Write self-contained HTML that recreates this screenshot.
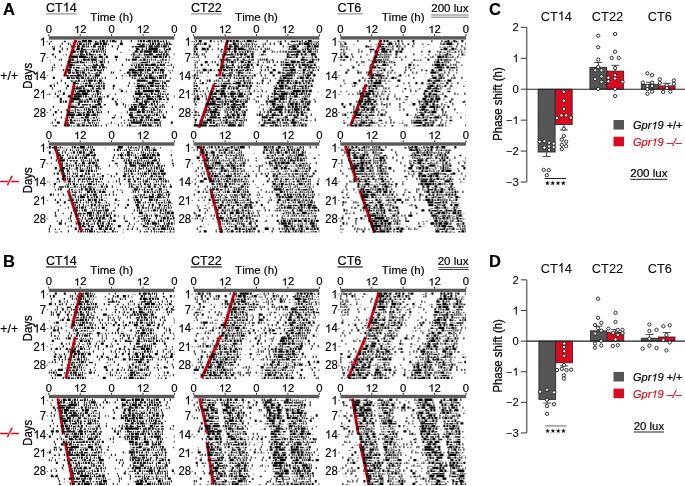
<!DOCTYPE html><html><head><meta charset="utf-8"><style>html,body{margin:0;padding:0;background:#fff;}svg{display:block;font-family:"Liberation Sans",sans-serif;will-change:transform;font-kerning:none;}</style></head><body>
<svg width="685" height="486" viewBox="0 0 685 486">
<rect width="685" height="486" fill="#fff"/>
<text transform="translate(3.00,15.00) scale(1.0,1.0)" font-size="16.5" text-anchor="start" font-weight="bold" fill="#000" stroke="#000" stroke-width="0.18"  >A</text>
<g transform="translate(46.00,11.80) scale(1.0,1.07)" fill="#000" stroke="#000" stroke-width="0.18"><text x="0.00" y="0" font-size="12.6" font-weight="normal"  >CT 4</text><path d="M763 0 L583 0 L583 -1102 Q518 -1042 412 -983 Q306 -924 223 -894 L223 -1061 Q372 -1128 484 -1224 Q596 -1320 643 -1409 L763 -1409 Z" stroke-width="29" transform="translate(16.80,0) scale(0.00615)"/></g>
<rect x="45.9" y="13.2" width="30.7" height="1.3" fill="#999"/>
<text transform="translate(111.60,21.30) scale(1.0,0.93)" font-size="11.5" text-anchor="middle" font-weight="normal" fill="#000" stroke="#000" stroke-width="0.18"  >Time (h)</text>
<text transform="translate(48.80,32.90) scale(1.0,0.93)" font-size="11.3" text-anchor="middle" font-weight="normal" fill="#000" stroke="#000" stroke-width="0.18"  >0</text>
<rect x="48.3" y="34.199999999999996" width="1" height="2" fill="#222"/>
<g transform="translate(80.20,32.90) scale(1.0,0.93)" fill="#000" stroke="#000" stroke-width="0.18"><text x="-6.28" y="0" font-size="11.3" font-weight="normal"  > 2</text><path d="M763 0 L583 0 L583 -1102 Q518 -1042 412 -983 Q306 -924 223 -894 L223 -1061 Q372 -1128 484 -1224 Q596 -1320 643 -1409 L763 -1409 Z" stroke-width="33" transform="translate(-6.28,0) scale(0.00552)"/></g>
<rect x="79.69999999999999" y="34.199999999999996" width="1" height="2" fill="#222"/>
<text transform="translate(111.60,32.90) scale(1.0,0.93)" font-size="11.3" text-anchor="middle" font-weight="normal" fill="#000" stroke="#000" stroke-width="0.18"  >0</text>
<rect x="111.1" y="34.199999999999996" width="1" height="2" fill="#222"/>
<g transform="translate(143.00,32.90) scale(1.0,0.93)" fill="#000" stroke="#000" stroke-width="0.18"><text x="-6.28" y="0" font-size="11.3" font-weight="normal"  > 2</text><path d="M763 0 L583 0 L583 -1102 Q518 -1042 412 -983 Q306 -924 223 -894 L223 -1061 Q372 -1128 484 -1224 Q596 -1320 643 -1409 L763 -1409 Z" stroke-width="33" transform="translate(-6.28,0) scale(0.00552)"/></g>
<rect x="142.5" y="34.199999999999996" width="1" height="2" fill="#222"/>
<text transform="translate(174.40,32.90) scale(1.0,0.93)" font-size="11.3" text-anchor="middle" font-weight="normal" fill="#000" stroke="#000" stroke-width="0.18"  >0</text>
<rect x="173.89999999999998" y="34.199999999999996" width="1" height="2" fill="#222"/>
<rect x="48.8" y="36.199999999999996" width="125.6" height="3.4" fill="#5a5a5a"/>
<g transform="translate(46.10,45.80) scale(1.0,1.07)" fill="#000" stroke="#000" stroke-width="0.18"><text x="-6.28" y="0" font-size="11.3" font-weight="normal"  > </text><path d="M763 0 L583 0 L583 -1102 Q518 -1042 412 -983 Q306 -924 223 -894 L223 -1061 Q372 -1128 484 -1224 Q596 -1320 643 -1409 L763 -1409 Z" stroke-width="33" transform="translate(-6.28,0) scale(0.00552)"/></g>
<rect x="46.599999999999994" y="41.199999999999996" width="1.6" height="0.8" fill="#444"/>
<text transform="translate(46.10,61.58) scale(1.0,1.07)" font-size="11.3" text-anchor="end" font-weight="normal" fill="#000" stroke="#000" stroke-width="0.18"  >7</text>
<rect x="46.599999999999994" y="56.98" width="1.6" height="0.8" fill="#444"/>
<g transform="translate(46.10,79.99) scale(1.0,1.07)" fill="#000" stroke="#000" stroke-width="0.18"><text x="-12.57" y="0" font-size="11.3" font-weight="normal"  > 4</text><path d="M763 0 L583 0 L583 -1102 Q518 -1042 412 -983 Q306 -924 223 -894 L223 -1061 Q372 -1128 484 -1224 Q596 -1320 643 -1409 L763 -1409 Z" stroke-width="33" transform="translate(-12.57,0) scale(0.00552)"/></g>
<rect x="46.599999999999994" y="75.38999999999999" width="1.6" height="0.8" fill="#444"/>
<g transform="translate(46.10,98.40) scale(1.0,1.07)" fill="#000" stroke="#000" stroke-width="0.18"><text x="-12.57" y="0" font-size="11.3" font-weight="normal"  >2 </text><path d="M763 0 L583 0 L583 -1102 Q518 -1042 412 -983 Q306 -924 223 -894 L223 -1061 Q372 -1128 484 -1224 Q596 -1320 643 -1409 L763 -1409 Z" stroke-width="33" transform="translate(-6.28,0) scale(0.00552)"/></g>
<rect x="46.599999999999994" y="93.79999999999998" width="1.6" height="0.8" fill="#444"/>
<text transform="translate(46.10,116.81) scale(1.0,1.07)" font-size="11.3" text-anchor="end" font-weight="normal" fill="#000" stroke="#000" stroke-width="0.18"  >28</text>
<rect x="46.599999999999994" y="112.20999999999998" width="1.6" height="0.8" fill="#444"/>
<line x1="75.5" y1="39.8" x2="64.7" y2="76.19999999999999" stroke="#e6000e" stroke-width="2.9"/>
<line x1="74.19999999999999" y1="84.1" x2="65.1" y2="126.5" stroke="#e6000e" stroke-width="2.9"/>
<path d="M75.8 41.13h1m5 0h5m1 0h4m8 0h1m1 0h3m2 0h1m2 0h1m1 0h3m6 0h1m9 0h1m6 0h1m1 0h2m1 0h2m3 0h3m1 0h1m1 0h2m1 0h2m4 0h1m2 0h1M48.8 43.76h1m12 0h1m5 0h1m8 0h1m1 0h3m4 0h1m1 0h1m1 0h1m4 0h4m1 0h2m1 0h4m13 0h3m27 0h1m1 0h2m1 0h1m2 0h2m4 0h1m1 0h2m1 0h1M59.8 46.39h1m10 0h1m1 0h1m3 0h3m2 0h3m1 0h1m1 0h1m4 0h3m4 0h1m1 0h2m1 0h1m6 0h1m5 0h1m20 0h6m1 0h1m2 0h4m1 0h1m1 0h4m1 0h1m1 0h4m1 0h1M52.8 49.02h2m7 0h1m4 0h1m9 0h3m1 0h2m15 0h1m1 0h1m1 0h2m13 0h1m18 0h3m3 0h1m3 0h1m2 0h9m6 0h1m4 0h2M58.8 51.65h2m12 0h3m4 0h4m1 0h2m4 0h1m1 0h2m1 0h2m1 0h1m1 0h1m1 0h1m1 0h1m29 0h3m2 0h3m1 0h8m1 0h5m1 0h1m5 0h2M52.8 54.28h1m26 0h3m3 0h2m1 0h2m13 0h2m27 0h2m4 0h1m4 0h1m4 0h4m5 0h1m2 0h1m1 0h2m1 0h2m6 0h0.6M54.8 56.91h1m13 0h1m1 0h7m1 0h7m5 0h2m6 0h4m3 0h2m7 0h3m15 0h1m11 0h1m1 0h2m4 0h5m1 0h3m1 0h1m1 0h2m2 0h1M60.8 59.54h1m10 0h2m3 0h1m5 0h3m2 0h2m1 0h6m5 0h1m1 0h1m11 0h1m9 0h1m5 0h5m6 0h3m1 0h1m3 0h1m3 0h1m6 0h2M67.8 62.17h3m6 0h2m1 0h2m10 0h1m3 0h1m3 0h3m1 0h1m3 0h1m38 0h1m1 0h1m11 0h1M53.8 64.80h1m14 0h4m11 0h1m8 0h1m2 0h2m3 0h3m18 0h1m13 0h1m1 0h2m1 0h2m2 0h3m3 0h5m4 0h2m1 0h2m6 0h1M51.8 67.43h1m16 0h3m14 0h1m5 0h5m2 0h2m1 0h3m30 0h2m1 0h3m2 0h1m12 0h2m15 0h1M51.8 70.06h1m10 0h1m3 0h4m4 0h2m7 0h1m1 0h1m1 0h1m5 0h2m1 0h1m3 0h1m1 0h1m25 0h6m3 0h6m1 0h1m1 0h4m3 0h3m1 0h1m1 0h4M64.8 72.69h1m2 0h3m5 0h3m1 0h1m1 0h3m14 0h2m10 0h1m1 0h1m13 0h3m2 0h5m3 0h2m3 0h1m1 0h1m4 0h2m6 0h1m1 0h2M63.8 75.32h1m12 0h4m2 0h1m1 0h2m3 0h1m4 0h5m29 0h2m3 0h3m1 0h4m2 0h1m4 0h3m11 0h1m1 0h2M52.8 77.95h2m12 0h3m1 0h1m4 0h3m2 0h3m4 0h1m4 0h1m1 0h1m1 0h1m7 0h1m10 0h1m15 0h1m12 0h3m1 0h5m3 0h1m1 0h3m1 0h1m1 0h1M60.8 80.58h1m16 0h2m4 0h1m1 0h1m1 0h5m1 0h2m3 0h3m35 0h9m6 0h4M56.8 83.21h1m7 0h1m7 0h3m13 0h2m7 0h2m1 0h1m27 0h1m18 0h6m8 0h1m1 0h2M49.8 85.84h2m2 0h1m12 0h2m16 0h2m1 0h5m6 0h1m1 0h1m1 0h2m8 0h2m13 0h1m8 0h7m1 0h1m4 0h4m1 0h1m2 0h1m1 0h1m1 0h2m2 0h1M51.8 88.47h1m13 0h1m9 0h6m1 0h2m7 0h2m4 0h2m3 0h2m8 0h1m24 0h2m1 0h1m1 0h2m1 0h1m1 0h2m8 0h1m3 0h2M59.8 91.10h1m12 0h1m1 0h1m3 0h7m1 0h3m1 0h1m4 0h3m22 0h2m15 0h2m3 0h11m1 0h5M54.8 93.73h1m7 0h2m11 0h4m2 0h6m9 0h2m1 0h1m34 0h8m8 0h2m5 0h1m1 0h1M56.8 96.36h2m9 0h3m3 0h8m1 0h1m1 0h2m5 0h1m2 0h1m1 0h1m9 0h2m24 0h1m5 0h2m5 0h4m7 0h4m5 0h1m7 0h0.6M59.8 98.99h2m10 0h8m9 0h3m6 0h4m10 0h2m20 0h1m1 0h3m3 0h1m4 0h6m2 0h1m3 0h3m5 0h2M59.8 101.62h2m1 0h1m1 0h2m4 0h3m5 0h4m1 0h2m1 0h2m3 0h1m1 0h2m1 0h3m1 0h1m13 0h1m20 0h2m4 0h1m1 0h4m5 0h2m1 0h2M77.8 104.25h2m18 0h3m15 0h2m5 0h1m15 0h4m2 0h2m4 0h2m1 0h1m2 0h1M52.8 106.88h1m15 0h1m1 0h4m8 0h1m6 0h1m1 0h5m3 0h2m23 0h1m5 0h2m1 0h3m1 0h1m2 0h4m10 0h2m3 0h1m1 0h1m1 0h1m7 0h1M74.8 109.51h1m8 0h1m1 0h1m1 0h2m2 0h1m3 0h1m1 0h1m30 0h8m5 0h3m6 0h1m1 0h2m2 0h1M54.8 112.14h2m4 0h1m6 0h2m5 0h1m11 0h2m1 0h1m1 0h2m3 0h1m3 0h1m6 0h1m18 0h1m9 0h4m1 0h3m2 0h1m1 0h1m1 0h2m6 0h1m1 0h1m4 0h1M52.8 114.77h1m13 0h8m3 0h4m1 0h2m1 0h4m3 0h3m1 0h1m31 0h4m21 0h1m1 0h2m5 0h1M60.8 117.40h1m9 0h3m11 0h4m7 0h1m17 0h1m6 0h1m8 0h4m7 0h3m2 0h4m10 0h1m2 0h3M54.8 120.03h1m14 0h2m12 0h2m1 0h2m8 0h1m30 0h1m4 0h2m1 0h1m3 0h3m3 0h1m1 0h1m1 0h2m2 0h6M51.8 122.66h1m4 0h3m10 0h3m11 0h1m3 0h1m3 0h1m18 0h1m19 0h11m1 0h1m1 0h1m8 0h1m5 0h1m10 0h2M64.8 125.29h1m1 0h3m7 0h3m2 0h3m5 0h1m2 0h1m1 0h2m9 0h1m11 0h1m8 0h1m1 0h2m9 0h1m1 0h5m1 0h4m5 0h2m1 0h1" stroke="#000" stroke-width="2.3" fill="none"/>
<path d="M50.8 41.53h1m12 0h2m12 0h3m14 0h2m9 0h1m8 0h2m29 0h2m12 0h2M69.8 44.16h1m12 0h2m9 0h1m13 0h1m28 0h4m1 0h3m3 0h1m8 0h1m12 0h2M51.8 46.79h1m1 0h1m20 0h1m15 0h1m6 0h2m32 0h2m1 0h4m16 0h1M75.8 49.42h1m6 0h3m6 0h2m11 0h1m33 0h1m8 0h1m17 0h3M70.8 52.05h2m4 0h2m82 0h2m5 0h1M51.8 54.68h1m13 0h1m3 0h1m7 0h1m4 0h2m6 0h3m1 0h1m3 0h2m30 0h1m13 0h4m7 0h2m1 0h2m7 0h1M85.8 57.31h2m1 0h1m4 0h3m38 0h5m9 0h1m1 0h1M58.8 59.94h1m9 0h3m9 0h1m4 0h2m40 0h2m10 0h2m7 0h1m3 0h1m6 0h1m4 0h2m2 0h1M70.8 62.57h6m5 0h3m1 0h1m7 0h1m46 0h6m10 0h3m5 0h1m2 0h1M60.8 65.20h1m11 0h2m19 0h2m35 0h2m1 0h1m8 0h1m4 0h3m6 0h2m3 0h1M53.8 67.83h1m18 0h2m1 0h4m7 0h2m1 0h1m15 0h1m34 0h1m3 0h2m1 0h3m1 0h2m4 0h2m4 0h1M76.8 70.46h2m3 0h1m7 0h3m5 0h3m19 0h1m14 0h3m26 0h1m7 0h1M71.8 73.09h3m13 0h2m6 0h2m3 0h1m28 0h1m6 0h2m16 0h1m1 0h2m11 0h1M65.8 75.72h3m1 0h7m4 0h1m40 0h1m9 0h2m12 0h2m11 0h4M71.8 78.35h3m4 0h1m5 0h1m1 0h1m3 0h1m10 0h1m31 0h2m3 0h1m1 0h3m10 0h2m14 0h1M70.8 80.98h2m2 0h2m20 0h1m48 0h2m8 0h3m1 0h1m1 0h1m3 0h4M75.8 83.61h3m4 0h1m1 0h3m8 0h1m6 0h2m29 0h1m2 0h3m15 0h5M73.8 86.24h1m2 0h1m3 0h3m10 0h1m1 0h3m45 0h1m2 0h2m7 0h2M72.8 88.87h3m20 0h2m2 0h1m35 0h2m13 0h1m4 0h2m2 0h1M57.8 91.50h1m18 0h2m14 0h2m31 0h1m8 0h2m26 0h2M48.8 94.13h1m23 0h3m4 0h2m11 0h1m1 0h1m19 0h1m28 0h4m1 0h1m4 0h2m6 0h2m1 0h1m1 0h2M87.8 96.76h1m10 0h2m3 0h1m38 0h2m5 0h1m1 0h2m1 0h1m6 0h2M79.8 99.39h1m1 0h1m3 0h2m6 0h1m1 0h1m20 0h1m21 0h1m13 0h1m3 0h1m5 0h2M115.8 102.02h1m31 0h2m9 0h1M81.8 104.65h6m1 0h2m4 0h3m6 0h2m19 0h1m5 0h1m1 0h4m6 0h2m4 0h1m12 0h2M74.8 107.28h3m2 0h3m15 0h1m41 0h1m4 0h3m4 0h1m6 0h1M49.8 109.91h1m7 0h1m7 0h2m9 0h2m11 0h2m8 0h1m37 0h2m19 0h2M69.8 112.54h4m3 0h3m1 0h1m1 0h2m4 0h1m8 0h2m30 0h3m24 0h1M75.8 115.17h2m13 0h2m22 0h1m21 0h4m3 0h3m1 0h3m1 0h1m6 0h1M66.8 117.80h1m1 0h1m11 0h3m9 0h2m17 0h2m20 0h4m1 0h1m11 0h2m5 0h1M66.8 120.43h2m5 0h2m1 0h1m1 0h1m9 0h1m2 0h4m3 0h1m24 0h1m5 0h2m12 0h1m7 0h1M64.8 123.06h1m1 0h2m4 0h2m7 0h1m6 0h2m3 0h1m1 0h1m1 0h1m22 0h1m2 0h1m4 0h1m17 0h2m1 0h1m1 0h1m2 0h3m1 0h1M52.8 125.69h1m1 0h2m14 0h1m14 0h3m2 0h1m6 0h1m2 0h1m20 0h1m32 0h1" stroke="#1a1a1a" stroke-width="1.5" fill="none"/>
<path d="M49.8 41.88h1m21 0h1m20 0h1m4 0h2m64 0h1m3 0h2M74.8 44.51h1m70 0h1m14 0h2M61.8 47.14h1m18 0h1m5 0h1m60 0h1M72.8 49.77h2m11 0h5m3 0h4m31 0h1m11 0h1m1 0h2m14 0h2M86.8 52.40h1m1 0h1m30 0h2m11 0h2m3 0h1m21 0h1m3 0h1M62.8 55.03h1m8 0h6m19 0h1m37 0h4m1 0h3m10 0h1M96.8 57.66h1m6 0h1m36 0h3M49.8 60.29h1m23 0h2m3 0h1m18 0h3m37 0h2m17 0h2M49.8 62.92h1m37 0h1m1 0h1m7 0h1m33 0h6m1 0h2m11 0h4m7 0h1M75.8 65.55h5m1 0h1m2 0h1m2 0h4m6 0h3m66 0h3M66.8 68.18h1m13 0h4m45 0h4m27 0h2m3 0h1M71.8 70.81h2m5 0h3m70 0h1m15 0h3M84.8 73.44h2m4 0h2m1 0h2m28 0h2m16 0h2m4 0h4M87.8 76.07h2m2 0h3m6 0h1m24 0h1m25 0h6M88.8 78.70h2m8 0h2m21 0h1m14 0h1M72.8 81.33h2m2 0h1m3 0h3m19 0h1m45 0h2m12 0h2M52.8 83.96h2m25 0h2m11 0h3m45 0h3m1 0h3m18 0h1M74.8 86.59h2m2 0h2m54 0h2m27 0h1m3 0h1M84.8 89.22h4m1 0h2m9 0h1m17 0h3m30 0h3m9 0h3M63.8 91.85h1m34 0h3m29 0h1m8 0h2m19 0h1m3 0h1M49.8 94.48h1m8 0h1m28 0h2m1 0h1m10 0h1m6 0h1m46 0h2M53.8 97.11h1m17 0h2m16 0h1m3 0h1m6 0h2m32 0h3m3 0h2M83.8 99.74h1m7 0h1m47 0h1m3 0h3M74.8 102.37h4m11 0h1m30 0h1m11 0h3m2 0h4m9 0h1m9 0h1m1 0h1m2 0h2M68.8 105.00h5m1 0h2m15 0h2m34 0h1m8 0h2m16 0h1m3 0h2m3 0h1M77.8 107.63h2m5 0h4m13 0h1m46 0h2m2 0h1m3 0h1M68.8 110.26h6m4 0h3m12 0h1m46 0h1m3 0h5m5 0h1m6 0h1M84.8 112.89h1m9 0h1m25 0h1m12 0h3m9 0h1m6 0h3M98.8 115.52h1m35 0h2m4 0h2m19 0h1M55.8 118.15h1m17 0h1m1 0h2m1 0h1m10 0h2m6 0h2m45 0h1m8 0h1m1 0h1M71.8 120.78h2m7 0h2m54 0h3m21 0h1M49.8 123.41h1m25 0h1m1 0h3m5 0h1m21 0h1m5 0h1M72.8 126.04h3m4 0h2m49 0h6m1 0h2m12 0h2" stroke="#444" stroke-width="0.8" fill="none"/>
<text transform="translate(48.80,139.00) scale(1.0,0.93)" font-size="11.3" text-anchor="middle" font-weight="normal" fill="#000" stroke="#000" stroke-width="0.18"  >0</text>
<rect x="48.3" y="140.3" width="1" height="2" fill="#222"/>
<g transform="translate(80.20,139.00) scale(1.0,0.93)" fill="#000" stroke="#000" stroke-width="0.18"><text x="-6.28" y="0" font-size="11.3" font-weight="normal"  > 2</text><path d="M763 0 L583 0 L583 -1102 Q518 -1042 412 -983 Q306 -924 223 -894 L223 -1061 Q372 -1128 484 -1224 Q596 -1320 643 -1409 L763 -1409 Z" stroke-width="33" transform="translate(-6.28,0) scale(0.00552)"/></g>
<rect x="79.69999999999999" y="140.3" width="1" height="2" fill="#222"/>
<text transform="translate(111.60,139.00) scale(1.0,0.93)" font-size="11.3" text-anchor="middle" font-weight="normal" fill="#000" stroke="#000" stroke-width="0.18"  >0</text>
<rect x="111.1" y="140.3" width="1" height="2" fill="#222"/>
<g transform="translate(143.00,139.00) scale(1.0,0.93)" fill="#000" stroke="#000" stroke-width="0.18"><text x="-6.28" y="0" font-size="11.3" font-weight="normal"  > 2</text><path d="M763 0 L583 0 L583 -1102 Q518 -1042 412 -983 Q306 -924 223 -894 L223 -1061 Q372 -1128 484 -1224 Q596 -1320 643 -1409 L763 -1409 Z" stroke-width="33" transform="translate(-6.28,0) scale(0.00552)"/></g>
<rect x="142.5" y="140.3" width="1" height="2" fill="#222"/>
<text transform="translate(174.40,139.00) scale(1.0,0.93)" font-size="11.3" text-anchor="middle" font-weight="normal" fill="#000" stroke="#000" stroke-width="0.18"  >0</text>
<rect x="173.89999999999998" y="140.3" width="1" height="2" fill="#222"/>
<rect x="48.8" y="142.3" width="125.6" height="3.4" fill="#5a5a5a"/>
<g transform="translate(46.10,151.90) scale(1.0,1.07)" fill="#000" stroke="#000" stroke-width="0.18"><text x="-6.28" y="0" font-size="11.3" font-weight="normal"  > </text><path d="M763 0 L583 0 L583 -1102 Q518 -1042 412 -983 Q306 -924 223 -894 L223 -1061 Q372 -1128 484 -1224 Q596 -1320 643 -1409 L763 -1409 Z" stroke-width="33" transform="translate(-6.28,0) scale(0.00552)"/></g>
<rect x="46.599999999999994" y="147.3" width="1.6" height="0.8" fill="#444"/>
<text transform="translate(46.10,167.68) scale(1.0,1.07)" font-size="11.3" text-anchor="end" font-weight="normal" fill="#000" stroke="#000" stroke-width="0.18"  >7</text>
<rect x="46.599999999999994" y="163.08" width="1.6" height="0.8" fill="#444"/>
<g transform="translate(46.10,186.09) scale(1.0,1.07)" fill="#000" stroke="#000" stroke-width="0.18"><text x="-12.57" y="0" font-size="11.3" font-weight="normal"  > 4</text><path d="M763 0 L583 0 L583 -1102 Q518 -1042 412 -983 Q306 -924 223 -894 L223 -1061 Q372 -1128 484 -1224 Q596 -1320 643 -1409 L763 -1409 Z" stroke-width="33" transform="translate(-12.57,0) scale(0.00552)"/></g>
<rect x="46.599999999999994" y="181.49" width="1.6" height="0.8" fill="#444"/>
<g transform="translate(46.10,204.50) scale(1.0,1.07)" fill="#000" stroke="#000" stroke-width="0.18"><text x="-12.57" y="0" font-size="11.3" font-weight="normal"  >2 </text><path d="M763 0 L583 0 L583 -1102 Q518 -1042 412 -983 Q306 -924 223 -894 L223 -1061 Q372 -1128 484 -1224 Q596 -1320 643 -1409 L763 -1409 Z" stroke-width="33" transform="translate(-6.28,0) scale(0.00552)"/></g>
<rect x="46.599999999999994" y="199.9" width="1.6" height="0.8" fill="#444"/>
<text transform="translate(46.10,222.91) scale(1.0,1.07)" font-size="11.3" text-anchor="end" font-weight="normal" fill="#000" stroke="#000" stroke-width="0.18"  >28</text>
<rect x="46.599999999999994" y="218.31" width="1.6" height="0.8" fill="#444"/>
<line x1="54.9" y1="145.9" x2="64.8" y2="181.4" stroke="#e6000e" stroke-width="2.9"/>
<line x1="68.1" y1="190.3" x2="81.6" y2="231.8" stroke="#e6000e" stroke-width="2.9"/>
<path d="M48.8 147.23h2m3 0h1m1 0h1m3 0h1m11 0h1m1 0h2m4 0h5m3 0h1m1 0h1m1 0h1m25 0h5m5 0h1m2 0h1m7 0h1m2 0h1m3 0h3M54.8 149.86h1m10 0h1m3 0h1m7 0h1m4 0h1m1 0h1m1 0h1m3 0h1m1 0h2m19 0h1m2 0h2m1 0h1m5 0h1m2 0h1m8 0h1m3 0h1m2 0h1m1 0h1m1 0h1m3 0h3M48.8 152.49h2m6 0h1m4 0h1m2 0h1m7 0h2m2 0h1m1 0h3m1 0h2m5 0h3m34 0h3m11 0h1m1 0h1m5 0h1m3 0h1M57.8 155.12h3m6 0h1m10 0h1m4 0h1m2 0h4m4 0h2m18 0h1m3 0h1m1 0h3m2 0h1m1 0h3m1 0h1m3 0h1m6 0h4m1 0h2m1 0h1m1 0h3m2 0h3m11 0h1M50.8 157.75h1m5 0h1m2 0h3m7 0h1m1 0h1m2 0h2m3 0h1m1 0h1m1 0h3m7 0h1m18 0h1m7 0h1m7 0h1m5 0h2m1 0h1m4 0h5m1 0h4m2 0h1M55.8 160.38h1m3 0h5m2 0h1m13 0h1m1 0h1m5 0h1m1 0h1m3 0h1m1 0h2m25 0h1m1 0h1m1 0h2m1 0h1m5 0h1m1 0h1m1 0h1m6 0h1m5 0h3m2 0h1m12 0h1M61.8 163.01h1m12 0h2m5 0h3m4 0h2m1 0h3m1 0h1m28 0h2m2 0h3m1 0h1m1 0h1m1 0h2m4 0h1m1 0h1m1 0h3m1 0h3m3 0h2M60.8 165.64h2m4 0h1m1 0h1m1 0h1m1 0h1m2 0h1m1 0h1m1 0h1m1 0h1m1 0h1m4 0h1m5 0h3m11 0h1m20 0h6m3 0h1m1 0h5m1 0h1m2 0h1m1 0h1m5 0h2m4 0h1m8 0h1M54.8 168.27h2m5 0h3m4 0h1m6 0h2m2 0h1m6 0h1m1 0h1m1 0h1m4 0h1m1 0h1m25 0h1m1 0h1m8 0h1m3 0h1m3 0h1m2 0h1m4 0h1m2 0h1m1 0h2m1 0h1m1 0h1M58.8 170.90h1m1 0h3m3 0h2m8 0h1m2 0h4m2 0h1m1 0h2m1 0h2m3 0h1m29 0h1m1 0h1m1 0h2m1 0h1m1 0h1m2 0h1m9 0h3m3 0h1m5 0h4M53.8 173.53h1m2 0h2m4 0h2m2 0h1m1 0h1m3 0h1m1 0h1m1 0h1m7 0h2m1 0h2m26 0h1m7 0h1m3 0h1m2 0h2m5 0h1m1 0h1m1 0h1m1 0h3m1 0h1m2 0h1m1 0h3m2 0h2m1 0h5M62.8 176.16h3m6 0h1m3 0h2m2 0h3m1 0h1m9 0h1m7 0h2m7 0h1m11 0h3m3 0h1m11 0h1m1 0h1m7 0h2m3 0h1m6 0h1M56.8 178.79h2m3 0h2m1 0h1m1 0h1m1 0h2m3 0h1m9 0h1m1 0h1m1 0h3m2 0h1m6 0h1m1 0h1m16 0h1m13 0h1m3 0h2m1 0h1m6 0h1m1 0h1m1 0h1m7 0h3m1 0h1M58.8 181.42h1m8 0h3m3 0h1m3 0h1m3 0h1m4 0h1m5 0h1m2 0h1m19 0h1m2 0h1m8 0h2m4 0h2m7 0h1m1 0h3m8 0h1m1 0h1m2 0h1m1 0h1m1 0h2m1 0h1M53.8 184.05h2m12 0h1m1 0h1m2 0h2m13 0h4m4 0h1m6 0h1m16 0h1m8 0h1m1 0h1m8 0h1m3 0h2m4 0h1m10 0h1M64.8 186.68h1m1 0h2m5 0h2m5 0h1m3 0h1m15 0h2m3 0h2m4 0h1m16 0h1m1 0h2m8 0h1m6 0h3m3 0h2m4 0h1m2 0h2m5 0h2M57.8 189.31h1m1 0h2m7 0h1m11 0h2m2 0h3m1 0h3m1 0h2m10 0h1m28 0h4m1 0h1m4 0h1m6 0h2m6 0h3M71.8 191.94h1m6 0h1m7 0h3m1 0h2m1 0h2m3 0h2m1 0h3m8 0h1m19 0h1m1 0h1m2 0h1m5 0h2m1 0h2m3 0h1m4 0h1m1 0h1m1 0h1m5 0h2M49.8 194.57h2m1 0h1m4 0h1m4 0h1m11 0h1m9 0h1m1 0h1m5 0h4m4 0h1m7 0h1m3 0h1m30 0h1m7 0h2m4 0h3m1 0h1m3 0h1m1 0h2M69.8 197.20h1m4 0h1m2 0h1m1 0h5m2 0h2m5 0h1m1 0h2m3 0h1m33 0h2m3 0h1m1 0h1m6 0h5m3 0h4m2 0h1m4 0h1M54.8 199.83h1m4 0h1m10 0h3m2 0h1m1 0h1m4 0h1m4 0h3m1 0h1m1 0h3m2 0h1m1 0h2m12 0h2m11 0h1m5 0h1m1 0h3m2 0h1m7 0h4m1 0h1m1 0h2m9 0h1M56.8 202.46h2m5 0h2m10 0h2m2 0h1m5 0h1m1 0h1m2 0h1m3 0h2m1 0h2m6 0h1m28 0h1m1 0h4m4 0h1m4 0h1m5 0h1m7 0h1m3 0h3M72.8 205.09h1m1 0h1m3 0h1m3 0h1m7 0h2m1 0h2m3 0h1m9 0h1m8 0h1m8 0h2m7 0h3m4 0h1m5 0h1m2 0h2m5 0h2m7 0h1M67.8 207.72h1m7 0h2m1 0h1m1 0h3m1 0h1m5 0h1m4 0h1m2 0h1m2 0h2m1 0h1m19 0h1m11 0h3m2 0h2m4 0h1m3 0h1m2 0h1m3 0h1m4 0h1m3 0h1m2 0h1M57.8 210.35h1m15 0h1m1 0h2m4 0h1m1 0h3m5 0h1m1 0h1m1 0h1m6 0h1m1 0h4m25 0h1m2 0h1m1 0h1m1 0h1m6 0h1m4 0h3m1 0h1m2 0h2m1 0h1m1 0h2M54.8 212.98h1m15 0h1m4 0h1m10 0h5m1 0h1m3 0h2m1 0h1m3 0h1m1 0h1m4 0h1m27 0h4m17 0h1m4 0h1m1 0h3m1 0h3M54.8 215.61h1m20 0h3m1 0h1m2 0h1m3 0h1m1 0h3m1 0h1m2 0h1m1 0h1m4 0h2m1 0h3m1 0h1m3 0h2m28 0h1m1 0h2m3 0h1m3 0h3m8 0h1m3 0h1M69.8 218.24h1m11 0h1m2 0h1m5 0h2m3 0h2m1 0h2m1 0h3m5 0h2m12 0h1m9 0h1m9 0h2m1 0h1m8 0h1m4 0h1m1 0h3m1 0h2m4 0h1.6M60.8 220.87h1m9 0h1m9 0h1m4 0h2m5 0h1m4 0h3m8 0h1m3 0h3m28 0h1m1 0h1m1 0h2m8 0h1m1 0h2m1 0h1m3 0h1m1 0h1m4 0h0.6M58.8 223.50h3m3 0h1m10 0h1m1 0h3m2 0h2m3 0h1m5 0h1m2 0h2m1 0h1m1 0h2m4 0h2m19 0h1m15 0h1m1 0h2m3 0h5m1 0h1m5 0h1m3 0h2m1 0h2m1 0h0.6M49.8 226.13h1m20 0h1m8 0h1m1 0h2m4 0h2m8 0h2m1 0h3m3 0h2m1 0h1m7 0h3m7 0h1m14 0h2m10 0h1m4 0h1m1 0h2m1 0h1m1 0h2M48.8 228.76h1m25 0h2m2 0h1m11 0h2m6 0h3m3 0h3m2 0h2m2 0h1m17 0h1m4 0h1m10 0h1m4 0h2m6 0h5m1 0h1m1 0h1m1 0h1m1 0h1M48.8 231.39h1m18 0h1m9 0h1m6 0h1m1 0h1m1 0h4m1 0h1m9 0h2m6 0h2m26 0h1m10 0h1m2 0h1m15 0h1m3 0h0.6" stroke="#000" stroke-width="2.3" fill="none"/>
<path d="M51.8 147.63h2m4 0h1m3 0h1m14 0h2m51 0h1m2 0h1m1 0h2m12 0h1m4 0h1m5 0h1M56.8 150.26h3m12 0h1m3 0h1m47 0h1m9 0h1m1 0h1m14 0h1m4 0h1M57.8 152.89h2m11 0h1m22 0h1m26 0h1m1 0h1m7 0h2m12 0h1m5 0h1m3 0h1m1 0h2M61.8 155.52h2m12 0h1m7 0h1m6 0h3m39 0h1m6 0h1m14 0h1M67.8 158.15h2m3 0h1m19 0h1m28 0h2m16 0h3M69.8 160.78h2m1 0h2m1 0h2m7 0h1m1 0h1m24 0h2m20 0h2m8 0h1m1 0h1m5 0h2M50.8 163.41h1m9 0h1m4 0h2m11 0h1m8 0h1m26 0h3m21 0h3m30 0h2M65.8 166.04h1m24 0h1m25 0h1m7 0h2m21 0h1m5 0h1m6 0h2M59.8 168.67h1m5 0h2m14 0h1m17 0h1m28 0h1m2 0h1m7 0h2m6 0h1m14 0h1M93.8 171.30h1m29 0h1m21 0h1m5 0h1m3 0h1M81.8 173.93h1m11 0h1m2 0h2m1 0h1m16 0h1m7 0h2m29 0h1M66.8 176.56h1m1 0h1m17 0h1m1 0h1m2 0h1m21 0h1m13 0h1m3 0h2m11 0h1m4 0h1m3 0h1m3 0h3M77.8 179.19h3m1 0h2m11 0h3m26 0h2m2 0h3m12 0h1m9 0h3m1 0h1m7 0h1M71.8 181.82h1m11 0h1m4 0h1m1 0h2m5 0h2m1 0h1m6 0h1m21 0h1m7 0h1m1 0h1m8 0h1M75.8 184.45h2m2 0h2m1 0h1m2 0h1m6 0h2m11 0h1m26 0h1m4 0h1m8 0h2m5 0h3m1 0h1m4 0h1m1 0h1m4 0h1M53.8 187.08h1m4 0h5m13 0h1m5 0h2m3 0h4m12 0h1m31 0h3m27 0h1M54.8 189.71h1m15 0h2m6 0h1m20 0h1m2 0h1m13 0h1m24 0h1m4 0h1m1 0h1m16 0h1M73.8 192.34h3m4 0h1m23 0h1m16 0h1m27 0h1m3 0h2M68.8 194.97h2m1 0h3m5 0h2m1 0h2m5 0h2m13 0h2m9 0h1m21 0h1m1 0h2m1 0h1m5 0h1m7 0h1m3 0h1M90.8 197.60h2m40 0h1m3 0h1m6 0h4m7 0h1m5 0h1m2 0h1M67.8 200.23h2m10 0h2m82 0h1m4 0h1M72.8 202.86h3m7 0h1m16 0h1m42 0h1m4 0h1m9 0h2m1 0h2m3 0h1M59.8 205.49h1m16 0h1m10 0h1m12 0h1m1 0h1m1 0h3m33 0h1m20 0h1m1 0h3m3 0h1M73.8 208.12h2m39 0h1m10 0h1m18 0h2m10 0h2m2 0h1m4 0h1m2 0h1M78.8 210.75h1m18 0h4m11 0h2m36 0h1m18 0h1M62.8 213.38h1m14 0h4m1 0h3m23 0h1m22 0h1m29 0h2M55.8 216.01h1m13 0h2m28 0h2m16 0h1m5 0h1m17 0h1m6 0h1m9 0h2m3 0h1m7 0h2M67.8 218.64h1m8 0h3m8 0h3m3 0h1m46 0h3m5 0h2m19 0h2M56.8 221.27h1m21 0h1m9 0h2m4 0h1m15 0h1m13 0h3m10 0h1m3 0h1m11 0h1M80.8 223.90h1m4 0h2m4 0h1m13 0h1m4 0h2m21 0h1m6 0h1m8 0h1m15 0h2M67.8 226.53h1m15 0h2m5 0h3m11 0h1m27 0h1m11 0h3m9 0h2m11 0h1M54.8 229.16h1m3 0h1m21 0h1m3 0h5m6 0h1m6 0h1m5 0h1m17 0h2m27 0h1m1 0h2m14 0h0.6M60.8 231.79h1m18 0h2m1 0h1m13 0h1m4 0h1m12 0h1m1 0h1m26 0h1m1 0h2m8 0h1m1 0h1m1 0h3m1 0h1" stroke="#1a1a1a" stroke-width="1.5" fill="none"/>
<path d="M56.8 147.98h1m6 0h1m2 0h1m18 0h1m18 0h1m31 0h1m6 0h2m5 0h2M62.8 150.61h2m9 0h1m5 0h2m7 0h1m32 0h1m7 0h3m38 0h1M52.8 153.24h1m14 0h2m16 0h1m1 0h2m44 0h1m2 0h2m8 0h1M68.8 155.87h2m1 0h2m7 0h1m41 0h1m13 0h1M63.8 158.50h1m13 0h1m8 0h1m1 0h1m1 0h1m25 0h2m7 0h2m30 0h2M113.8 161.13h1m8 0h1m18 0h1m7 0h1M58.8 163.76h1m4 0h1m5 0h1m15 0h1m11 0h1m28 0h1m27 0h1m4 0h1M64.8 166.39h1m20 0h3m4 0h1m4 0h2m36 0h1m19 0h2M70.8 169.02h2m1 0h2m8 0h2m33 0h1m8 0h1m21 0h1m1 0h1M68.8 171.65h1m2 0h1m69 0h1m1 0h1m13 0h1M91.8 174.28h2m13 0h2m25 0h2M72.8 176.91h3m14 0h1m6 0h1m1 0h2m25 0h1m9 0h1m24 0h1M90.8 179.54h1M48.8 182.17h1m6 0h2m6 0h3m46 0h1m39 0h2M49.8 184.80h1m15 0h2m30 0h1m1 0h2m22 0h1m9 0h3m22 0h1M69.8 187.43h3m6 0h1m12 0h1m1 0h2m2 0h1m17 0h1m16 0h2m9 0h3m10 0h2M73.8 190.06h3m19 0h3m21 0h3m9 0h2m21 0h3m5 0h2M60.8 192.69h1m6 0h1m1 0h1m26 0h1m33 0h1m31 0h4m3 0h1M64.8 195.32h1m12 0h1m20 0h1m3 0h1m30 0h3m9 0h1m8 0h1m8 0h1M70.8 197.95h3m25 0h1m4 0h1m1 0h1m58 0h1M84.8 200.58h1m18 0h2m12 0h2m39 0h2m1 0h1M92.8 203.21h1m8 0h1m1 0h1m3 0h2m4 0h2m36 0h2m17 0h2M84.8 205.84h2m10 0h2M64.8 208.47h1m23 0h1m3 0h2m3 0h1m8 0h1m42 0h1m12 0h1M89.8 211.10h1m53 0h3m21 0h2m2 0h1M94.8 213.73h1m6 0h1m5 0h1m36 0h2m2 0h1m4 0h2M137.8 216.36h4m20 0h1m4 0h2M79.8 218.99h1m24 0h2m1 0h1M68.8 221.62h1m5 0h1m7 0h1m18 0h4m1 0h1m28 0h1m14 0h2m12 0h1M89.8 224.25h2m22 0h1m15 0h1m12 0h1m15 0h1M78.8 226.88h1m32 0h1m36 0h4m19 0h1M81.8 229.51h2m39 0h1m7 0h1m13 0h2m3 0h1M54.8 232.14h3m40 0h3m6 0h3m13 0h1m43 0h1m1 0h1m2 0h2" stroke="#444" stroke-width="0.8" fill="none"/>
<text transform="translate(190.90,11.80) scale(1.0,1.07)" font-size="12.6" text-anchor="start" font-weight="normal" fill="#000" stroke="#000" stroke-width="0.18"  >CT22</text>
<rect x="190.79999999999998" y="13.2" width="31.0" height="1.3" fill="#999"/>
<text transform="translate(256.50,21.30) scale(1.0,0.93)" font-size="11.5" text-anchor="middle" font-weight="normal" fill="#000" stroke="#000" stroke-width="0.18"  >Time (h)</text>
<text transform="translate(193.70,32.90) scale(1.0,0.93)" font-size="11.3" text-anchor="middle" font-weight="normal" fill="#000" stroke="#000" stroke-width="0.18"  >0</text>
<rect x="193.2" y="34.199999999999996" width="1" height="2" fill="#222"/>
<g transform="translate(225.10,32.90) scale(1.0,0.93)" fill="#000" stroke="#000" stroke-width="0.18"><text x="-6.28" y="0" font-size="11.3" font-weight="normal"  > 2</text><path d="M763 0 L583 0 L583 -1102 Q518 -1042 412 -983 Q306 -924 223 -894 L223 -1061 Q372 -1128 484 -1224 Q596 -1320 643 -1409 L763 -1409 Z" stroke-width="33" transform="translate(-6.28,0) scale(0.00552)"/></g>
<rect x="224.6" y="34.199999999999996" width="1" height="2" fill="#222"/>
<text transform="translate(256.50,32.90) scale(1.0,0.93)" font-size="11.3" text-anchor="middle" font-weight="normal" fill="#000" stroke="#000" stroke-width="0.18"  >0</text>
<rect x="256.0" y="34.199999999999996" width="1" height="2" fill="#222"/>
<g transform="translate(287.90,32.90) scale(1.0,0.93)" fill="#000" stroke="#000" stroke-width="0.18"><text x="-6.28" y="0" font-size="11.3" font-weight="normal"  > 2</text><path d="M763 0 L583 0 L583 -1102 Q518 -1042 412 -983 Q306 -924 223 -894 L223 -1061 Q372 -1128 484 -1224 Q596 -1320 643 -1409 L763 -1409 Z" stroke-width="33" transform="translate(-6.28,0) scale(0.00552)"/></g>
<rect x="287.4" y="34.199999999999996" width="1" height="2" fill="#222"/>
<text transform="translate(319.30,32.90) scale(1.0,0.93)" font-size="11.3" text-anchor="middle" font-weight="normal" fill="#000" stroke="#000" stroke-width="0.18"  >0</text>
<rect x="318.79999999999995" y="34.199999999999996" width="1" height="2" fill="#222"/>
<rect x="193.7" y="36.199999999999996" width="125.6" height="3.4" fill="#5a5a5a"/>
<g transform="translate(191.00,45.80) scale(1.0,1.07)" fill="#000" stroke="#000" stroke-width="0.18"><text x="-6.28" y="0" font-size="11.3" font-weight="normal"  > </text><path d="M763 0 L583 0 L583 -1102 Q518 -1042 412 -983 Q306 -924 223 -894 L223 -1061 Q372 -1128 484 -1224 Q596 -1320 643 -1409 L763 -1409 Z" stroke-width="33" transform="translate(-6.28,0) scale(0.00552)"/></g>
<rect x="191.5" y="41.199999999999996" width="1.6" height="0.8" fill="#444"/>
<text transform="translate(191.00,61.58) scale(1.0,1.07)" font-size="11.3" text-anchor="end" font-weight="normal" fill="#000" stroke="#000" stroke-width="0.18"  >7</text>
<rect x="191.5" y="56.98" width="1.6" height="0.8" fill="#444"/>
<g transform="translate(191.00,79.99) scale(1.0,1.07)" fill="#000" stroke="#000" stroke-width="0.18"><text x="-12.57" y="0" font-size="11.3" font-weight="normal"  > 4</text><path d="M763 0 L583 0 L583 -1102 Q518 -1042 412 -983 Q306 -924 223 -894 L223 -1061 Q372 -1128 484 -1224 Q596 -1320 643 -1409 L763 -1409 Z" stroke-width="33" transform="translate(-12.57,0) scale(0.00552)"/></g>
<rect x="191.5" y="75.38999999999999" width="1.6" height="0.8" fill="#444"/>
<g transform="translate(191.00,98.40) scale(1.0,1.07)" fill="#000" stroke="#000" stroke-width="0.18"><text x="-12.57" y="0" font-size="11.3" font-weight="normal"  >2 </text><path d="M763 0 L583 0 L583 -1102 Q518 -1042 412 -983 Q306 -924 223 -894 L223 -1061 Q372 -1128 484 -1224 Q596 -1320 643 -1409 L763 -1409 Z" stroke-width="33" transform="translate(-6.28,0) scale(0.00552)"/></g>
<rect x="191.5" y="93.79999999999998" width="1.6" height="0.8" fill="#444"/>
<text transform="translate(191.00,116.81) scale(1.0,1.07)" font-size="11.3" text-anchor="end" font-weight="normal" fill="#000" stroke="#000" stroke-width="0.18"  >28</text>
<rect x="191.5" y="112.20999999999998" width="1.6" height="0.8" fill="#444"/>
<line x1="227.5" y1="39.8" x2="219.2" y2="76.3" stroke="#e6000e" stroke-width="2.9"/>
<line x1="214.1" y1="84.19999999999999" x2="198.89999999999998" y2="127.7" stroke="#e6000e" stroke-width="2.9"/>
<path d="M195.7 41.13h1m2 0h3m8 0h2m9 0h1m5 0h2m1 0h2m1 0h2m1 0h3m5 0h1m2 0h5m1 0h1m13 0h1m17 0h1m11 0h1m4 0h1m5 0h4M197.7 43.76h1m1 0h1m3 0h3m19 0h2m5 0h3m2 0h1m2 0h1m4 0h1m5 0h1m12 0h1m4 0h1m3 0h1m5 0h2m6 0h1m10 0h2m1 0h1m1 0h6m1 0h1m4 0h1m1 0h1M194.7 46.39h2m12 0h2m14 0h1m3 0h3m2 0h5m3 0h1m1 0h1m1 0h1m1 0h1m3 0h1m2 0h1m7 0h1m19 0h1m8 0h4m1 0h2m8 0h4m1 0h1m1 0h5M193.7 49.02h1m1 0h2m4 0h4m1 0h2m9 0h1m8 0h4m3 0h3m1 0h6m5 0h1m1 0h1m1 0h1m7 0h1m3 0h1m1 0h1m1 0h1m19 0h1m3 0h4m8 0h1m1 0h2m2 0h1m1 0h1m1 0h1M193.7 51.65h2m10 0h1m14 0h1m7 0h1m4 0h3m8 0h1m1 0h2m1 0h1m12 0h3m6 0h1m7 0h1m2 0h1m2 0h1m10 0h4m2 0h3m2 0h4m3 0h1m1 0h1M193.7 54.28h1m1 0h2m4 0h1m1 0h1m19 0h3m4 0h2m2 0h1m1 0h2m1 0h3m1 0h3m4 0h3m9 0h1m23 0h2m7 0h3m2 0h2m2 0h2m4 0h5M197.7 56.91h1m6 0h1m12 0h1m4 0h1m9 0h2m6 0h1m5 0h3m2 0h2m33 0h2m7 0h2m14 0h1m2 0h2M219.7 59.54h1m5 0h3m8 0h2m4 0h2m4 0h1m3 0h1m6 0h1m1 0h1m1 0h1m1 0h2m18 0h1m14 0h4m7 0h2m2 0h1m1 0h1.6M196.7 62.17h1m7 0h3m4 0h1m2 0h1m5 0h1m5 0h1m1 0h1m1 0h3m1 0h1m5 0h3m4 0h3m7 0h1m8 0h1m1 0h1m3 0h1m3 0h1m3 0h1m1 0h1m7 0h5m1 0h3m4 0h1m4 0h5M194.7 64.80h1m5 0h2m5 0h1m8 0h2m7 0h1m5 0h2m11 0h1m1 0h3m1 0h2m4 0h2m22 0h1m1 0h1m1 0h6m1 0h2m2 0h1m2 0h1m2 0h4m1 0h2m1 0h1m3 0h2M194.7 67.43h1m26 0h3m1 0h3m3 0h1m1 0h1m3 0h2m1 0h2m3 0h4m3 0h1m7 0h1m5 0h2m20 0h1m3 0h2m4 0h2m4 0h2m1 0h4m4 0h1m2 0h0.6M202.7 70.06h4m3 0h2m6 0h2m1 0h1m1 0h3m3 0h1m1 0h2m3 0h2m5 0h1m3 0h2m1 0h1m10 0h1m3 0h1m2 0h1m4 0h3m7 0h1m6 0h6m7 0h3m3 0h1m3 0h1m4 0h1M196.7 72.69h1m2 0h1m1 0h1m5 0h1m23 0h1m5 0h3m19 0h1m9 0h3m5 0h3m10 0h2m2 0h1m7 0h2m3 0h1m1 0h3M193.7 75.32h2m1 0h1m18 0h2m4 0h4m3 0h3m2 0h1m3 0h2m14 0h2m5 0h1m3 0h1m7 0h2m11 0h7m1 0h1m8 0h1m1 0h1m1 0h4m2 0h3M193.7 77.95h1m29 0h1m5 0h1m3 0h1m8 0h2m2 0h2m3 0h1m27 0h1m2 0h4m13 0h4m2 0h3M194.7 80.58h1m4 0h1m6 0h1m1 0h2m5 0h1m1 0h1m3 0h1m5 0h2m8 0h1m4 0h2m3 0h1m1 0h1m11 0h2m6 0h1m8 0h6m2 0h3m1 0h1m10 0h2m5 0h2m1 0h2M193.7 83.21h1m7 0h2m32 0h5m3 0h2m1 0h1m1 0h2m1 0h1m4 0h1m4 0h1m5 0h1m8 0h3m1 0h3m3 0h2m1 0h1m2 0h1m1 0h3m1 0h2m2 0h1m2 0h1m1 0h2M193.7 85.84h1m1 0h2m23 0h6m11 0h3m1 0h3m1 0h2m2 0h2m24 0h1m2 0h5m1 0h2m7 0h2m9 0h2m4 0h2M198.7 88.47h1m7 0h1m15 0h3m2 0h2m1 0h1m1 0h2m1 0h3m8 0h1m1 0h2m24 0h3m2 0h4m1 0h1m2 0h3m1 0h1m1 0h2m6 0h2m1 0h2m1 0h1M193.7 91.10h1m1 0h2m5 0h1m12 0h4m1 0h4m13 0h2m9 0h1m4 0h1m7 0h1m11 0h2m4 0h1m12 0h8m1 0h3m1 0h2m1 0h3M193.7 93.73h1m10 0h1m4 0h3m1 0h3m3 0h6m2 0h1m1 0h6m1 0h1m1 0h4m7 0h2m20 0h1m1 0h3m4 0h7m1 0h1m1 0h4m1 0h2m3 0h2m1 0h1m1 0h1M194.7 96.36h1m1 0h2m3 0h1m3 0h1m5 0h1m8 0h2m1 0h3m4 0h3m4 0h6m3 0h1m13 0h1m6 0h1m5 0h1m4 0h6m1 0h1m3 0h1m3 0h4m7 0h1m1 0h1m1 0h1M193.7 98.99h2m1 0h3m6 0h1m2 0h5m2 0h5m4 0h1m7 0h3m11 0h1m1 0h1m18 0h1m5 0h5m1 0h5m1 0h1m3 0h2m10 0h1m1 0h3M193.7 101.62h1m13 0h1m3 0h4m6 0h1m2 0h2m1 0h1m1 0h4m1 0h4m1 0h2m1 0h1m1 0h3m8 0h1m1 0h1m7 0h2m1 0h7m3 0h2m8 0h2m2 0h1m7 0h3m5 0h2m4 0h1M194.7 104.25h1m10 0h10m6 0h1m1 0h2m1 0h2m4 0h3m6 0h3m22 0h1m4 0h4m6 0h1m5 0h1m1 0h4m1 0h3m1 0h1m3 0h1m1 0h1m1 0h3M205.7 106.88h1m10 0h2m3 0h1m8 0h5m4 0h2m1 0h2m1 0h1m26 0h2m3 0h6m4 0h2m2 0h2m1 0h3m1 0h1m1 0h1m2 0h3M208.7 109.51h2m4 0h3m8 0h1m1 0h1m1 0h1m1 0h3m1 0h1m1 0h3m22 0h1m6 0h2m3 0h8m2 0h1m6 0h1m1 0h6m1 0h1m2 0h1m2 0h3M194.7 112.14h2m9 0h1m1 0h1m1 0h7m8 0h1m1 0h1m3 0h1m2 0h1m1 0h2m4 0h1m1 0h2m14 0h1m3 0h1m3 0h1m1 0h2m7 0h3m3 0h1m2 0h2m2 0h1m1 0h1m1 0h2m3 0h2M206.7 114.77h1m3 0h2m1 0h2m2 0h2m7 0h2m3 0h3m2 0h3m3 0h3m11 0h1m1 0h2m1 0h1m5 0h1m3 0h4m5 0h2m8 0h1m5 0h2m2 0h3m7 0h1M204.7 117.40h1m4 0h7m8 0h2m1 0h4m1 0h2m2 0h3m4 0h1m17 0h6m4 0h2m11 0h3m6 0h4m8 0h2M194.7 120.03h2m5 0h1m4 0h5m8 0h1m5 0h2m8 0h2m6 0h1m1 0h1m15 0h1m5 0h3m6 0h3m2 0h2m1 0h1m1 0h2m3 0h3m6 0h1m1 0h1m11 0h1M194.7 122.66h1m7 0h5m2 0h2m1 0h2m6 0h1m3 0h3m1 0h2m2 0h1m1 0h1m5 0h1m1 0h1m15 0h1m4 0h2m6 0h4m1 0h1m2 0h1m5 0h1m4 0h6m1 0h1M193.7 125.29h5m1 0h7m9 0h2m1 0h1m2 0h1m5 0h8m2 0h4m1 0h1m17 0h4m8 0h1m1 0h3m2 0h1m5 0h1m1 0h1m4 0h3m3 0h1m1 0h3m1 0h2" stroke="#000" stroke-width="2.3" fill="none"/>
<path d="M193.7 41.53h1m19 0h1m3 0h1m21 0h1m1 0h1m12 0h2m21 0h1m1 0h2m9 0h5m3 0h2m4 0h2m11 0h1M193.7 44.16h1m1 0h2m4 0h1m15 0h1m17 0h1m11 0h2m4 0h1m8 0h1m49 0h2M193.7 46.79h1m32 0h1m4 0h1m17 0h1m7 0h2m29 0h3m13 0h1M211.7 49.42h1m8 0h2m3 0h1m5 0h1m11 0h2m9 0h1m1 0h1m33 0h2m9 0h2m5 0h2m6 0h1M196.7 52.05h1m28 0h2m4 0h1m6 0h2m1 0h2m8 0h2m20 0h1m2 0h1m7 0h1m2 0h9m16 0h1M221.7 54.68h1m4 0h4m2 0h1m27 0h2m2 0h1m23 0h1m1 0h5m8 0h1M193.7 57.31h1m35 0h3m12 0h1m5 0h1m37 0h3m2 0h1m7 0h3M198.7 59.94h1m21 0h2m1 0h2m3 0h2m3 0h2m15 0h2m5 0h1m13 0h2m11 0h1m2 0h1m16 0h3m2 0h1m3 0h1M194.7 62.57h1m27 0h1m21 0h2m16 0h1m21 0h4m12 0h3m3 0h2M221.7 65.20h3m13 0h1m2 0h1m1 0h2m17 0h1m11 0h2m24 0h1m5 0h1m4 0h2M196.7 67.83h1m23 0h1m7 0h3m12 0h2m25 0h1m11 0h5m2 0h3m8 0h1m10 0h3M193.7 70.46h1m2 0h1m1 0h1m8 0h1m5 0h1m11 0h2m6 0h1m4 0h4m2 0h2m5 0h1m32 0h5m17 0h1m4 0h1m2 0h1M221.7 73.09h2m5 0h3m4 0h1m4 0h3m3 0h1m1 0h2m31 0h3m2 0h4m2 0h2m2 0h1M226.7 75.72h2m7 0h1m4 0h3m1 0h2m3 0h1m1 0h1m29 0h4M195.7 78.35h3m20 0h3m4 0h2m8 0h2m1 0h3m21 0h1m1 0h1m1 0h1m13 0h1m5 0h6m4 0h2m11 0h2M213.7 80.98h1m25 0h2m4 0h1m31 0h1m6 0h2m6 0h1m1 0h3m7 0h3M195.7 83.61h1m3 0h1m5 0h1m7 0h3m4 0h1m1 0h8m2 0h3m23 0h1m31 0h1m12 0h1m6 0h1M213.7 86.24h6m9 0h2m17 0h1m8 0h1m16 0h1m12 0h1m4 0h1m4 0h1m1 0h5m4 0h2M193.7 88.87h3m16 0h2m1 0h1m4 0h2m51 0h1m3 0h2m7 0h1m9 0h2m1 0h1M199.7 91.50h1m7 0h1m2 0h3m13 0h1m3 0h3m11 0h1m12 0h1m7 0h1m10 0h3m1 0h4m6 0h1M196.7 94.13h1m15 0h1m4 0h1m25 0h2m2 0h1m28 0h3m19 0h2m7 0h3M209.7 96.76h1m2 0h4m11 0h2m5 0h2m20 0h2m12 0h2m19 0h1m10 0h1M226.7 99.39h1m9 0h2m2 0h1m1 0h1m1 0h1m8 0h1m40 0h1m4 0h1m6 0h1m6 0h1M195.7 102.02h1m13 0h2m5 0h5m1 0h1m59 0h2m1 0h1m7 0h1m1 0h2m7 0h4M195.7 104.65h1m19 0h5m10 0h2m3 0h5m20 0h1m1 0h1m13 0h2m1 0h1M207.7 107.28h2m3 0h3m3 0h2m6 0h3m7 0h2m20 0h1m16 0h2m7 0h1m4 0h1m12 0h1m4 0h1M193.7 109.91h1m11 0h3m2 0h1m1 0h2m5 0h1m3 0h1m21 0h2m24 0h3m11 0h1m1 0h3m12 0h1M197.7 112.54h1m5 0h2m11 0h3m10 0h1m36 0h1m6 0h2m6 0h1m8 0h1m6 0h2m4 0h2M193.7 115.17h3m1 0h2m3 0h2m1 0h1m10 0h1m12 0h1m4 0h1m5 0h1m24 0h2m8 0h4m7 0h1m1 0h2m2 0h3m10 0h1M193.7 117.80h1m23 0h3m2 0h2m44 0h3m11 0h1M199.7 120.43h1m12 0h2m3 0h1m4 0h2m8 0h2m4 0h4m21 0h2m24 0h1m14 0h3M200.7 123.06h2m20 0h1m7 0h2m6 0h1m26 0h6m11 0h3m1 0h1m12 0h2M208.7 125.69h7m8 0h1m45 0h3m5 0h1m4 0h2m12 0h1" stroke="#1a1a1a" stroke-width="1.5" fill="none"/>
<path d="M222.7 41.88h1m21 0h1m66 0h6M208.7 44.51h1m19 0h4m10 0h2m5 0h1m5 0h2m31 0h3m1 0h6M201.7 47.14h1m37 0h2m45 0h1m15 0h1M245.7 49.77h2m23 0h1m16 0h1m8 0h3M223.7 52.40h1m6 0h1m28 0h1m46 0h1M197.7 55.03h2m18 0h2m27 0h1m1 0h1m9 0h1m48 0h2M195.7 57.66h2m28 0h4m6 0h5m2 0h1m48 0h2m12 0h3m1 0h1M193.7 60.29h2m35 0h1m1 0h1m6 0h3m2 0h4m20 0h2m19 0h6m1 0h1m10 0h1M217.7 62.92h1m5 0h2m12 0h2m12 0h2m1 0h1m33 0h1m16 0h1m8 0h2M226.7 65.55h5m33 0h1M201.7 68.18h1m1 0h2m45 0h1m51 0h2M261.7 70.81h1m35 0h4M194.7 73.44h1m24 0h2m3 0h4m16 0h1m6 0h1m4 0h1m27 0h2m12 0h3m4 0h2m6 0h1M199.7 76.07h1m6 0h1m12 0h1m27 0h2m30 0h2m16 0h4M221.7 78.70h1m5 0h1m20 0h2m24 0h2m17 0h1m9 0h1m8 0h1M218.7 81.33h2m3 0h4m6 0h3m62 0h2M217.7 83.96h2m11 0h1m10 0h2m40 0h3m14 0h1m10 0h1M212.7 86.59h1m18 0h2m1 0h3m22 0h1m27 0h2M218.7 89.22h2m19 0h4m1 0h1m11 0h1m3 0h1m48 0h2M233.7 91.85h2m6 0h2m3 0h2m36 0h4m29 0h1M199.7 94.48h2m59 0h1M217.7 97.11h2m25 0h1m3 0h1m16 0h1m8 0h4m9 0h1m9 0h2m1 0h1M213.7 99.74h1m6 0h3m4 0h4m7 0h1m31 0h3m19 0h2m1 0h1m1 0h1m10 0h1M197.7 102.37h1m3 0h1m74 0h1m3 0h2m9 0h1m6 0h1M228.7 105.00h1m40 0h2m12 0h1m16 0h2M194.7 107.63h1m9 0h1m5 0h2m12 0h1m43 0h1m1 0h1M217.7 110.26h2m22 0h3m22 0h3m36 0h1M228.7 112.89h1m9 0h2m36 0h1m12 0h1m15 0h2M207.7 115.52h2m15 0h1m43 0h3m33 0h1M195.7 118.15h1m5 0h2m3 0h3m7 0h1m18 0h1m4 0h3m31 0h7m8 0h1m1 0h2m4 0h5m1 0h1m10 0h1M202.7 120.78h4m8 0h3m11 0h3m34 0h2m3 0h5m20 0h2m1 0h1m10 0h2M207.7 123.41h1m7 0h4m16 0h1m26 0h1m24 0h2m13 0h3m1 0h1M225.7 126.04h1m31 0h1m7 0h2m13 0h1m8 0h2" stroke="#444" stroke-width="0.8" fill="none"/>
<text transform="translate(193.70,139.00) scale(1.0,0.93)" font-size="11.3" text-anchor="middle" font-weight="normal" fill="#000" stroke="#000" stroke-width="0.18"  >0</text>
<rect x="193.2" y="140.3" width="1" height="2" fill="#222"/>
<g transform="translate(225.10,139.00) scale(1.0,0.93)" fill="#000" stroke="#000" stroke-width="0.18"><text x="-6.28" y="0" font-size="11.3" font-weight="normal"  > 2</text><path d="M763 0 L583 0 L583 -1102 Q518 -1042 412 -983 Q306 -924 223 -894 L223 -1061 Q372 -1128 484 -1224 Q596 -1320 643 -1409 L763 -1409 Z" stroke-width="33" transform="translate(-6.28,0) scale(0.00552)"/></g>
<rect x="224.6" y="140.3" width="1" height="2" fill="#222"/>
<text transform="translate(256.50,139.00) scale(1.0,0.93)" font-size="11.3" text-anchor="middle" font-weight="normal" fill="#000" stroke="#000" stroke-width="0.18"  >0</text>
<rect x="256.0" y="140.3" width="1" height="2" fill="#222"/>
<g transform="translate(287.90,139.00) scale(1.0,0.93)" fill="#000" stroke="#000" stroke-width="0.18"><text x="-6.28" y="0" font-size="11.3" font-weight="normal"  > 2</text><path d="M763 0 L583 0 L583 -1102 Q518 -1042 412 -983 Q306 -924 223 -894 L223 -1061 Q372 -1128 484 -1224 Q596 -1320 643 -1409 L763 -1409 Z" stroke-width="33" transform="translate(-6.28,0) scale(0.00552)"/></g>
<rect x="287.4" y="140.3" width="1" height="2" fill="#222"/>
<text transform="translate(319.30,139.00) scale(1.0,0.93)" font-size="11.3" text-anchor="middle" font-weight="normal" fill="#000" stroke="#000" stroke-width="0.18"  >0</text>
<rect x="318.79999999999995" y="140.3" width="1" height="2" fill="#222"/>
<rect x="193.7" y="142.3" width="125.6" height="3.4" fill="#5a5a5a"/>
<g transform="translate(191.00,151.90) scale(1.0,1.07)" fill="#000" stroke="#000" stroke-width="0.18"><text x="-6.28" y="0" font-size="11.3" font-weight="normal"  > </text><path d="M763 0 L583 0 L583 -1102 Q518 -1042 412 -983 Q306 -924 223 -894 L223 -1061 Q372 -1128 484 -1224 Q596 -1320 643 -1409 L763 -1409 Z" stroke-width="33" transform="translate(-6.28,0) scale(0.00552)"/></g>
<rect x="191.5" y="147.3" width="1.6" height="0.8" fill="#444"/>
<text transform="translate(191.00,167.68) scale(1.0,1.07)" font-size="11.3" text-anchor="end" font-weight="normal" fill="#000" stroke="#000" stroke-width="0.18"  >7</text>
<rect x="191.5" y="163.08" width="1.6" height="0.8" fill="#444"/>
<g transform="translate(191.00,186.09) scale(1.0,1.07)" fill="#000" stroke="#000" stroke-width="0.18"><text x="-12.57" y="0" font-size="11.3" font-weight="normal"  > 4</text><path d="M763 0 L583 0 L583 -1102 Q518 -1042 412 -983 Q306 -924 223 -894 L223 -1061 Q372 -1128 484 -1224 Q596 -1320 643 -1409 L763 -1409 Z" stroke-width="33" transform="translate(-12.57,0) scale(0.00552)"/></g>
<rect x="191.5" y="181.49" width="1.6" height="0.8" fill="#444"/>
<g transform="translate(191.00,204.50) scale(1.0,1.07)" fill="#000" stroke="#000" stroke-width="0.18"><text x="-12.57" y="0" font-size="11.3" font-weight="normal"  >2 </text><path d="M763 0 L583 0 L583 -1102 Q518 -1042 412 -983 Q306 -924 223 -894 L223 -1061 Q372 -1128 484 -1224 Q596 -1320 643 -1409 L763 -1409 Z" stroke-width="33" transform="translate(-6.28,0) scale(0.00552)"/></g>
<rect x="191.5" y="199.9" width="1.6" height="0.8" fill="#444"/>
<text transform="translate(191.00,222.91) scale(1.0,1.07)" font-size="11.3" text-anchor="end" font-weight="normal" fill="#000" stroke="#000" stroke-width="0.18"  >28</text>
<rect x="191.5" y="218.31" width="1.6" height="0.8" fill="#444"/>
<line x1="200.29999999999998" y1="145.9" x2="210.79999999999998" y2="182.4" stroke="#e6000e" stroke-width="2.9"/>
<line x1="210.79999999999998" y1="189.3" x2="221.6" y2="232.8" stroke="#e6000e" stroke-width="2.9"/>
<path d="M196.7 147.23h3m3 0h2m4 0h1m1 0h2m2 0h1m2 0h2m2 0h1m8 0h2m1 0h1m3 0h1m1 0h5m4 0h1m14 0h3m1 0h1m1 0h1m1 0h2m4 0h3m6 0h2m1 0h1m1 0h1m7 0h1m2 0h1m6 0h1m5 0h1M196.7 149.86h1m3 0h3m1 0h1m10 0h1m6 0h1m1 0h3m7 0h3m1 0h1m24 0h1m1 0h2m3 0h1m1 0h1m2 0h3m5 0h1m3 0h2m1 0h2m1 0h1m2 0h3m3 0h1M199.7 152.49h1m1 0h3m1 0h2m3 0h4m4 0h1m4 0h2m3 0h1m1 0h2m6 0h1m1 0h1m21 0h2m5 0h2m1 0h1m3 0h3m1 0h1m3 0h3m1 0h1m3 0h2m1 0h1m1 0h1m3 0h2m1 0h1M199.7 155.12h1m4 0h3m5 0h2m2 0h1m8 0h1m9 0h1m2 0h1m1 0h1m1 0h1m31 0h1m6 0h2m6 0h1m5 0h1m1 0h6m15 0h0.6M196.7 157.75h3m6 0h2m5 0h1m1 0h1m1 0h2m7 0h1m8 0h2m3 0h1m1 0h1m24 0h2m3 0h1m13 0h1m1 0h2m1 0h1m3 0h1m1 0h2m7 0h1M204.7 160.38h4m3 0h1m1 0h1m1 0h1m2 0h1m3 0h1m5 0h1m3 0h2m5 0h1m1 0h1m2 0h1m2 0h1m25 0h2m1 0h1m2 0h1m1 0h1m1 0h2m2 0h1m1 0h3m2 0h1m1 0h2m1 0h3m1 0h1M207.7 163.01h1m4 0h1m1 0h6m9 0h2m3 0h1m7 0h2m21 0h1m2 0h2m4 0h2m1 0h2m1 0h4m1 0h4m3 0h2m21 0h1M204.7 165.64h1m1 0h2m3 0h2m1 0h1m3 0h1m1 0h1m5 0h3m1 0h4m5 0h2m1 0h2m17 0h1m7 0h1m1 0h1m3 0h2m1 0h1m16 0h1m2 0h3m1 0h1m1 0h1m3 0h1M197.7 168.27h1m3 0h1m4 0h6m1 0h1m6 0h3m7 0h1m1 0h3m23 0h1m14 0h4m3 0h2m1 0h3m11 0h1m3 0h1m1 0h1m4 0h2M195.7 170.90h1m24 0h2m1 0h3m1 0h1m4 0h1m1 0h1m8 0h1m14 0h1m18 0h1m12 0h1m3 0h3m11 0h1m5 0h1M200.7 173.53h1m2 0h1m4 0h2m1 0h2m1 0h1m3 0h2m3 0h1m3 0h1m5 0h2m4 0h1m5 0h1m14 0h1m6 0h1m10 0h2m5 0h1m15 0h1m3 0h1m6 0h2M197.7 176.16h1m3 0h1m8 0h2m1 0h4m4 0h1m3 0h6m3 0h1m3 0h1m8 0h2m6 0h1m9 0h2m5 0h2m1 0h2m11 0h1m3 0h1m6 0h1m1 0h2m3 0h1m4 0h1M203.7 178.79h3m2 0h3m1 0h1m1 0h1m2 0h1m2 0h1m3 0h1m1 0h1m1 0h2m14 0h1m23 0h1m6 0h2m3 0h1m11 0h1m2 0h1m3 0h1m1 0h3m1 0h1m12 0h0.6M199.7 181.42h4m6 0h5m1 0h1m1 0h2m4 0h1m1 0h3m3 0h1m1 0h2m1 0h1m1 0h1m1 0h1m4 0h1m6 0h1m13 0h2m6 0h1m4 0h2m4 0h1m10 0h3m1 0h1m6 0h1m1 0h1m7 0h1M194.7 184.05h1m16 0h2m3 0h1m1 0h2m1 0h1m2 0h2m2 0h2m1 0h1m1 0h1m9 0h2m1 0h1m25 0h3m3 0h1m1 0h3m5 0h1m1 0h1m7 0h4m1 0h1m3 0h1m1 0h1m6 0h2M197.7 186.68h1m8 0h1m9 0h1m2 0h1m1 0h1m1 0h4m13 0h3m28 0h1m3 0h2m1 0h1m1 0h2m7 0h1m4 0h1m1 0h1m7 0h1M204.7 189.31h1m4 0h1m1 0h3m1 0h3m6 0h1m2 0h1m5 0h1m1 0h1m1 0h2m1 0h1m3 0h1m28 0h8m1 0h1m6 0h1m1 0h1m5 0h2m9 0h1m1 0h1M197.7 191.94h2m3 0h1m15 0h1m5 0h1m1 0h3m3 0h3m1 0h3m3 0h1m1 0h1m1 0h2m17 0h1m5 0h1m7 0h3m1 0h1m2 0h1m12 0h1m1 0h1m5 0h1m3 0h2M193.7 194.57h1m16 0h1m4 0h1m24 0h2m1 0h2m3 0h2m8 0h1m16 0h4m4 0h2m1 0h2m1 0h2m1 0h1m1 0h1m1 0h1m1 0h2m2 0h2m3 0h1m3 0h1m1 0h1m4 0h0.6M204.7 197.20h1m5 0h1m1 0h1m1 0h1m4 0h1m4 0h1m5 0h1m1 0h1m1 0h1m1 0h1m4 0h3m3 0h1m28 0h1m1 0h2m1 0h2m1 0h1m2 0h5m3 0h1m1 0h1m1 0h2m1 0h1m1 0h2m5 0h2M208.7 199.83h2m7 0h1m1 0h1m3 0h1m1 0h1m5 0h1m1 0h2m1 0h1m9 0h2m1 0h1m20 0h1m6 0h3m6 0h3m4 0h2m1 0h1m1 0h1m3 0h1m5 0h1M212.7 202.46h1m4 0h1m3 0h2m3 0h1m3 0h1m3 0h3m6 0h1m5 0h2m4 0h2m10 0h1m8 0h2m4 0h1m1 0h1m7 0h1m1 0h1m2 0h3m1 0h1m1 0h1m3 0h1m1 0h3m1 0h1M219.7 205.09h3m5 0h2m7 0h2m1 0h1m4 0h3m1 0h3m9 0h2m18 0h2m17 0h3m1 0h2m2 0h4M197.7 207.72h1m17 0h1m1 0h4m2 0h2m6 0h2m8 0h1m1 0h3m1 0h1m1 0h3m11 0h1m14 0h1m4 0h2m1 0h5m6 0h2m1 0h2m1 0h1m3 0h3m1 0h5M198.7 210.35h2m6 0h1m9 0h2m3 0h2m1 0h1m1 0h1m1 0h1m2 0h1m1 0h1m1 0h3m3 0h2m4 0h1m16 0h1m3 0h1m7 0h1m2 0h1m11 0h2m3 0h1m1 0h4m6 0h1m4 0h1m3 0h1.6M193.7 212.98h1m10 0h1m15 0h1m2 0h2m4 0h4m2 0h4m1 0h1m1 0h1m4 0h2m3 0h1m4 0h1m27 0h1m1 0h1m1 0h1m2 0h2m7 0h5m4 0h1M195.7 215.61h1m1 0h3m10 0h1m2 0h1m2 0h1m9 0h1m2 0h1m4 0h1m7 0h2m4 0h1m2 0h1m6 0h1m12 0h1m4 0h1m10 0h1m3 0h1m1 0h1m1 0h1m4 0h1m6 0h1M196.7 218.24h1m5 0h1m13 0h1m1 0h5m4 0h1m1 0h2m6 0h1m1 0h3m3 0h2m1 0h2m31 0h1m32 0h1M201.7 220.87h1m19 0h1m1 0h1m1 0h2m4 0h2m1 0h2m1 0h1m3 0h1m13 0h2m8 0h1m10 0h2m2 0h1m1 0h3m1 0h1m1 0h2m1 0h1m1 0h3m1 0h4m2 0h3m4 0h2m1 0h1m1 0h3M219.7 223.50h1m6 0h1m1 0h1m7 0h1m1 0h1m1 0h1m7 0h3m3 0h1m23 0h1m1 0h6m1 0h3m1 0h1m9 0h1m3 0h1m3 0h5M234.7 226.13h2m6 0h2m6 0h1m4 0h2m26 0h4m3 0h2m5 0h1m1 0h3m9 0h3m1 0h1M196.7 228.76h1m23 0h1m4 0h1m8 0h3m1 0h2m5 0h1m4 0h1m1 0h3m9 0h4m4 0h1m5 0h1m2 0h1m1 0h1m1 0h2m2 0h1m1 0h3m4 0h1m1 0h2m3 0h3m3 0h1m1 0h2m1 0h2M199.7 231.39h1m3 0h3m9 0h1m4 0h2m4 0h1m3 0h3m5 0h2m5 0h2m1 0h2m1 0h1m5 0h2m12 0h1m12 0h2m1 0h2m3 0h1m1 0h2m1 0h1m1 0h3m1 0h1m8 0h1m5 0h0.6" stroke="#000" stroke-width="2.3" fill="none"/>
<path d="M199.7 147.63h2m5 0h1m19 0h3m6 0h1m39 0h1m5 0h1m1 0h1m12 0h1m3 0h1M193.7 150.26h1m24 0h3m7 0h1m39 0h1m11 0h2M208.7 152.89h1m11 0h2m11 0h1m40 0h1m7 0h1M217.7 155.52h1m1 0h3m5 0h1m1 0h2m1 0h2m2 0h1m29 0h2m3 0h2m18 0h1m1 0h1m10 0h1M207.7 158.15h2m23 0h1m4 0h1m17 0h1m8 0h1m3 0h1m4 0h1m1 0h3m1 0h4m16 0h2m1 0h2m9 0h2M198.7 160.78h1m2 0h1m7 0h1m10 0h1m3 0h1m1 0h1m10 0h1m17 0h1m15 0h2m19 0h2M200.7 163.41h1m3 0h2m19 0h1m1 0h1m4 0h1m3 0h1m3 0h1m3 0h1m25 0h2m12 0h1m12 0h1m1 0h1m1 0h3m1 0h2m2 0h1M208.7 166.04h2m6 0h1m4 0h2m1 0h1m9 0h1m1 0h2m11 0h1m8 0h2m13 0h1m5 0h2m3 0h3m3 0h1m5 0h1m9 0h1M215.7 168.67h2m1 0h1m4 0h1m12 0h2m1 0h2m25 0h1m20 0h2m10 0h1m5 0h2M210.7 171.30h2m24 0h2m2 0h2m10 0h1m31 0h1m1 0h1m5 0h1m5 0h1m3 0h1m1 0h3m8 0h1M216.7 173.93h1m13 0h1m5 0h2m3 0h1m5 0h1m7 0h1m5 0h1m2 0h1m7 0h3m1 0h1m10 0h2m2 0h2m1 0h4m1 0h1m3 0h2m2 0h1M207.7 176.56h1m9 0h1m1 0h1m3 0h1m12 0h1m6 0h3m35 0h1m2 0h1m5 0h1m2 0h1m14 0h3M194.7 179.19h1m27 0h1m8 0h1m1 0h3m1 0h2m1 0h2m4 0h1m26 0h2m2 0h1m6 0h4m9 0h1m11 0h1M220.7 181.82h1m8 0h1m12 0h2m3 0h1m23 0h2m3 0h1m5 0h1m1 0h1m3 0h1m3 0h2m8 0h1m1 0h2M213.7 184.45h1m23 0h2m9 0h1m13 0h1m13 0h1m7 0h3m5 0h2m2 0h1M211.7 187.08h1m1 0h2m14 0h2m13 0h1m1 0h2m25 0h1m13 0h1m18 0h1m1 0h2m2 0h1M219.7 189.71h3m17 0h1m2 0h1m3 0h1m13 0h1m24 0h3m7 0h1m4 0h1m1 0h5M205.7 192.34h2m3 0h2m10 0h1m34 0h1m10 0h1m20 0h1m1 0h1m2 0h2m7 0h1m1 0h1m3 0h1M212.7 194.97h2m3 0h2m1 0h2m3 0h1m3 0h1m1 0h1m1 0h4m1 0h1m7 0h1m9 0h1m48 0h1m3 0h1M201.7 197.60h1m15 0h1m7 0h2m30 0h1m3 0h1m7 0h1m15 0h2m20 0h3M197.7 200.23h1m5 0h1m9 0h4m10 0h3m12 0h1m15 0h1m9 0h1m15 0h1m5 0h2m12 0h3m3 0h2M214.7 202.86h3m11 0h1m3 0h1m4 0h1m1 0h1m1 0h1m5 0h1m3 0h2m34 0h2M196.7 205.49h1m7 0h1m6 0h1m5 0h1m4 0h1m1 0h2m4 0h1m1 0h2m6 0h1m35 0h1m6 0h1m3 0h4m1 0h5m9 0h1m5 0h3M208.7 208.12h1m30 0h1m40 0h2m10 0h2m11 0h1m10 0h1M244.7 210.75h2m3 0h1m6 0h1m1 0h1m15 0h1m3 0h1m3 0h1m1 0h1m1 0h1m17 0h1m1 0h1m3 0h2m2 0h2M194.7 213.38h1m21 0h3m2 0h1m28 0h1m31 0h2m12 0h3m8 0h2m3 0h1m1 0h1M219.7 216.01h2m16 0h2m6 0h2m6 0h2m1 0h1m24 0h1m1 0h1m14 0h1m3 0h2m7 0h1m1 0h3M194.7 218.64h1m17 0h1m12 0h1m6 0h4m15 0h2m29 0h1m1 0h1m5 0h2m1 0h1m1 0h1m1 0h1m3 0h2m1 0h2m1 0h2M218.7 221.27h2m8 0h1m10 0h1m5 0h2m2 0h2m1 0h1m54 0h2M221.7 223.90h1m1 0h1m6 0h1m10 0h3m53 0h1m1 0h1m15 0h1M199.7 226.53h2m23 0h1m3 0h1m1 0h2m13 0h1m41 0h2m4 0h2m9 0h1m1 0h1m3 0h1M218.7 229.16h2m7 0h2m12 0h3m3 0h3m37 0h1m8 0h1m12 0h2M218.7 231.79h1m9 0h1m6 0h2m5 0h2m9 0h1m25 0h2m1 0h1m27 0h1m3 0h2" stroke="#1a1a1a" stroke-width="1.5" fill="none"/>
<path d="M215.7 147.98h1m7 0h3m67 0h2m3 0h1M207.7 150.61h1m2 0h2m18 0h3m7 0h1m44 0h1m9 0h1m4 0h1M226.7 153.24h2m7 0h3m15 0h1m11 0h3m22 0h2m7 0h2m8 0h1M196.7 155.87h1m11 0h3m57 0h3m6 0h3m6 0h3M220.7 158.50h1m6 0h2m1 0h1m12 0h1m25 0h2m21 0h2m24 0h0.6M230.7 161.13h1m3 0h2m32 0h3m34 0h1M209.7 163.76h3m9 0h2m15 0h2m50 0h1m3 0h2M199.7 166.39h1m55 0h2m25 0h1m5 0h1m3 0h2M225.7 169.02h3m14 0h2m26 0h2m6 0h1m14 0h3M194.7 171.65h1m7 0h2m3 0h3m3 0h2m3 0h1m10 0h3m15 0h1m22 0h4m1 0h2m5 0h1m17 0h2M195.7 174.28h1m29 0h1m6 0h1m48 0h4M232.7 176.91h2m6 0h2m36 0h2m2 0h1m12 0h3m6 0h1M282.7 179.54h1m6 0h2m16 0h2M195.7 182.17h1m94 0h1M235.7 184.80h1m5 0h2m11 0h1m50 0h2m5 0h1M209.7 187.43h1m22 0h4m1 0h3m16 0h2m25 0h3m6 0h2m4 0h1m1 0h1m1 0h1M194.7 190.06h2m10 0h1m22 0h1m1 0h1m61 0h1M207.7 192.69h1m5 0h2m1 0h2m12 0h1m9 0h1m33 0h1m1 0h1m20 0h1M223.7 195.32h1m56 0h1m19 0h1M198.7 197.95h1m17 0h1m4 0h2m15 0h2m4 0h2m3 0h1m24 0h1m18 0h1M198.7 200.58h1m22 0h2m15 0h4m2 0h2m27 0h1m7 0h2m17 0h2M207.7 203.21h2m16 0h1m19 0h2m31 0h1m1 0h1m9 0h1m14 0h2M198.7 205.84h1m14 0h3m26 0h1m4 0h1m5 0h2m23 0h2m5 0h1M203.7 208.47h3m21 0h1m1 0h1m7 0h1m37 0h3m16 0h2M215.7 211.10h1m22 0h2m11 0h1m36 0h1M226.7 213.73h1m17 0h2m34 0h1m13 0h1M204.7 216.36h1m12 0h1m5 0h1m8 0h1m7 0h2m8 0h1m15 0h1m19 0h1m2 0h1m15 0h1m3 0h1M199.7 218.99h2m4 0h1m36 0h2m42 0h1m1 0h1m21 0h3M230.7 221.62h1m12 0h1m19 0h1M202.7 224.25h1m4 0h1m24 0h3m11 0h1m46 0h2m1 0h1m6 0h1m3 0h1M203.7 226.88h1m14 0h3m1 0h1m9 0h1m5 0h3m6 0h2m2 0h3m12 0h1m35 0h1m5 0h1m9 0h0.6M215.7 229.51h1m5 0h1m1 0h1m7 0h1m63 0h1m7 0h1M198.7 232.14h1m24 0h1m38 0h1m26 0h2m14 0h1m1 0h2" stroke="#444" stroke-width="0.8" fill="none"/>
<text transform="translate(337.60,11.80) scale(1.0,1.07)" font-size="12.6" text-anchor="start" font-weight="normal" fill="#000" stroke="#000" stroke-width="0.18"  >CT6</text>
<rect x="337.5" y="13.2" width="25.3" height="1.3" fill="#999"/>
<text transform="translate(403.20,21.30) scale(1.0,0.93)" font-size="11.5" text-anchor="middle" font-weight="normal" fill="#000" stroke="#000" stroke-width="0.18"  >Time (h)</text>
<text transform="translate(340.40,32.90) scale(1.0,0.93)" font-size="11.3" text-anchor="middle" font-weight="normal" fill="#000" stroke="#000" stroke-width="0.18"  >0</text>
<rect x="339.9" y="34.199999999999996" width="1" height="2" fill="#222"/>
<g transform="translate(371.80,32.90) scale(1.0,0.93)" fill="#000" stroke="#000" stroke-width="0.18"><text x="-6.28" y="0" font-size="11.3" font-weight="normal"  > 2</text><path d="M763 0 L583 0 L583 -1102 Q518 -1042 412 -983 Q306 -924 223 -894 L223 -1061 Q372 -1128 484 -1224 Q596 -1320 643 -1409 L763 -1409 Z" stroke-width="33" transform="translate(-6.28,0) scale(0.00552)"/></g>
<rect x="371.29999999999995" y="34.199999999999996" width="1" height="2" fill="#222"/>
<text transform="translate(403.20,32.90) scale(1.0,0.93)" font-size="11.3" text-anchor="middle" font-weight="normal" fill="#000" stroke="#000" stroke-width="0.18"  >0</text>
<rect x="402.7" y="34.199999999999996" width="1" height="2" fill="#222"/>
<g transform="translate(434.60,32.90) scale(1.0,0.93)" fill="#000" stroke="#000" stroke-width="0.18"><text x="-6.28" y="0" font-size="11.3" font-weight="normal"  > 2</text><path d="M763 0 L583 0 L583 -1102 Q518 -1042 412 -983 Q306 -924 223 -894 L223 -1061 Q372 -1128 484 -1224 Q596 -1320 643 -1409 L763 -1409 Z" stroke-width="33" transform="translate(-6.28,0) scale(0.00552)"/></g>
<rect x="434.09999999999997" y="34.199999999999996" width="1" height="2" fill="#222"/>
<text transform="translate(466.00,32.90) scale(1.0,0.93)" font-size="11.3" text-anchor="middle" font-weight="normal" fill="#000" stroke="#000" stroke-width="0.18"  >0</text>
<rect x="465.5" y="34.199999999999996" width="1" height="2" fill="#222"/>
<rect x="340.4" y="36.199999999999996" width="125.6" height="3.4" fill="#5a5a5a"/>
<g transform="translate(337.70,45.80) scale(1.0,1.07)" fill="#000" stroke="#000" stroke-width="0.18"><text x="-6.28" y="0" font-size="11.3" font-weight="normal"  > </text><path d="M763 0 L583 0 L583 -1102 Q518 -1042 412 -983 Q306 -924 223 -894 L223 -1061 Q372 -1128 484 -1224 Q596 -1320 643 -1409 L763 -1409 Z" stroke-width="33" transform="translate(-6.28,0) scale(0.00552)"/></g>
<rect x="338.2" y="41.199999999999996" width="1.6" height="0.8" fill="#444"/>
<text transform="translate(337.70,61.58) scale(1.0,1.07)" font-size="11.3" text-anchor="end" font-weight="normal" fill="#000" stroke="#000" stroke-width="0.18"  >7</text>
<rect x="338.2" y="56.98" width="1.6" height="0.8" fill="#444"/>
<g transform="translate(337.70,79.99) scale(1.0,1.07)" fill="#000" stroke="#000" stroke-width="0.18"><text x="-12.57" y="0" font-size="11.3" font-weight="normal"  > 4</text><path d="M763 0 L583 0 L583 -1102 Q518 -1042 412 -983 Q306 -924 223 -894 L223 -1061 Q372 -1128 484 -1224 Q596 -1320 643 -1409 L763 -1409 Z" stroke-width="33" transform="translate(-12.57,0) scale(0.00552)"/></g>
<rect x="338.2" y="75.38999999999999" width="1.6" height="0.8" fill="#444"/>
<g transform="translate(337.70,98.40) scale(1.0,1.07)" fill="#000" stroke="#000" stroke-width="0.18"><text x="-12.57" y="0" font-size="11.3" font-weight="normal"  >2 </text><path d="M763 0 L583 0 L583 -1102 Q518 -1042 412 -983 Q306 -924 223 -894 L223 -1061 Q372 -1128 484 -1224 Q596 -1320 643 -1409 L763 -1409 Z" stroke-width="33" transform="translate(-6.28,0) scale(0.00552)"/></g>
<rect x="338.2" y="93.79999999999998" width="1.6" height="0.8" fill="#444"/>
<text transform="translate(337.70,116.81) scale(1.0,1.07)" font-size="11.3" text-anchor="end" font-weight="normal" fill="#000" stroke="#000" stroke-width="0.18"  >28</text>
<rect x="338.2" y="112.20999999999998" width="1.6" height="0.8" fill="#444"/>
<line x1="380.9" y1="39.8" x2="368.59999999999997" y2="76.3" stroke="#e6000e" stroke-width="2.9"/>
<line x1="366.2" y1="84.19999999999999" x2="350.4" y2="126.3" stroke="#e6000e" stroke-width="2.9"/>
<path d="M357.4 41.13h1m11 0h1m10 0h1m2 0h2m1 0h2m9 0h2m2 0h1m10 0h2m17 0h1m9 0h1m5 0h2m4 0h2m6 0h2M340.4 43.76h1m3 0h2m42 0h4m3 0h1m2 0h1m3 0h1m10 0h1m26 0h1m3 0h1m1 0h6m5 0h1m7 0h0.6M340.4 46.39h1m1 0h1m22 0h2m12 0h2m7 0h1m3 0h1m3 0h2m1 0h1m4 0h1m7 0h1m36 0h1m6 0h1m4 0h1M346.4 49.02h1m34 0h4m7 0h1m5 0h1m2 0h2m40 0h4m4 0h3m1 0h1m8 0h1M343.4 51.65h1m14 0h1m2 0h1m8 0h1m3 0h2m5 0h6m2 0h2m4 0h3m1 0h3m19 0h1m6 0h2m7 0h1m9 0h1m1 0h1m8 0h1m2 0h1M340.4 54.28h1m2 0h2m6 0h1m28 0h1m3 0h1m1 0h1m8 0h2m16 0h1m25 0h1m6 0h2m13 0h2M340.4 56.91h2m3 0h3m4 0h1m7 0h1m13 0h3m2 0h1m4 0h1m1 0h1m1 0h1m16 0h1m26 0h1m4 0h4m1 0h2m1 0h2m5 0h1m4 0h1M340.4 59.54h1m9 0h1m23 0h2m7 0h1m1 0h1m1 0h1m13 0h1m25 0h2m8 0h2m1 0h2m5 0h1m6 0h1M356.4 62.17h1m4 0h1m1 0h1m8 0h1m1 0h3m1 0h2m1 0h1m1 0h2m4 0h1m1 0h1m42 0h1m1 0h3m5 0h1m1 0h1m1 0h1m7 0h1M358.4 64.80h1m11 0h1m11 0h4m1 0h1m6 0h1m13 0h3m2 0h1m18 0h1m1 0h6m1 0h3m1 0h1m4 0h1m2 0h1m1 0h1M352.4 67.43h2m15 0h1m2 0h4m14 0h1m14 0h1m2 0h1m27 0h6m4 0h3m7 0h1M347.4 70.06h1m35 0h2m20 0h1m4 0h1m10 0h1m9 0h2m5 0h4m7 0h1m6 0h1M345.4 72.69h2m10 0h2m1 0h1m5 0h1m1 0h1m1 0h2m5 0h1m9 0h1m2 0h1m13 0h1m7 0h1m3 0h1m13 0h6m1 0h1m6 0h1m3 0h1M370.4 75.32h4m1 0h6m6 0h1m11 0h2m7 0h1m29 0h3m1 0h1m4 0h1m5 0h1M362.4 77.95h1m7 0h3m5 0h1m1 0h2m9 0h3m1 0h1m17 0h1m18 0h4m4 0h2m1 0h1m7 0h1m2 0h1m6 0h1M343.4 80.58h1m14 0h2m4 0h1m5 0h2m3 0h2m1 0h3m3 0h1m12 0h3m27 0h3m5 0h5m7 0h4M353.4 83.21h3m12 0h1m2 0h1m1 0h8m27 0h1m6 0h2m4 0h2m9 0h3m11 0h2m9 0h1M340.4 85.84h1m13 0h1m9 0h1m1 0h1m3 0h1m1 0h4m1 0h1m1 0h1m1 0h1m15 0h1m31 0h4m3 0h2m1 0h1m4 0h2m4 0h1M362.4 88.47h1m5 0h2m1 0h1m3 0h2m6 0h1m1 0h1m2 0h1m38 0h4m3 0h3m3 0h1m8 0h1M359.4 91.10h1m8 0h5m37 0h1m4 0h1m8 0h3m4 0h2m1 0h3M357.4 93.73h1m1 0h3m1 0h1m1 0h5m2 0h2m3 0h1m3 0h1m41 0h2m3 0h3m11 0h1m11 0h1m9 0h1M360.4 96.36h1m1 0h7m4 0h1m1 0h2m2 0h1m7 0h1m6 0h1m29 0h3m1 0h2m1 0h1m1 0h1m1 0h2m1 0h1m5 0h2M361.4 98.99h2m4 0h3m10 0h1m2 0h1m2 0h2m8 0h1m2 0h1m22 0h4m4 0h3m2 0h5m11 0h1M356.4 101.62h1m1 0h5m1 0h7m2 0h3m42 0h2m1 0h1m2 0h4m1 0h3m1 0h2m1 0h2m11 0h2m13 0h1M341.4 104.25h2m6 0h2m8 0h2m2 0h3m1 0h2m1 0h3m3 0h1m4 0h1m4 0h1m2 0h1m9 0h1m12 0h3m4 0h1m3 0h1m1 0h3m4 0h2m7 0h1m10 0h1M343.4 106.88h2m8 0h1m6 0h4m9 0h2m11 0h1m12 0h1m21 0h5m3 0h6m1 0h2m1 0h1m3 0h1m3 0h2M353.4 109.51h1m3 0h2m4 0h2m1 0h3m1 0h4m2 0h1m26 0h1m12 0h1m4 0h4m8 0h2m1 0h1m4 0h2m11 0h1M353.4 112.14h5m3 0h1m3 0h1m5 0h1m1 0h1m4 0h1m6 0h1m38 0h2m3 0h1m1 0h5m6 0h1m2 0h1M342.4 114.77h1m1 0h2m9 0h6m16 0h1m2 0h3m1 0h1m21 0h2m7 0h1m4 0h4m6 0h1m1 0h1m9 0h1m1 0h1M354.4 117.40h2m5 0h1m3 0h3m21 0h1m24 0h1m1 0h2m4 0h2m1 0h1m1 0h1m6 0h5m1 0h1m5 0h1m3 0h1m9 0h1M361.4 120.03h1m6 0h1m21 0h1m33 0h3m8 0h1m5 0h1M351.4 122.66h2m3 0h1m3 0h5m5 0h3m12 0h1m4 0h1m2 0h1m17 0h1m1 0h9m8 0h1m1 0h2m6 0h1M347.4 125.29h1m6 0h3m1 0h4m1 0h1m4 0h2m8 0h1m25 0h1m1 0h1m13 0h1m1 0h4m1 0h2m1 0h3m5 0h2m1 0h2m22 0h0.6" stroke="#000" stroke-width="2.3" fill="none"/>
<path d="M394.4 41.53h1m49 0h3m4 0h1m3 0h2M378.4 44.16h1m1 0h4m3 0h1m19 0h2m13 0h1m19 0h2M344.4 46.79h1m1 0h1m20 0h2m1 0h1m10 0h3m1 0h2m60 0h1m3 0h1M340.4 49.42h2m1 0h1m14 0h1m10 0h5m12 0h3m1 0h1m49 0h2m18 0h1M376.4 52.05h2m61 0h2m13 0h2M366.4 54.68h1m9 0h3m3 0h1m5 0h1m1 0h1m37 0h1m6 0h1m8 0h2m3 0h2m7 0h1M344.4 57.31h1m36 0h2m12 0h2m2 0h1m30 0h1m10 0h1m6 0h1m1 0h1M342.4 59.94h3m23 0h1m7 0h6m31 0h2m5 0h1m14 0h1m7 0h4m2 0h2M386.4 62.57h1m6 0h2m16 0h1m27 0h1m1 0h2m15 0h1M340.4 65.20h1m35 0h2m39 0h1m43 0h1M377.4 67.83h3m29 0h1m24 0h2m6 0h2m6 0h5M348.4 70.46h1m8 0h1m12 0h2m1 0h1m6 0h2m9 0h2m32 0h2m6 0h1m2 0h1m15 0h1M382.4 73.09h1m11 0h1m61 0h1M381.4 75.72h3m14 0h1m32 0h2M368.4 78.35h2m3 0h2m8 0h1m1 0h2m49 0h1m1 0h2m13 0h1M367.4 80.98h2m3 0h1m9 0h1m5 0h1m41 0h2m1 0h2m6 0h1m2 0h1M344.4 83.61h1m11 0h1m13 0h1m14 0h1m17 0h1m24 0h2m10 0h1m1 0h1m8 0h1M352.4 86.24h1m15 0h2m12 0h1m26 0h1m17 0h2m4 0h1m17 0h1m11 0h1M365.4 88.87h1m6 0h2m30 0h2m13 0h1m6 0h1m5 0h2m3 0h2m8 0h1M340.4 91.50h1m5 0h1m17 0h3m6 0h1m1 0h1m6 0h1m1 0h2m3 0h1m12 0h1m24 0h1m9 0h3m7 0h3M348.4 94.13h1m3 0h1m17 0h1m12 0h1m4 0h1m43 0h5m20 0h1M405.4 96.76h3m19 0h1m18 0h1M359.4 99.39h1m4 0h2m4 0h4m32 0h1m20 0h2m14 0h1m8 0h1M381.4 102.02h1m41 0h1m4 0h1m33 0h2M357.4 104.65h1m4 0h1m11 0h1m8 0h2m36 0h2m11 0h1m1 0h2m6 0h1m20 0h0.6M358.4 107.28h1m5 0h3m4 0h2m46 0h2M359.4 109.91h1m1 0h2m18 0h1m1 0h1m15 0h1m19 0h2m4 0h3M347.4 112.54h1m2 0h2m7 0h2m2 0h1m5 0h2m46 0h1m1 0h3m5 0h2M362.4 115.17h2m1 0h2m1 0h6m64 0h1m7 0h1M347.4 117.80h1m8 0h3m59 0h2m9 0h3m1 0h1M343.4 120.43h1m9 0h1m1 0h1m3 0h1m3 0h1m1 0h2m3 0h2m6 0h4m29 0h1m1 0h1m1 0h6m1 0h2m5 0h2m2 0h1m2 0h1m12 0h3M343.4 123.06h2m20 0h2m1 0h2m3 0h2m1 0h1m25 0h1m21 0h5m16 0h1M351.4 125.69h3m11 0h3m3 0h1m12 0h1m6 0h2m23 0h4m16 0h1m8 0h1" stroke="#1a1a1a" stroke-width="1.5" fill="none"/>
<path d="M340.4 41.88h1m1 0h3m36 0h1m6 0h4m51 0h1m5 0h1M342.4 44.51h1m10 0h1m16 0h1m4 0h1m9 0h1m41 0h2m24 0h1M390.4 47.14h2m9 0h1m21 0h1m15 0h2m1 0h4m17 0h2M349.4 49.77h1m27 0h4m67 0h3m6 0h1M340.4 52.40h2m3 0h1m32 0h2m7 0h1m54 0h4m5 0h2m11 0h1M379.4 55.03h1m41 0h1m15 0h1m3 0h3m19 0h2M342.4 57.66h1m34 0h2m14 0h1m30 0h2m29 0h1m4 0h1M353.4 60.29h1m16 0h2m16 0h1m4 0h1m22 0h3M425.4 62.92h1M351.4 65.55h1m11 0h1m8 0h3m3 0h1m1 0h2m65 0h1M380.4 68.18h6m26 0h3M375.4 70.81h5m8 0h1m54 0h2M372.4 73.44h4m3 0h3m33 0h1m9 0h1m13 0h1m1 0h2M369.4 76.07h1m14 0h1m20 0h1m28 0h3M364.4 78.70h2m10 0h1m12 0h1m39 0h3M390.4 81.33h1m74 0h0.6M351.4 83.96h1m14 0h1m53 0h1m5 0h2m2 0h2m4 0h3M395.4 86.59h2m37 0h1m6 0h2M378.4 89.22h1m30 0h2m6 0h1M356.4 91.85h1m5 0h1m14 0h2m50 0h2M375.4 94.48h1m18 0h1m18 0h1m12 0h1m11 0h1m1 0h1M370.4 97.11h2M375.4 99.74h2m27 0h2m11 0h1m15 0h2M402.4 102.37h3m6 0h1m33 0h2M345.4 105.00h1m7 0h1m55 0h1m18 0h3m15 0h1M368.4 107.63h2m12 0h1m44 0h1M428.4 110.26h1m1 0h2M366.4 112.89h2m18 0h1m35 0h2m32 0h2m2 0h1M352.4 115.52h1m57 0h1m6 0h3m6 0h3m5 0h1m30 0h0.6M359.4 118.15h2m2 0h1m5 0h1m1 0h2m1 0h1m3 0h2m40 0h2m25 0h1M351.4 120.78h2m4 0h2m15 0h1m27 0h1m28 0h2m12 0h2M353.4 123.41h2m3 0h2m21 0h2m16 0h1m1 0h1m41 0h1m5 0h1M374.4 126.04h1m5 0h1m32 0h3" stroke="#444" stroke-width="0.8" fill="none"/>
<text transform="translate(340.40,139.00) scale(1.0,0.93)" font-size="11.3" text-anchor="middle" font-weight="normal" fill="#000" stroke="#000" stroke-width="0.18"  >0</text>
<rect x="339.9" y="140.3" width="1" height="2" fill="#222"/>
<g transform="translate(371.80,139.00) scale(1.0,0.93)" fill="#000" stroke="#000" stroke-width="0.18"><text x="-6.28" y="0" font-size="11.3" font-weight="normal"  > 2</text><path d="M763 0 L583 0 L583 -1102 Q518 -1042 412 -983 Q306 -924 223 -894 L223 -1061 Q372 -1128 484 -1224 Q596 -1320 643 -1409 L763 -1409 Z" stroke-width="33" transform="translate(-6.28,0) scale(0.00552)"/></g>
<rect x="371.29999999999995" y="140.3" width="1" height="2" fill="#222"/>
<text transform="translate(403.20,139.00) scale(1.0,0.93)" font-size="11.3" text-anchor="middle" font-weight="normal" fill="#000" stroke="#000" stroke-width="0.18"  >0</text>
<rect x="402.7" y="140.3" width="1" height="2" fill="#222"/>
<g transform="translate(434.60,139.00) scale(1.0,0.93)" fill="#000" stroke="#000" stroke-width="0.18"><text x="-6.28" y="0" font-size="11.3" font-weight="normal"  > 2</text><path d="M763 0 L583 0 L583 -1102 Q518 -1042 412 -983 Q306 -924 223 -894 L223 -1061 Q372 -1128 484 -1224 Q596 -1320 643 -1409 L763 -1409 Z" stroke-width="33" transform="translate(-6.28,0) scale(0.00552)"/></g>
<rect x="434.09999999999997" y="140.3" width="1" height="2" fill="#222"/>
<text transform="translate(466.00,139.00) scale(1.0,0.93)" font-size="11.3" text-anchor="middle" font-weight="normal" fill="#000" stroke="#000" stroke-width="0.18"  >0</text>
<rect x="465.5" y="140.3" width="1" height="2" fill="#222"/>
<rect x="340.4" y="142.3" width="125.6" height="3.4" fill="#5a5a5a"/>
<g transform="translate(337.70,151.90) scale(1.0,1.07)" fill="#000" stroke="#000" stroke-width="0.18"><text x="-6.28" y="0" font-size="11.3" font-weight="normal"  > </text><path d="M763 0 L583 0 L583 -1102 Q518 -1042 412 -983 Q306 -924 223 -894 L223 -1061 Q372 -1128 484 -1224 Q596 -1320 643 -1409 L763 -1409 Z" stroke-width="33" transform="translate(-6.28,0) scale(0.00552)"/></g>
<rect x="338.2" y="147.3" width="1.6" height="0.8" fill="#444"/>
<text transform="translate(337.70,167.68) scale(1.0,1.07)" font-size="11.3" text-anchor="end" font-weight="normal" fill="#000" stroke="#000" stroke-width="0.18"  >7</text>
<rect x="338.2" y="163.08" width="1.6" height="0.8" fill="#444"/>
<g transform="translate(337.70,186.09) scale(1.0,1.07)" fill="#000" stroke="#000" stroke-width="0.18"><text x="-12.57" y="0" font-size="11.3" font-weight="normal"  > 4</text><path d="M763 0 L583 0 L583 -1102 Q518 -1042 412 -983 Q306 -924 223 -894 L223 -1061 Q372 -1128 484 -1224 Q596 -1320 643 -1409 L763 -1409 Z" stroke-width="33" transform="translate(-12.57,0) scale(0.00552)"/></g>
<rect x="338.2" y="181.49" width="1.6" height="0.8" fill="#444"/>
<g transform="translate(337.70,204.50) scale(1.0,1.07)" fill="#000" stroke="#000" stroke-width="0.18"><text x="-12.57" y="0" font-size="11.3" font-weight="normal"  >2 </text><path d="M763 0 L583 0 L583 -1102 Q518 -1042 412 -983 Q306 -924 223 -894 L223 -1061 Q372 -1128 484 -1224 Q596 -1320 643 -1409 L763 -1409 Z" stroke-width="33" transform="translate(-6.28,0) scale(0.00552)"/></g>
<rect x="338.2" y="199.9" width="1.6" height="0.8" fill="#444"/>
<text transform="translate(337.70,222.91) scale(1.0,1.07)" font-size="11.3" text-anchor="end" font-weight="normal" fill="#000" stroke="#000" stroke-width="0.18"  >28</text>
<rect x="338.2" y="218.31" width="1.6" height="0.8" fill="#444"/>
<line x1="345.29999999999995" y1="145.9" x2="356.4" y2="181.4" stroke="#e6000e" stroke-width="2.9"/>
<line x1="359.7" y1="190.3" x2="374.5" y2="232.4" stroke="#e6000e" stroke-width="2.9"/>
<path d="M346.4 147.23h1m1 0h1m2 0h2m2 0h2m6 0h2m1 0h1m1 0h1m3 0h1m1 0h1m1 0h1m1 0h2m5 0h1m22 0h1m2 0h2m1 0h3m6 0h1m2 0h1m3 0h3m3 0h2m3 0h4m9 0h2M341.4 149.86h1m5 0h4m7 0h2m4 0h1m5 0h1m1 0h1m1 0h1m1 0h1m1 0h1m1 0h2m9 0h1m17 0h3m3 0h3m1 0h1m7 0h1m2 0h2m4 0h1M344.4 152.49h1m2 0h3m4 0h1m9 0h1m1 0h1m5 0h2m1 0h1m19 0h1m20 0h3m1 0h1m3 0h1m1 0h2m1 0h1m1 0h1m6 0h1m6 0h1m1 0h2M348.4 155.12h2m3 0h3m4 0h1m1 0h3m1 0h2m6 0h1m1 0h1m1 0h1m17 0h1m15 0h1m1 0h2m5 0h1m1 0h3m1 0h2m1 0h2m5 0h1m1 0h2m1 0h1m1 0h2M349.4 157.75h1m3 0h5m1 0h5m4 0h1m4 0h1m5 0h5m2 0h1m5 0h1m9 0h1m9 0h1m1 0h1m4 0h1m10 0h1m4 0h2m4 0h2m1 0h1m1 0h2m6 0h1M341.4 160.38h1m6 0h1m11 0h2m1 0h1m6 0h1m2 0h1m5 0h3m1 0h2m11 0h1m20 0h6m2 0h2m12 0h2m1 0h3m4 0h1M341.4 163.01h1m8 0h2m8 0h4m1 0h2m1 0h2m3 0h1m1 0h1m1 0h1m2 0h1m2 0h1m1 0h1m14 0h1m8 0h1m3 0h1m3 0h4m9 0h1m5 0h1m5 0h1m2 0h2m11 0h1m5 0h1M352.4 165.64h7m1 0h3m1 0h1m1 0h1m3 0h2m7 0h3m22 0h1m5 0h3m7 0h1m8 0h6m7 0h2m1 0h1m1 0h1m1 0h2M351.4 168.27h1m1 0h4m2 0h5m2 0h3m1 0h1m1 0h1m4 0h1m1 0h2m4 0h1m2 0h3m17 0h4m4 0h1m1 0h3m1 0h2m1 0h3m7 0h1m4 0h1m1 0h2m1 0h1m1 0h1m15 0h2M340.4 170.90h1m12 0h2m5 0h4m5 0h2m1 0h1m4 0h1m2 0h2m1 0h1m9 0h1m10 0h1m16 0h2m6 0h1m3 0h1m4 0h1m2 0h3m1 0h6m7 0h1M342.4 173.53h1m11 0h2m4 0h1m3 0h1m6 0h1m1 0h1m4 0h1m1 0h3m1 0h2m1 0h1m20 0h1m4 0h1m4 0h4m11 0h6m1 0h1m11 0h3m6 0h1M346.4 176.16h1m19 0h1m5 0h1m6 0h1m32 0h1m5 0h2m1 0h5m3 0h3m1 0h1m1 0h3m9 0h1m17 0h0.6M353.4 178.79h1m3 0h2m8 0h2m3 0h2m4 0h1m1 0h3m7 0h1m25 0h1m2 0h1m1 0h1m8 0h2m4 0h3m4 0h1m5 0h2m12 0h1M349.4 181.42h1m3 0h2m3 0h2m4 0h3m8 0h1m5 0h3m36 0h7m2 0h5m10 0h6m1 0h1M346.4 184.05h1m10 0h2m6 0h4m10 0h1m4 0h2m2 0h1m6 0h2m5 0h1m15 0h1m1 0h3m1 0h7m1 0h2m1 0h1m2 0h3m1 0h1m1 0h1m4 0h1m1 0h2M345.4 186.68h1m11 0h2m2 0h1m1 0h2m3 0h1m4 0h3m1 0h1m4 0h1m1 0h4m7 0h1m26 0h2m2 0h3m5 0h3m13 0h2M346.4 189.31h1m6 0h1m6 0h4m6 0h1m1 0h1m2 0h1m1 0h4m1 0h2m1 0h2m4 0h1m24 0h1m1 0h1m3 0h1m4 0h2m3 0h1m1 0h2m4 0h3m5 0h2m1 0h2M360.4 191.94h1m1 0h3m1 0h4m6 0h2m1 0h2m2 0h4m2 0h2m2 0h1m22 0h1m7 0h1m1 0h3m5 0h1m1 0h2m1 0h4m11 0h2m1 0h1m4 0h1M346.4 194.57h1m14 0h7m2 0h5m7 0h2m1 0h1m3 0h1m1 0h2m3 0h1m6 0h1m15 0h2m7 0h2m2 0h2m2 0h2m1 0h1m1 0h1m3 0h2m1 0h2m1 0h2m1 0h2M361.4 197.20h7m3 0h2m2 0h1m11 0h1m6 0h1m18 0h1m5 0h1m5 0h2m6 0h1m1 0h1m6 0h1m5 0h1m6 0h3M362.4 199.83h1m1 0h1m10 0h2m2 0h1m8 0h1m3 0h2m2 0h5m4 0h1m1 0h1m6 0h1m4 0h1m5 0h5m1 0h2m4 0h2m1 0h1m1 0h1m1 0h1m1 0h1m2 0h1m5 0h2M342.4 202.46h2m1 0h1m7 0h1m1 0h1m16 0h1m4 0h4m7 0h1m5 0h2m5 0h2m24 0h6m7 0h1m1 0h2m1 0h2m4 0h1M342.4 205.09h1m22 0h3m7 0h2m2 0h4m2 0h1m1 0h1m2 0h1m20 0h1m16 0h5m4 0h1m1 0h1m3 0h2m5 0h2m2 0h4M351.4 207.72h1m10 0h3m1 0h1m1 0h2m3 0h2m1 0h1m2 0h3m10 0h2m1 0h3m17 0h2m18 0h3m5 0h3m7 0h2m1 0h1M343.4 210.35h2m1 0h1m13 0h1m2 0h1m3 0h3m3 0h1m2 0h1m1 0h1m1 0h2m1 0h2m3 0h3m6 0h1m23 0h3m4 0h2m7 0h1m7 0h2m6 0h3M353.4 212.98h1m14 0h1m7 0h2m3 0h1m1 0h2m12 0h2m11 0h1m19 0h2m5 0h3m1 0h4m1 0h1m5 0h4m1 0h2m1 0h1M369.4 215.61h7m1 0h1m1 0h1m1 0h2m9 0h3m1 0h1m4 0h1m2 0h1m3 0h4m19 0h5m8 0h1m11 0h1m1 0h3M341.4 218.24h2m5 0h1m11 0h2m7 0h1m4 0h10m2 0h1m1 0h1m2 0h1m5 0h1m7 0h1m27 0h1m1 0h2m1 0h1m3 0h3m1 0h2m1 0h1m2 0h1m3 0h2M355.4 220.87h1m12 0h1m1 0h1m1 0h3m3 0h1m1 0h2m1 0h5m5 0h1m1 0h1m1 0h1m1 0h1m5 0h1m28 0h3m2 0h1m10 0h1m1 0h1m4 0h2M342.4 223.50h2m2 0h1m8 0h1m14 0h3m1 0h3m1 0h1m1 0h3m1 0h2m1 0h4m3 0h1m1 0h2m20 0h1m11 0h4m1 0h2m1 0h4m1 0h5m2 0h1m11 0h2M340.4 226.13h1m11 0h1m18 0h10m1 0h1m1 0h2m1 0h1m1 0h1m44 0h1m1 0h1m1 0h2m1 0h5m11 0h1m1 0h1m2 0h1m1 0h1M354.4 228.76h1m2 0h1m6 0h1m7 0h2m1 0h2m2 0h2m3 0h1m1 0h2m1 0h2m5 0h3m1 0h3m5 0h1m5 0h1m22 0h1m5 0h2m4 0h1m2 0h2m6 0h1m1 0h1m1 0h1M356.4 231.39h1m5 0h2m9 0h3m3 0h6m1 0h3m4 0h1m5 0h3m33 0h4m6 0h2m14 0h3m1 0h0.6" stroke="#000" stroke-width="2.3" fill="none"/>
<path d="M353.4 147.63h1m4 0h1m2 0h2m41 0h2m3 0h2m10 0h1m2 0h1m2 0h2m6 0h1m3 0h1M343.4 150.26h1m8 0h2m7 0h2m3 0h1m1 0h1m13 0h2m28 0h3m9 0h2m2 0h1m9 0h1m1 0h2m1 0h1m1 0h2m1 0h2M351.4 152.89h3m2 0h3m18 0h1m1 0h3m31 0h2m7 0h2m9 0h2m1 0h1m3 0h2M342.4 155.52h1m9 0h1m30 0h3m24 0h2m4 0h4m39 0h2M365.4 158.15h2m8 0h3m38 0h2m8 0h3m36 0h0.6M350.4 160.78h1m1 0h3m2 0h1m6 0h1m1 0h1m1 0h2m5 0h1m1 0h1m31 0h1m3 0h3m15 0h1m1 0h1M353.4 163.41h2m1 0h4m22 0h1m27 0h1m4 0h1m6 0h2m3 0h2m3 0h1m1 0h1m14 0h1M341.4 166.04h1m8 0h1m25 0h2m43 0h3m4 0h1m8 0h1m23 0h3M348.4 168.67h1m1 0h1m6 0h1m24 0h2m45 0h1m19 0h1m7 0h1M356.4 171.30h4m19 0h1m5 0h1m25 0h3m10 0h4m3 0h1m4 0h1M356.4 173.93h4m1 0h2m2 0h2m1 0h2m6 0h1m50 0h2m1 0h3m9 0h4m4 0h2M355.4 176.56h2m4 0h4m3 0h1m1 0h2m2 0h1m6 0h2m3 0h2m16 0h3m20 0h2m15 0h2m4 0h1M355.4 179.19h1m4 0h2m2 0h2m18 0h2m20 0h1m15 0h6m1 0h1m3 0h2m5 0h2m5 0h1m4 0h1m6 0h1M351.4 181.82h1m4 0h1m3 0h1m1 0h1m5 0h2m15 0h1m1 0h2m3 0h1m9 0h1m25 0h1m6 0h1m3 0h1m20 0h1M362.4 184.45h1m1 0h1m11 0h1m4 0h3m6 0h2m39 0h1m5 0h1M388.4 187.08h1m1 0h1m54 0h1M358.4 189.71h1m6 0h4m5 0h1m30 0h1m23 0h3m4 0h1m1 0h1m5 0h1m9 0h1M341.4 192.34h2m27 0h2m32 0h1m3 0h2m21 0h3m11 0h1m1 0h1m1 0h1m1 0h2M368.4 194.97h1m6 0h1m1 0h1m1 0h1m7 0h1m14 0h1m19 0h1m20 0h1M342.4 197.60h2m3 0h2m24 0h1m6 0h1m4 0h1m3 0h1m1 0h1m16 0h1m22 0h2m4 0h4m9 0h2m7 0h1M365.4 200.23h2m10 0h1m3 0h1m4 0h2m2 0h1m32 0h1m10 0h2m17 0h1M357.4 202.86h1m5 0h3m3 0h3m18 0h1m43 0h6m13 0h1m1 0h1M357.4 205.49h2m9 0h2m19 0h1m2 0h1m16 0h1m4 0h2m18 0h2m5 0h2M354.4 208.12h2m26 0h2m5 0h1m44 0h1m3 0h2m1 0h1m5 0h1M370.4 210.75h2m22 0h2m35 0h6m2 0h3m5 0h5m5 0h4M345.4 213.38h2m2 0h1m22 0h3m4 0h1m36 0h1m18 0h2m11 0h2M342.4 216.01h1m21 0h2m1 0h1m16 0h2m50 0h2m3 0h3m1 0h1m1 0h3m1 0h1m9 0h1M355.4 218.64h2m11 0h1m2 0h2m21 0h1m44 0h2m13 0h1m4 0h2m1 0h1M340.4 221.27h1m34 0h3m28 0h3m17 0h1m10 0h1m3 0h2m1 0h3m13 0h2M399.4 223.90h1m23 0h1m25 0h1m6 0h3m1 0h1M406.4 226.53h1m11 0h3m26 0h5M340.4 229.16h1m1 0h1m16 0h1m1 0h1m6 0h1m8 0h1m4 0h1m10 0h2m8 0h1m6 0h1m5 0h1m18 0h1m3 0h4m3 0h2m3 0h1m4 0h1m1 0h1M376.4 231.79h3m11 0h1m5 0h2m43 0h2m1 0h1m5 0h1m7 0h2" stroke="#1a1a1a" stroke-width="1.5" fill="none"/>
<path d="M350.4 147.98h1m30 0h1m35 0h3M354.4 150.61h3m64 0h2m12 0h1m14 0h1M361.4 153.24h2m5 0h1m42 0h2m30 0h2M346.4 155.87h1m10 0h3m10 0h1m8 0h1m1 0h1m26 0h1m25 0h3M351.4 158.50h1m69 0h2m1 0h1m7 0h1m5 0h2M356.4 161.13h1m1 0h1m51 0h2m12 0h1m3 0h1m7 0h2m8 0h2m14 0h2m1 0h0.6M370.4 163.76h1m53 0h2m12 0h1m1 0h1m3 0h1m3 0h1M369.4 166.39h1m4 0h1m8 0h4m28 0h1m1 0h2m6 0h3m11 0h2M364.4 169.02h2m65 0h3m17 0h1M365.4 171.65h4m38 0h2m6 0h2m1 0h2M410.4 174.28h2m10 0h4m21 0h2M358.4 176.91h2m24 0h1m53 0h2m2 0h1M362.4 179.54h2m5 0h1m4 0h3m10 0h1m58 0h1M371.4 182.17h1m2 0h1m2 0h1m1 0h1m57 0h1m25 0h1M359.4 184.80h2m8 0h4m1 0h1m17 0h1m53 0h2M359.4 187.43h1m6 0h1m3 0h2m52 0h1m6 0h2m5 0h3m6 0h3m3 0h2M342.4 190.06h2m44 0h2m14 0h1m19 0h2m20 0h1M347.4 192.69h1m7 0h1m17 0h3m53 0h1M425.4 195.32h3m2 0h2M368.4 197.95h2m7 0h3m47 0h3m14 0h1m8 0h1M351.4 200.58h1m15 0h3m1 0h2m12 0h1m64 0h2M367.4 203.21h2m5 0h2m6 0h2m2 0h1m5 0h1m13 0h1m50 0h2M370.4 205.84h2m1 0h2m19 0h1m63 0h1M343.4 208.47h1m26 0h3m4 0h2m8 0h1m42 0h3m18 0h1m6 0h1M350.4 211.10h1m24 0h1m6 0h1m8 0h3m49 0h2M362.4 213.73h1m6 0h3m17 0h3m2 0h2m37 0h2m28 0h1M390.4 216.36h1m7 0h1m40 0h2m12 0h2M363.4 218.99h2m24 0h1m3 0h1m35 0h1m34 0h1M390.4 221.62h2m30 0h2m24 0h1m6 0h2M392.4 224.25h1M391.4 226.88h1m1 0h1m1 0h1m1 0h3m23 0h1m28 0h1M340.4 232.14h2m29 0h1m67 0h1m7 0h3m2 0h3" stroke="#444" stroke-width="0.8" fill="none"/>
<text transform="translate(31.50,75.80) rotate(-90) scale(1,1.07)" font-size="11.3" text-anchor="middle" stroke="#000" stroke-width="0.22">Days</text>
<text transform="translate(31.50,180.30) rotate(-90) scale(1,1.07)" font-size="11.3" text-anchor="middle" stroke="#000" stroke-width="0.22">Days</text>
<text transform="translate(0.30,80.10) scale(1.0,1.0)" font-size="12.3" text-anchor="start" font-weight="normal" fill="#000" stroke="#000" stroke-width="0.18"  >+/+</text>
<text transform="translate(0.60,184.90) scale(1.0,0.92)" font-size="13" text-anchor="start" font-weight="normal" fill="#dc0a1e"   stroke="#e0001a" stroke-width="0.55"><tspan font-style="italic">–/–</tspan></text>
<text transform="translate(468.60,12.40) scale(1.0,0.95)" font-size="11.6" text-anchor="end" font-weight="normal" fill="#000" stroke="#000" stroke-width="0.18"  >200 lux</text>
<rect x="431.20000000000005" y="14.5" width="37.4" height="1.0" fill="#777"/>
<rect x="431.20000000000005" y="16.7" width="37.4" height="1.0" fill="#777"/>
<text transform="translate(3.00,267.40) scale(1.0,1.0)" font-size="16.5" text-anchor="start" font-weight="bold" fill="#000" stroke="#000" stroke-width="0.18"  >B</text>
<g transform="translate(46.00,264.90) scale(1.0,1.07)" fill="#000" stroke="#000" stroke-width="0.18"><text x="0.00" y="0" font-size="12.6" font-weight="normal"  >CT 4</text><path d="M763 0 L583 0 L583 -1102 Q518 -1042 412 -983 Q306 -924 223 -894 L223 -1061 Q372 -1128 484 -1224 Q596 -1320 643 -1409 L763 -1409 Z" stroke-width="29" transform="translate(16.80,0) scale(0.00615)"/></g>
<rect x="45.9" y="266.3" width="30.7" height="1.3" fill="#333"/>
<text transform="translate(111.60,274.40) scale(1.0,0.93)" font-size="11.5" text-anchor="middle" font-weight="normal" fill="#000" stroke="#000" stroke-width="0.18"  >Time (h)</text>
<text transform="translate(48.80,285.40) scale(1.0,0.93)" font-size="11.3" text-anchor="middle" font-weight="normal" fill="#000" stroke="#000" stroke-width="0.18"  >0</text>
<rect x="48.3" y="286.7" width="1" height="2" fill="#222"/>
<g transform="translate(80.20,285.40) scale(1.0,0.93)" fill="#000" stroke="#000" stroke-width="0.18"><text x="-6.28" y="0" font-size="11.3" font-weight="normal"  > 2</text><path d="M763 0 L583 0 L583 -1102 Q518 -1042 412 -983 Q306 -924 223 -894 L223 -1061 Q372 -1128 484 -1224 Q596 -1320 643 -1409 L763 -1409 Z" stroke-width="33" transform="translate(-6.28,0) scale(0.00552)"/></g>
<rect x="79.69999999999999" y="286.7" width="1" height="2" fill="#222"/>
<text transform="translate(111.60,285.40) scale(1.0,0.93)" font-size="11.3" text-anchor="middle" font-weight="normal" fill="#000" stroke="#000" stroke-width="0.18"  >0</text>
<rect x="111.1" y="286.7" width="1" height="2" fill="#222"/>
<g transform="translate(143.00,285.40) scale(1.0,0.93)" fill="#000" stroke="#000" stroke-width="0.18"><text x="-6.28" y="0" font-size="11.3" font-weight="normal"  > 2</text><path d="M763 0 L583 0 L583 -1102 Q518 -1042 412 -983 Q306 -924 223 -894 L223 -1061 Q372 -1128 484 -1224 Q596 -1320 643 -1409 L763 -1409 Z" stroke-width="33" transform="translate(-6.28,0) scale(0.00552)"/></g>
<rect x="142.5" y="286.7" width="1" height="2" fill="#222"/>
<text transform="translate(174.40,285.40) scale(1.0,0.93)" font-size="11.3" text-anchor="middle" font-weight="normal" fill="#000" stroke="#000" stroke-width="0.18"  >0</text>
<rect x="173.89999999999998" y="286.7" width="1" height="2" fill="#222"/>
<rect x="48.8" y="288.7" width="125.6" height="3.4" fill="#5a5a5a"/>
<g transform="translate(46.10,298.30) scale(1.0,1.07)" fill="#000" stroke="#000" stroke-width="0.18"><text x="-6.28" y="0" font-size="11.3" font-weight="normal"  > </text><path d="M763 0 L583 0 L583 -1102 Q518 -1042 412 -983 Q306 -924 223 -894 L223 -1061 Q372 -1128 484 -1224 Q596 -1320 643 -1409 L763 -1409 Z" stroke-width="33" transform="translate(-6.28,0) scale(0.00552)"/></g>
<rect x="46.599999999999994" y="293.70000000000005" width="1.6" height="0.8" fill="#444"/>
<text transform="translate(46.10,314.08) scale(1.0,1.07)" font-size="11.3" text-anchor="end" font-weight="normal" fill="#000" stroke="#000" stroke-width="0.18"  >7</text>
<rect x="46.599999999999994" y="309.48" width="1.6" height="0.8" fill="#444"/>
<g transform="translate(46.10,332.49) scale(1.0,1.07)" fill="#000" stroke="#000" stroke-width="0.18"><text x="-12.57" y="0" font-size="11.3" font-weight="normal"  > 4</text><path d="M763 0 L583 0 L583 -1102 Q518 -1042 412 -983 Q306 -924 223 -894 L223 -1061 Q372 -1128 484 -1224 Q596 -1320 643 -1409 L763 -1409 Z" stroke-width="33" transform="translate(-12.57,0) scale(0.00552)"/></g>
<rect x="46.599999999999994" y="327.89000000000004" width="1.6" height="0.8" fill="#444"/>
<g transform="translate(46.10,350.90) scale(1.0,1.07)" fill="#000" stroke="#000" stroke-width="0.18"><text x="-12.57" y="0" font-size="11.3" font-weight="normal"  >2 </text><path d="M763 0 L583 0 L583 -1102 Q518 -1042 412 -983 Q306 -924 223 -894 L223 -1061 Q372 -1128 484 -1224 Q596 -1320 643 -1409 L763 -1409 Z" stroke-width="33" transform="translate(-6.28,0) scale(0.00552)"/></g>
<rect x="46.599999999999994" y="346.30000000000007" width="1.6" height="0.8" fill="#444"/>
<text transform="translate(46.10,369.31) scale(1.0,1.07)" font-size="11.3" text-anchor="end" font-weight="normal" fill="#000" stroke="#000" stroke-width="0.18"  >28</text>
<rect x="46.599999999999994" y="364.71000000000004" width="1.6" height="0.8" fill="#444"/>
<line x1="80.6" y1="292.3" x2="71.69999999999999" y2="328.2" stroke="#e6000e" stroke-width="2.9"/>
<line x1="75.19999999999999" y1="336.7" x2="65.8" y2="378.20000000000005" stroke="#e6000e" stroke-width="2.9"/>
<path d="M54.8 293.63h2m7 0h2m9 0h1m7 0h1m1 0h4m1 0h1m24 0h1m23 0h2m2 0h4m1 0h2m2 0h1m1 0h1m1 0h1m6 0h1M49.8 296.26h1m2 0h2m15 0h1m1 0h1m4 0h1m3 0h3m3 0h2m1 0h2m1 0h1m19 0h1m3 0h2m4 0h3m2 0h1m12 0h2m1 0h1m5 0h1m5 0h1m13 0h2m2 0h0.6M50.8 298.89h1m12 0h1m7 0h1m3 0h1m3 0h2m1 0h1m1 0h1m3 0h1m22 0h1m7 0h1m4 0h1m14 0h2m1 0h4m2 0h2m1 0h2m1 0h1m1 0h2m7 0h1M58.8 301.52h2m6 0h1m11 0h2m4 0h4m23 0h2m2 0h1m13 0h1m1 0h1m11 0h2m4 0h2m10 0h1m4 0h1m3 0h1M48.8 304.15h3m3 0h1m6 0h1m3 0h1m11 0h4m2 0h1m2 0h1m3 0h1m1 0h1m1 0h2m7 0h1m23 0h1m5 0h1m6 0h1m3 0h5m1 0h4m4 0h1m9 0h2M56.8 306.78h1m17 0h1m4 0h2m2 0h1m10 0h1m1 0h1m17 0h1m6 0h1m2 0h1m12 0h2m4 0h2m3 0h1m1 0h1m6 0h1m14 0h1M56.8 309.41h1m4 0h2m3 0h1m3 0h1m7 0h2m1 0h1m1 0h3m1 0h3m1 0h1m1 0h1m11 0h1m16 0h1m2 0h1m3 0h2m1 0h1m5 0h3m2 0h1m1 0h1m12 0h1m6 0h2m3 0h2M50.8 312.04h1m4 0h1m3 0h1m4 0h1m3 0h1m6 0h2m2 0h2m4 0h1m1 0h1m5 0h1m20 0h1m3 0h1m4 0h1m8 0h2m1 0h1m2 0h4m5 0h1m1 0h1m1 0h1m14 0h1m1 0h1m1 0h1M50.8 314.67h1m1 0h1m3 0h3m7 0h2m9 0h1m1 0h4m3 0h2m2 0h1m11 0h4m16 0h1m8 0h1m1 0h2m1 0h2m1 0h2m1 0h5m3 0h3m14 0h1M57.8 317.30h1m9 0h1m12 0h1m1 0h2m1 0h1m2 0h2m2 0h1m3 0h1m10 0h1m9 0h1m8 0h1m2 0h1m8 0h1m1 0h2m1 0h2m3 0h1m1 0h1m1 0h1m1 0h2m5 0h1m1 0h1M61.8 319.93h2m3 0h3m10 0h4m1 0h2m1 0h1m3 0h1m6 0h1m2 0h1m5 0h1m5 0h1m4 0h1m17 0h2m5 0h1m1 0h2m3 0h1m8 0h1m13 0h0.6M55.8 322.56h3m14 0h2m1 0h1m3 0h1m1 0h3m1 0h2m12 0h1m14 0h2m6 0h1m5 0h2m1 0h1m3 0h2m2 0h3m6 0h1m1 0h2m1 0h1m8 0h1m10 0h0.6M71.8 325.19h3m4 0h4m1 0h1m5 0h1m1 0h1m2 0h1m6 0h1m3 0h1m6 0h2m3 0h2m5 0h2m7 0h4m9 0h4m7 0h2m2 0h1M50.8 327.82h1m2 0h1m3 0h1m2 0h1m22 0h2m1 0h3m1 0h2m5 0h1m3 0h3m19 0h1m11 0h1m3 0h2m1 0h1m13 0h2m5 0h1M52.8 330.45h3m1 0h2m14 0h1m1 0h3m28 0h1m10 0h2m12 0h1m10 0h3m1 0h1m1 0h1m1 0h2m1 0h1m12 0h1m2 0h2M50.8 333.08h1m7 0h1m9 0h1m7 0h2m18 0h3m12 0h1m2 0h1m2 0h1m17 0h1m1 0h1m2 0h5m4 0h2m12 0h1m5 0h1M50.8 335.71h1m16 0h1m2 0h1m4 0h2m1 0h1m2 0h1m1 0h4m1 0h1m8 0h1m7 0h1m13 0h1m2 0h2m2 0h1m1 0h1m5 0h1m5 0h2m3 0h1m1 0h1m7 0h1m5 0h1m11 0h0.6M56.8 338.34h1m8 0h1m1 0h3m10 0h1m8 0h1m11 0h1m3 0h1m15 0h1m5 0h2m3 0h1m4 0h2m1 0h1m1 0h1m7 0h1m1 0h2m1 0h1m10 0h2M51.8 340.97h2m26 0h3m3 0h1m1 0h2m14 0h1m10 0h2m8 0h2m10 0h3m4 0h1m1 0h1m6 0h1m2 0h2m1 0h1m2 0h1M60.8 343.60h2m6 0h1m4 0h1m4 0h1m7 0h1m1 0h2m5 0h1m4 0h3m26 0h1m5 0h4m13 0h3m8 0h2M62.8 346.23h1m14 0h1m9 0h1m6 0h1m2 0h1m7 0h2m4 0h1m21 0h1m7 0h1m1 0h2m1 0h1m1 0h1m1 0h1m14 0h1M50.8 348.86h1m4 0h2m2 0h1m5 0h2m4 0h1m1 0h2m4 0h3m1 0h1m4 0h1m8 0h1m20 0h2m3 0h1m8 0h2m6 0h4m1 0h4m1 0h1M67.8 351.49h1m1 0h1m1 0h4m1 0h3m13 0h1m17 0h1m3 0h1m9 0h1m3 0h1m14 0h2m1 0h2m1 0h1m6 0h1m5 0h1m6 0h1M54.8 354.12h1m8 0h1m6 0h1m2 0h3m1 0h2m1 0h3m1 0h1m2 0h3m12 0h1m12 0h1m5 0h2m4 0h2m5 0h3m2 0h1m1 0h2m5 0h1m5 0h3m8 0h1m4 0h2M53.8 356.75h2m4 0h2m3 0h1m5 0h1m1 0h2m3 0h1m2 0h1m1 0h2m12 0h1m3 0h2m12 0h2m12 0h1m2 0h1m3 0h3m3 0h3m1 0h2m1 0h3m10 0h1m1 0h1m5 0h3M58.8 359.38h1m5 0h1m2 0h1m1 0h1m6 0h3m1 0h1m2 0h1m1 0h1m12 0h1m8 0h1m1 0h1m1 0h1m10 0h3m3 0h2m1 0h1m7 0h4m8 0h1m5 0h1m6 0h1M51.8 362.01h1m2 0h1m6 0h1m16 0h1m1 0h3m1 0h1m28 0h1m21 0h1m1 0h4m5 0h2m18 0h1M70.8 364.64h2m1 0h1m5 0h1m14 0h1m22 0h1m13 0h2m10 0h2m26 0h1M72.8 367.27h3m1 0h1m1 0h1m1 0h1m22 0h3m22 0h2m4 0h2m1 0h1m8 0h2m15 0h2m7 0h1M57.8 369.90h5m13 0h2m3 0h1m8 0h1m15 0h2m4 0h1m4 0h2m5 0h1m3 0h1m9 0h1m1 0h3m1 0h1m1 0h1m1 0h1m9 0h1M48.8 372.53h1m1 0h1m1 0h2m1 0h1m13 0h2m1 0h4m5 0h1m6 0h3m2 0h1m15 0h1m5 0h1m13 0h5m1 0h1m13 0h1m13 0h1m2 0h2M54.8 375.16h1m1 0h5m9 0h1m1 0h1m1 0h2m1 0h3m1 0h1m27 0h1m1 0h1m17 0h3m1 0h2m9 0h2m2 0h1m23 0h1M51.8 377.79h1m10 0h1m4 0h2m7 0h2m1 0h1m1 0h2m1 0h1m17 0h3m14 0h1m3 0h1m1 0h1m2 0h5m6 0h2" stroke="#000" stroke-width="2.3" fill="none"/>
<path d="M77.8 294.03h1m2 0h2m9 0h1m1 0h1m14 0h1m40 0h1M78.8 296.66h1m25 0h1m9 0h1m47 0h2M92.8 299.29h1m14 0h2m12 0h1m24 0h1M50.8 301.92h1m12 0h1m16 0h3m6 0h1m1 0h1m15 0h4m2 0h1m3 0h2m21 0h3m3 0h3m5 0h1m2 0h1M58.8 304.55h2m10 0h1m1 0h1m8 0h1m5 0h2m18 0h2m7 0h2m4 0h1m14 0h2m21 0h1m3 0h1m1 0h1m3 0h1M66.8 307.18h4m5 0h1m9 0h5m1 0h2m26 0h1m7 0h1m18 0h2m4 0h1m1 0h2m5 0h1m5 0h1M54.8 309.81h1m17 0h2m1 0h2m23 0h1m13 0h2m25 0h1m5 0h1m1 0h2m4 0h2m15 0h1.6M52.8 312.44h1m20 0h1m3 0h1m4 0h1m43 0h2m14 0h2m10 0h1M70.8 315.07h1m2 0h1m1 0h1m7 0h1m27 0h1m12 0h1m4 0h2M63.8 317.70h1m8 0h2m1 0h3m13 0h1m17 0h1m2 0h1m6 0h1m15 0h3m7 0h1M59.8 320.33h1m15 0h4m32 0h1m27 0h3m21 0h2M53.8 322.96h1m11 0h1m11 0h1m10 0h3m1 0h1m11 0h1m2 0h1m25 0h1m9 0h1m1 0h2M74.8 325.59h1m1 0h1m45 0h1m4 0h1m13 0h2m9 0h2M70.8 328.22h1m2 0h1m1 0h1m3 0h1m1 0h1m10 0h1m1 0h1m22 0h2m25 0h1m1 0h2m20 0h1M65.8 330.85h1m14 0h2m1 0h2m1 0h1m5 0h1m36 0h1m6 0h3M73.8 333.48h1m8 0h1m3 0h1m1 0h2m14 0h1m2 0h1m12 0h3m16 0h1m6 0h2m4 0h1m19 0h1M53.8 336.11h2m2 0h1m43 0h1m35 0h2m4 0h1m9 0h1M54.8 338.74h1m3 0h1m15 0h3m5 0h1m1 0h1m6 0h1m20 0h1m6 0h1m27 0h2m11 0h1m3 0h1m7 0h1.6M83.8 341.37h2m13 0h1m2 0h1m17 0h1m6 0h5m16 0h4m12 0h1M65.8 344.00h1m8 0h1m35 0h1m5 0h2m26 0h1m5 0h1M75.8 346.63h1m3 0h2m1 0h1m26 0h1m13 0h2m11 0h5m13 0h1m16 0h1M54.8 349.26h1m13 0h2m32 0h1m12 0h1m11 0h2m5 0h1m29 0h2m5 0h1M53.8 351.89h1m29 0h1m4 0h1m29 0h1m13 0h1m8 0h1m9 0h1m15 0h1m5 0h0.6M55.8 354.52h1m2 0h1m114 0h0.6M57.8 357.15h1m47 0h3m9 0h1m15 0h1M53.8 359.78h2m6 0h1m11 0h2m12 0h1m45 0h5m8 0h2m1 0h1m10 0h1m11 0h1M48.8 362.41h1m22 0h3m1 0h2m11 0h4m14 0h1m35 0h1M60.8 365.04h2m4 0h1m10 0h2m2 0h1m3 0h2m22 0h1m18 0h1m9 0h2m1 0h1m14 0h2M68.8 367.67h3m11 0h1m10 0h1m27 0h1m31 0h1m2 0h1m8 0h2M50.8 370.30h1m3 0h1m11 0h1m1 0h2m1 0h3m9 0h1m10 0h1m25 0h1m8 0h3M63.8 372.93h1m1 0h1m1 0h1m9 0h1m1 0h1m38 0h1m5 0h1m11 0h3m4 0h1M50.8 375.56h1m46 0h1m16 0h1m5 0h1m6 0h1m8 0h1m1 0h1m3 0h1m3 0h1m11 0h1m4 0h1m1 0h1M54.8 378.19h1m10 0h2m3 0h3m1 0h1m59 0h1m1 0h2m3 0h2m1 0h1m12 0h1m2 0h1m3 0h2" stroke="#1a1a1a" stroke-width="1.5" fill="none"/>
<path d="M131.8 294.38h1m2 0h1M83.8 297.01h2m9 0h2m34 0h2m13 0h1m1 0h1m3 0h1m1 0h2M73.8 299.64h1m12 0h1m3 0h1M73.8 302.27h1m64 0h1m13 0h1M85.8 304.90h1m43 0h1m1 0h1m10 0h1m12 0h2M60.8 307.53h1m16 0h1m3 0h2m51 0h2m3 0h3M68.8 310.16h1m83 0h1M89.8 312.79h2m3 0h1m16 0h1m9 0h1m23 0h1m16 0h1M85.8 315.42h1m5 0h3m13 0h2m5 0h1m2 0h1m30 0h1M79.8 318.05h1m13 0h1m52 0h1m25 0h1M48.8 320.68h1m21 0h1m2 0h2m47 0h1m25 0h1m4 0h1M101.8 323.31h1m7 0h2m46 0h2M49.8 325.94h1m4 0h3m7 0h2m19 0h1m1 0h1m49 0h1m1 0h1m4 0h1m25 0h1M61.8 328.57h1m9 0h1m5 0h2m58 0h1m11 0h3m13 0h1M78.8 331.20h2m8 0h3m30 0h1m12 0h1M75.8 333.83h1m3 0h2m3 0h1m5 0h2m7 0h3m23 0h1m4 0h1m23 0h1M136.8 336.46h1m12 0h1m1 0h1M78.8 339.09h1m7 0h2m47 0h1m7 0h3M74.8 341.72h2m1 0h1m12 0h1m5 0h1m14 0h1m20 0h1m6 0h3M49.8 344.35h1m1 0h1m24 0h1m4 0h3m58 0h1m3 0h1m1 0h1m6 0h1M58.8 346.98h1m2 0h1m11 0h2m10 0h1m3 0h2m44 0h1M77.8 349.61h1m7 0h2m34 0h1m13 0h4m23 0h1M79.8 352.24h1m1 0h1m3 0h2m15 0h1m9 0h1m9 0h1m11 0h6M60.8 354.87h1m4 0h1m45 0h1m20 0h2m10 0h1m1 0h1M68.8 357.50h2m5 0h1m9 0h1m53 0h1m11 0h3m11 0h3M70.8 360.13h2m48 0h1m22 0h1M56.8 362.76h1m11 0h3m55 0h1m5 0h3m9 0h1m11 0h1M75.8 365.39h1m7 0h1m23 0h1m8 0h1m9 0h1m7 0h2m10 0h1m1 0h1M61.8 368.02h1m2 0h2m18 0h1m45 0h3m6 0h2m2 0h3m13 0h2M78.8 370.65h1m54 0h3M83.8 373.28h3m19 0h2m20 0h1m12 0h2m3 0h2m10 0h1M66.8 375.91h3m48 0h1m22 0h1m13 0h1m6 0h1m6 0h2M61.8 378.54h1m29 0h1m24 0h2" stroke="#444" stroke-width="0.8" fill="none"/>
<text transform="translate(48.80,391.50) scale(1.0,0.93)" font-size="11.3" text-anchor="middle" font-weight="normal" fill="#000" stroke="#000" stroke-width="0.18"  >0</text>
<rect x="48.3" y="392.79999999999995" width="1" height="2" fill="#222"/>
<g transform="translate(80.20,391.50) scale(1.0,0.93)" fill="#000" stroke="#000" stroke-width="0.18"><text x="-6.28" y="0" font-size="11.3" font-weight="normal"  > 2</text><path d="M763 0 L583 0 L583 -1102 Q518 -1042 412 -983 Q306 -924 223 -894 L223 -1061 Q372 -1128 484 -1224 Q596 -1320 643 -1409 L763 -1409 Z" stroke-width="33" transform="translate(-6.28,0) scale(0.00552)"/></g>
<rect x="79.69999999999999" y="392.79999999999995" width="1" height="2" fill="#222"/>
<text transform="translate(111.60,391.50) scale(1.0,0.93)" font-size="11.3" text-anchor="middle" font-weight="normal" fill="#000" stroke="#000" stroke-width="0.18"  >0</text>
<rect x="111.1" y="392.79999999999995" width="1" height="2" fill="#222"/>
<g transform="translate(143.00,391.50) scale(1.0,0.93)" fill="#000" stroke="#000" stroke-width="0.18"><text x="-6.28" y="0" font-size="11.3" font-weight="normal"  > 2</text><path d="M763 0 L583 0 L583 -1102 Q518 -1042 412 -983 Q306 -924 223 -894 L223 -1061 Q372 -1128 484 -1224 Q596 -1320 643 -1409 L763 -1409 Z" stroke-width="33" transform="translate(-6.28,0) scale(0.00552)"/></g>
<rect x="142.5" y="392.79999999999995" width="1" height="2" fill="#222"/>
<text transform="translate(174.40,391.50) scale(1.0,0.93)" font-size="11.3" text-anchor="middle" font-weight="normal" fill="#000" stroke="#000" stroke-width="0.18"  >0</text>
<rect x="173.89999999999998" y="392.79999999999995" width="1" height="2" fill="#222"/>
<rect x="48.8" y="394.79999999999995" width="125.6" height="3.4" fill="#5a5a5a"/>
<g transform="translate(46.10,404.40) scale(1.0,1.07)" fill="#000" stroke="#000" stroke-width="0.18"><text x="-6.28" y="0" font-size="11.3" font-weight="normal"  > </text><path d="M763 0 L583 0 L583 -1102 Q518 -1042 412 -983 Q306 -924 223 -894 L223 -1061 Q372 -1128 484 -1224 Q596 -1320 643 -1409 L763 -1409 Z" stroke-width="33" transform="translate(-6.28,0) scale(0.00552)"/></g>
<rect x="46.599999999999994" y="399.8" width="1.6" height="0.8" fill="#444"/>
<text transform="translate(46.10,420.18) scale(1.0,1.07)" font-size="11.3" text-anchor="end" font-weight="normal" fill="#000" stroke="#000" stroke-width="0.18"  >7</text>
<rect x="46.599999999999994" y="415.58" width="1.6" height="0.8" fill="#444"/>
<g transform="translate(46.10,438.59) scale(1.0,1.07)" fill="#000" stroke="#000" stroke-width="0.18"><text x="-12.57" y="0" font-size="11.3" font-weight="normal"  > 4</text><path d="M763 0 L583 0 L583 -1102 Q518 -1042 412 -983 Q306 -924 223 -894 L223 -1061 Q372 -1128 484 -1224 Q596 -1320 643 -1409 L763 -1409 Z" stroke-width="33" transform="translate(-12.57,0) scale(0.00552)"/></g>
<rect x="46.599999999999994" y="433.99" width="1.6" height="0.8" fill="#444"/>
<g transform="translate(46.10,457.00) scale(1.0,1.07)" fill="#000" stroke="#000" stroke-width="0.18"><text x="-12.57" y="0" font-size="11.3" font-weight="normal"  >2 </text><path d="M763 0 L583 0 L583 -1102 Q518 -1042 412 -983 Q306 -924 223 -894 L223 -1061 Q372 -1128 484 -1224 Q596 -1320 643 -1409 L763 -1409 Z" stroke-width="33" transform="translate(-6.28,0) scale(0.00552)"/></g>
<rect x="46.599999999999994" y="452.4" width="1.6" height="0.8" fill="#444"/>
<text transform="translate(46.10,475.41) scale(1.0,1.07)" font-size="11.3" text-anchor="end" font-weight="normal" fill="#000" stroke="#000" stroke-width="0.18"  >28</text>
<rect x="46.599999999999994" y="470.81" width="1.6" height="0.8" fill="#444"/>
<line x1="57.9" y1="398.4" x2="63.3" y2="433.79999999999995" stroke="#e6000e" stroke-width="2.9"/>
<line x1="65.3" y1="442.5" x2="73.0" y2="483.9" stroke="#e6000e" stroke-width="2.9"/>
<path d="M62.8 399.73h3m2 0h3m3 0h2m1 0h1m6 0h2m1 0h1m4 0h1m12 0h1m11 0h1m3 0h5m6 0h2m1 0h5m1 0h3m3 0h1m1 0h1m4 0h1m1 0h3m5 0h1m5 0h1M59.8 402.36h2m1 0h2m6 0h2m1 0h2m2 0h1m5 0h1m4 0h1m1 0h5m7 0h1m2 0h2m7 0h1m10 0h2m5 0h1m1 0h2m3 0h2m2 0h2m3 0h1m1 0h2m1 0h1m4 0h2m6 0h1M68.8 404.99h8m1 0h1m5 0h1m1 0h1m3 0h1m3 0h1m1 0h1m3 0h1m21 0h4m4 0h1m1 0h5m1 0h3m6 0h1m1 0h2m1 0h1m1 0h2m1 0h2m7 0h1M52.8 407.62h2m5 0h5m1 0h5m3 0h1m6 0h2m2 0h2m1 0h1m1 0h1m6 0h1m5 0h1m12 0h2m4 0h1m6 0h3m3 0h3m3 0h1m5 0h2m7 0h1m1 0h1m10 0h1M54.8 410.25h1m6 0h1m1 0h5m13 0h2m1 0h4m24 0h1m10 0h2m2 0h3m3 0h1m12 0h1m2 0h1m3 0h1m1 0h1m4 0h1M50.8 412.88h1m9 0h2m1 0h3m3 0h2m1 0h3m9 0h3m5 0h1m5 0h1m14 0h1m8 0h2m4 0h2m10 0h1m2 0h1m4 0h2m1 0h1m9 0h1M53.8 415.51h1m11 0h2m3 0h7m2 0h1m1 0h2m4 0h2m9 0h1m21 0h1m3 0h2m1 0h3m1 0h3m2 0h1m1 0h2m1 0h1m4 0h1m5 0h2m1 0h3m3 0h2M59.8 418.14h3m4 0h4m2 0h1m4 0h3m3 0h1m13 0h2m13 0h2m6 0h3m1 0h3m4 0h3m1 0h2m1 0h4m6 0h1m1 0h2m9 0h1M51.8 420.77h1m10 0h5m1 0h2m1 0h1m4 0h2m9 0h1m1 0h1m1 0h1m1 0h2m29 0h1m1 0h3m1 0h1m1 0h2m2 0h1m8 0h1m2 0h1m1 0h1m1 0h1m1 0h2M63.8 423.40h2m4 0h1m4 0h2m1 0h1m1 0h2m6 0h4m3 0h1m35 0h3m3 0h2m1 0h4m6 0h1m3 0h3m4 0h2M49.8 426.03h1m6 0h1m3 0h3m1 0h3m1 0h1m1 0h1m6 0h1m2 0h2m3 0h1m11 0h2m6 0h1m12 0h1m2 0h1m3 0h2m2 0h2m5 0h1m4 0h1m1 0h1m5 0h3m1 0h1m18 0h1M52.8 428.66h1m12 0h4m3 0h1m1 0h1m4 0h2m14 0h2m2 0h1m11 0h1m8 0h2m2 0h14m1 0h1m4 0h2m1 0h3m1 0h2m16 0h1M50.8 431.29h3m2 0h3m3 0h2m3 0h4m2 0h2m4 0h4m2 0h1m1 0h1m7 0h2m17 0h2m2 0h1m1 0h1m6 0h2m14 0h2m1 0h1m1 0h1m2 0h1m5 0h2m3 0h1M51.8 433.92h1m11 0h1m7 0h1m1 0h3m1 0h1m1 0h3m2 0h1m7 0h2m2 0h1m1 0h2m16 0h2m10 0h1m1 0h3m1 0h4m3 0h2m1 0h1m2 0h2m2 0h1m2 0h2m1 0h1m3 0h1M48.8 436.55h2m14 0h3m1 0h1m3 0h6m1 0h1m1 0h1m4 0h1m3 0h1m3 0h3m29 0h3m1 0h3m1 0h4m5 0h2m5 0h2m1 0h7m13 0h0.6M56.8 439.18h1m3 0h1m7 0h4m2 0h1m3 0h2m7 0h5m1 0h2m14 0h1m2 0h1m11 0h1m1 0h1m1 0h1m1 0h2m2 0h3m1 0h1m4 0h2m11 0h2m1 0h1m1 0h1M53.8 441.81h1m8 0h2m1 0h1m4 0h1m11 0h2m1 0h2m4 0h2m3 0h1m1 0h1m2 0h2m25 0h5m10 0h5m3 0h1m3 0h1m1 0h1m1 0h2m12 0h0.6M54.8 444.44h1m5 0h3m1 0h3m1 0h3m23 0h2m1 0h1m31 0h1m1 0h2m1 0h3m1 0h2m1 0h1m3 0h3m3 0h2m1 0h2m1 0h3M70.8 447.07h8m9 0h5m6 0h2m7 0h1m30 0h3m9 0h2m1 0h1m1 0h1m3 0h1m1 0h2M53.8 449.70h1m1 0h1m3 0h2m5 0h1m1 0h4m2 0h1m7 0h1m1 0h3m3 0h2m2 0h1m1 0h1m3 0h1m31 0h1m2 0h1m6 0h3m1 0h3m3 0h1m7 0h2m1 0h2M48.8 452.33h2m17 0h3m1 0h1m4 0h1m3 0h2m13 0h1m1 0h2m1 0h1m21 0h1m5 0h6m1 0h2m1 0h1m2 0h1m3 0h1m1 0h1m9 0h1m3 0h1m2 0h1M58.8 454.96h1m4 0h1m2 0h1m1 0h4m3 0h3m2 0h4m4 0h1m21 0h1m3 0h1m15 0h2m1 0h1m11 0h1m9 0h1m2 0h1m1 0h1m3 0h1M76.8 457.59h1m1 0h1m1 0h2m3 0h2m2 0h1m3 0h1m3 0h3m29 0h1m1 0h5m5 0h3m1 0h1m9 0h2m7 0h1M48.8 460.22h1m5 0h1m8 0h1m2 0h1m2 0h2m10 0h1m1 0h2m3 0h2m8 0h5m12 0h1m3 0h1m1 0h1m7 0h1m1 0h2m1 0h1m2 0h2m1 0h1m1 0h1m3 0h2m1 0h1m5 0h1m5 0h2m1 0h1m2 0h2M55.8 462.85h2m10 0h2m3 0h1m4 0h2m3 0h1m1 0h2m1 0h2m1 0h1m6 0h1m1 0h2m17 0h1m3 0h1m10 0h2m1 0h2m1 0h2m1 0h3m1 0h1m4 0h1m5 0h3m5 0h1m2 0h1M62.8 465.48h1m6 0h2m4 0h2m1 0h1m11 0h1m1 0h2m8 0h1m18 0h1m7 0h1m2 0h1m6 0h4m12 0h1m8 0h3M61.8 468.11h1m11 0h2m1 0h1m2 0h2m2 0h3m2 0h2m5 0h1m4 0h1m3 0h1m26 0h2m1 0h6m3 0h2m2 0h1m1 0h2m2 0h1m2 0h1m1 0h2m2 0h1m1 0h1M50.8 470.74h1m4 0h1m15 0h1m1 0h1m1 0h1m4 0h1m2 0h1m7 0h1m4 0h2m2 0h1m32 0h2m3 0h2m8 0h4m1 0h1m3 0h2m12 0h2M71.8 473.37h2m3 0h3m1 0h2m2 0h1m2 0h1m1 0h1m1 0h1m31 0h2m11 0h2m3 0h1m6 0h1m1 0h2m2 0h1m1 0h2m1 0h1m1 0h1m2 0h1m1 0h1m6 0h0.6M50.8 476.00h2m3 0h2m15 0h1m6 0h9m1 0h1m3 0h1m4 0h2m1 0h3m13 0h1m11 0h1m13 0h1m11 0h1m8 0h1m1 0h1M57.8 478.63h1m10 0h3m1 0h2m1 0h4m4 0h2m3 0h3m4 0h1m6 0h1m1 0h1m13 0h1m1 0h1m8 0h1m11 0h1m1 0h2m1 0h2m4 0h1m2 0h2m7 0h1m2 0h3M58.8 481.26h1m22 0h3m5 0h1m10 0h1m1 0h4m12 0h1m17 0h2m1 0h3m2 0h2m11 0h3m1 0h1m8 0h1M69.8 483.89h1m1 0h3m3 0h2m2 0h1m1 0h6m1 0h1m5 0h1m1 0h3m2 0h1m1 0h1m6 0h1m22 0h7m4 0h4m1 0h1m1 0h1m3 0h1m1 0h2m1 0h1m1 0h1m1 0h1m1 0h1" stroke="#000" stroke-width="2.3" fill="none"/>
<path d="M51.8 400.13h1m6 0h1m1 0h1m4 0h1m5 0h1m7 0h3m11 0h1m32 0h4m20 0h2M56.8 402.76h3m9 0h1m16 0h1m22 0h1m12 0h1m6 0h1m12 0h1m13 0h2M50.8 405.39h1m6 0h1m1 0h6m2 0h1m19 0h1m38 0h2m15 0h2m14 0h2M56.8 408.02h2m12 0h3m18 0h2m1 0h1m36 0h2m5 0h1m2 0h2m6 0h1m1 0h3M58.8 410.65h3m8 0h5m1 0h2m16 0h3m35 0h2m2 0h1M67.8 413.28h2m6 0h1m1 0h1m1 0h2m1 0h1m7 0h1m40 0h2m1 0h3m4 0h2m2 0h1m7 0h1m1 0h3M50.8 415.91h1m9 0h4m4 0h2m7 0h1m12 0h1m1 0h3m9 0h1m2 0h1m14 0h2m10 0h1m13 0h1m10 0h1M62.8 418.54h3m19 0h2m1 0h1m1 0h1m4 0h1m33 0h3m22 0h1m1 0h4M61.8 421.17h1m11 0h2m4 0h2m2 0h2m11 0h2m36 0h1m3 0h2m1 0h2m14 0h3m4 0h1M52.8 423.80h1m8 0h1m9 0h3m9 0h1m2 0h1m5 0h1m3 0h1m1 0h1m6 0h1m18 0h3m7 0h1m8 0h1m1 0h1m5 0h2m4 0h2M72.8 426.43h3m1 0h1m1 0h1m44 0h1m7 0h2m4 0h3m2 0h1m12 0h3m2 0h3M62.8 429.06h2m6 0h1m12 0h2m2 0h1m1 0h1m1 0h3m20 0h1m27 0h2m10 0h2m1 0h2m1 0h3M63.8 431.69h3m4 0h2m5 0h1m5 0h1m4 0h3m1 0h2m5 0h2m23 0h1m3 0h3m1 0h1m1 0h1m1 0h3m14 0h2m3 0h1M61.8 434.32h1m3 0h3m22 0h2m47 0h2m18 0h1M59.8 436.95h1m10 0h1m12 0h1m8 0h1m5 0h1m13 0h1m5 0h2m3 0h2m8 0h1m14 0h1M62.8 439.58h1m9 0h1m2 0h2m3 0h2m17 0h1m32 0h1m13 0h1m2 0h1M67.8 442.21h2m3 0h2m1 0h7m6 0h2m22 0h1m21 0h3M72.8 444.84h1m1 0h1m1 0h2m2 0h2m2 0h1m2 0h3m1 0h1m61 0h1M53.8 447.47h3m2 0h1m7 0h4m25 0h2m35 0h2m1 0h3m34 0h1M49.8 450.10h1m22 0h1m6 0h2m11 0h1m13 0h2m22 0h2m4 0h1m13 0h1m5 0h1m1 0h1M73.8 452.73h2m3 0h2m3 0h4m4 0h1m1 0h2m8 0h1m36 0h1m10 0h1m2 0h2m9 0h1M53.8 455.36h2m17 0h3m3 0h1m6 0h2m3 0h6m1 0h1m40 0h6m2 0h1m2 0h1m2 0h3m1 0h1M51.8 457.99h1m19 0h4m8 0h1m11 0h1m12 0h1m27 0h4m9 0h2M50.8 460.62h1m20 0h1m1 0h3m10 0h1m5 0h2m41 0h2m7 0h2m6 0h1m5 0h3M74.8 463.25h2m4 0h1m21 0h1m29 0h1m15 0h2m5 0h1M95.8 465.88h1m1 0h3m33 0h3m13 0h1m7 0h1m1 0h1m1 0h1M70.8 468.51h2m5 0h2m3 0h1m13 0h2m1 0h1m2 0h1m11 0h1m12 0h1m13 0h1m4 0h1M77.8 471.14h3m1 0h2m5 0h1m4 0h2m8 0h1m20 0h1m6 0h1m9 0h1m1 0h1m1 0h3m13 0h1m1 0h2m1 0h1M73.8 473.77h2m20 0h2m10 0h1m8 0h1m17 0h1M52.8 476.40h1m1 0h1m36 0h1m3 0h3m36 0h2m1 0h3m1 0h1m3 0h1m1 0h2m8 0h1M63.8 479.03h1m16 0h3m3 0h1m10 0h2m1 0h1m57 0h2m1 0h1M73.8 481.66h4m1 0h2m5 0h3m4 0h1m2 0h2m1 0h2m34 0h2m6 0h1m6 0h1m16 0h1m1 0h1M58.8 484.29h2m20 0h1m13 0h1m6 0h2m13 0h1m10 0h1m27 0h1" stroke="#1a1a1a" stroke-width="1.5" fill="none"/>
<path d="M88.8 400.48h2m13 0h1M49.8 403.11h2m14 0h2m8 0h1m10 0h1m9 0h1m25 0h2m5 0h2m6 0h1m8 0h1M65.8 405.74h2m24 0h1m48 0h1M54.8 408.37h1m20 0h1m1 0h2m38 0h1m5 0h5m37 0h2M78.8 411.00h1m11 0h2m44 0h1m1 0h3m1 0h2m7 0h1m5 0h2M54.8 413.63h1m33 0h1m5 0h3m27 0h1m1 0h1m10 0h3M85.8 416.26h1m9 0h1m44 0h1m2 0h2m5 0h1M74.8 418.89h2m15 0h2m22 0h1m26 0h2m2 0h1M65.8 424.15h3m53 0h1m5 0h3m17 0h1M87.8 426.78h4m1 0h1m1 0h3m30 0h2m5 0h1M76.8 429.41h2m93 0h2M74.8 432.04h2m21 0h1m42 0h2m17 0h1M58.8 434.67h1m10 0h2m16 0h2m30 0h1m4 0h3M88.8 437.30h2m48 0h3m5 0h1m18 0h1M64.8 439.93h3m16 0h1m12 0h3m41 0h2m8 0h1M66.8 442.56h1m27 0h1m44 0h4m10 0h1m8 0h1M79.8 445.19h1m2 0h1m16 0h2m42 0h2m16 0h1M79.8 447.82h7m14 0h1m28 0h3m10 0h5m10 0h1M76.8 450.45h1m51 0h2m3 0h1m4 0h4m12 0h1M57.8 453.08h1m7 0h1m58 0h1m18 0h1m15 0h1M57.8 455.71h1m41 0h2m3 0h1m30 0h2m25 0h1m2 0h1M58.8 458.34h1m9 0h2m21 0h1m9 0h1m45 0h1m10 0h5M77.8 460.97h3m11 0h1m3 0h2M70.8 463.60h1m20 0h3m1 0h1m65 0h3M72.8 466.23h1m1 0h1m5 0h2m1 0h3m1 0h1m48 0h3m5 0h4m3 0h1m11 0h1M53.8 468.86h2m7 0h1m23 0h1m6 0h1m23 0h1m42 0h2m4 0h1M68.8 471.49h3m14 0h2m41 0h3m5 0h1m22 0h2M92.8 474.12h3m3 0h2m1 0h3m23 0h2m10 0h1m3 0h4M74.8 476.75h1m1 0h1m73 0h3m6 0h4M107.8 479.38h1m1 0h1m26 0h1m1 0h3m7 0h3M63.8 482.01h1m3 0h1m1 0h1m62 0h1m14 0h1m3 0h1m1 0h2m8 0h2M75.8 484.64h1m67 0h3" stroke="#444" stroke-width="0.8" fill="none"/>
<text transform="translate(190.90,264.90) scale(1.0,1.07)" font-size="12.6" text-anchor="start" font-weight="normal" fill="#000" stroke="#000" stroke-width="0.18"  >CT22</text>
<rect x="190.79999999999998" y="266.3" width="31.0" height="1.3" fill="#333"/>
<text transform="translate(256.50,274.40) scale(1.0,0.93)" font-size="11.5" text-anchor="middle" font-weight="normal" fill="#000" stroke="#000" stroke-width="0.18"  >Time (h)</text>
<text transform="translate(193.70,285.40) scale(1.0,0.93)" font-size="11.3" text-anchor="middle" font-weight="normal" fill="#000" stroke="#000" stroke-width="0.18"  >0</text>
<rect x="193.2" y="286.7" width="1" height="2" fill="#222"/>
<g transform="translate(225.10,285.40) scale(1.0,0.93)" fill="#000" stroke="#000" stroke-width="0.18"><text x="-6.28" y="0" font-size="11.3" font-weight="normal"  > 2</text><path d="M763 0 L583 0 L583 -1102 Q518 -1042 412 -983 Q306 -924 223 -894 L223 -1061 Q372 -1128 484 -1224 Q596 -1320 643 -1409 L763 -1409 Z" stroke-width="33" transform="translate(-6.28,0) scale(0.00552)"/></g>
<rect x="224.6" y="286.7" width="1" height="2" fill="#222"/>
<text transform="translate(256.50,285.40) scale(1.0,0.93)" font-size="11.3" text-anchor="middle" font-weight="normal" fill="#000" stroke="#000" stroke-width="0.18"  >0</text>
<rect x="256.0" y="286.7" width="1" height="2" fill="#222"/>
<g transform="translate(287.90,285.40) scale(1.0,0.93)" fill="#000" stroke="#000" stroke-width="0.18"><text x="-6.28" y="0" font-size="11.3" font-weight="normal"  > 2</text><path d="M763 0 L583 0 L583 -1102 Q518 -1042 412 -983 Q306 -924 223 -894 L223 -1061 Q372 -1128 484 -1224 Q596 -1320 643 -1409 L763 -1409 Z" stroke-width="33" transform="translate(-6.28,0) scale(0.00552)"/></g>
<rect x="287.4" y="286.7" width="1" height="2" fill="#222"/>
<text transform="translate(319.30,285.40) scale(1.0,0.93)" font-size="11.3" text-anchor="middle" font-weight="normal" fill="#000" stroke="#000" stroke-width="0.18"  >0</text>
<rect x="318.79999999999995" y="286.7" width="1" height="2" fill="#222"/>
<rect x="193.7" y="288.7" width="125.6" height="3.4" fill="#5a5a5a"/>
<g transform="translate(191.00,298.30) scale(1.0,1.07)" fill="#000" stroke="#000" stroke-width="0.18"><text x="-6.28" y="0" font-size="11.3" font-weight="normal"  > </text><path d="M763 0 L583 0 L583 -1102 Q518 -1042 412 -983 Q306 -924 223 -894 L223 -1061 Q372 -1128 484 -1224 Q596 -1320 643 -1409 L763 -1409 Z" stroke-width="33" transform="translate(-6.28,0) scale(0.00552)"/></g>
<rect x="191.5" y="293.70000000000005" width="1.6" height="0.8" fill="#444"/>
<text transform="translate(191.00,314.08) scale(1.0,1.07)" font-size="11.3" text-anchor="end" font-weight="normal" fill="#000" stroke="#000" stroke-width="0.18"  >7</text>
<rect x="191.5" y="309.48" width="1.6" height="0.8" fill="#444"/>
<g transform="translate(191.00,332.49) scale(1.0,1.07)" fill="#000" stroke="#000" stroke-width="0.18"><text x="-12.57" y="0" font-size="11.3" font-weight="normal"  > 4</text><path d="M763 0 L583 0 L583 -1102 Q518 -1042 412 -983 Q306 -924 223 -894 L223 -1061 Q372 -1128 484 -1224 Q596 -1320 643 -1409 L763 -1409 Z" stroke-width="33" transform="translate(-12.57,0) scale(0.00552)"/></g>
<rect x="191.5" y="327.89000000000004" width="1.6" height="0.8" fill="#444"/>
<g transform="translate(191.00,350.90) scale(1.0,1.07)" fill="#000" stroke="#000" stroke-width="0.18"><text x="-12.57" y="0" font-size="11.3" font-weight="normal"  >2 </text><path d="M763 0 L583 0 L583 -1102 Q518 -1042 412 -983 Q306 -924 223 -894 L223 -1061 Q372 -1128 484 -1224 Q596 -1320 643 -1409 L763 -1409 Z" stroke-width="33" transform="translate(-6.28,0) scale(0.00552)"/></g>
<rect x="191.5" y="346.30000000000007" width="1.6" height="0.8" fill="#444"/>
<text transform="translate(191.00,369.31) scale(1.0,1.07)" font-size="11.3" text-anchor="end" font-weight="normal" fill="#000" stroke="#000" stroke-width="0.18"  >28</text>
<rect x="191.5" y="364.71000000000004" width="1.6" height="0.8" fill="#444"/>
<line x1="234.5" y1="292.3" x2="224.0" y2="328.2" stroke="#e6000e" stroke-width="2.9"/>
<line x1="220.6" y1="335.7" x2="201.5" y2="378.20000000000005" stroke="#e6000e" stroke-width="2.9"/>
<path d="M197.7 293.63h3m1 0h2m3 0h1m1 0h2m19 0h1m4 0h2m3 0h9m1 0h2m12 0h1m3 0h1m4 0h1m23 0h2m1 0h3m1 0h2m1 0h2m1 0h3m5 0h1.6M200.7 296.26h2m2 0h1m4 0h1m5 0h1m1 0h2m5 0h2m9 0h1m1 0h4m1 0h3m6 0h1m1 0h3m8 0h1m7 0h2m1 0h1m1 0h1m3 0h1m4 0h1m7 0h1m1 0h1m1 0h1m1 0h1m4 0h2m1 0h1m2 0h1M194.7 298.89h1m6 0h1m4 0h2m5 0h1m3 0h1m25 0h2m2 0h1m18 0h1m3 0h1m8 0h2m13 0h6m2 0h1m4 0h1m1 0h1m1 0h1M196.7 301.52h1m5 0h1m1 0h1m19 0h3m5 0h2m4 0h1m1 0h5m10 0h1m11 0h1m3 0h1m7 0h3m1 0h1m13 0h2m3 0h3m3 0h1M198.7 304.15h2m21 0h1m2 0h1m1 0h2m1 0h1m3 0h2m2 0h2m5 0h2m1 0h1m4 0h2m13 0h1m27 0h1m1 0h2m1 0h2m6 0h1m1 0h1m4 0h1m2 0h0.6M199.7 306.78h1m2 0h2m9 0h1m14 0h1m1 0h1m17 0h1m1 0h1m1 0h1m6 0h1m3 0h1m7 0h1m1 0h1m4 0h1m1 0h2m2 0h3m15 0h2m1 0h1m3 0h1m1 0h1M198.7 309.41h1m32 0h5m1 0h2m1 0h1m1 0h2m9 0h1m6 0h1m6 0h1m7 0h1m2 0h1m3 0h1m1 0h1m1 0h1m3 0h6m8 0h2m1 0h1m4 0h1m3 0h1M208.7 312.04h1m5 0h1m3 0h1m11 0h2m1 0h3m3 0h1m1 0h2m48 0h2m1 0h2m6 0h1m4 0h1m4 0h2M193.7 314.67h1m7 0h2m14 0h1m2 0h1m9 0h2m3 0h1m1 0h1m1 0h1m2 0h1m2 0h2m11 0h4m7 0h1m16 0h1m2 0h3m3 0h1m1 0h3m4 0h2m7 0h1M195.7 317.30h1m11 0h1m19 0h1m5 0h4m4 0h1m1 0h1m2 0h1m5 0h1m5 0h1m3 0h2m10 0h1m5 0h1m4 0h1m2 0h3m5 0h3m1 0h2m6 0h1m5 0h1M196.7 319.93h1m34 0h1m7 0h1m5 0h2m4 0h1m6 0h4m4 0h1m12 0h1m7 0h4m7 0h1m3 0h2m1 0h2M200.7 322.56h1m1 0h5m4 0h1m21 0h2m1 0h1m3 0h1m1 0h1m5 0h1m8 0h2m1 0h1m15 0h2m6 0h2m5 0h4m4 0h1m5 0h1m1 0h3m2 0h2M203.7 325.19h1m16 0h4m7 0h3m10 0h1m22 0h1m3 0h1m3 0h1m6 0h1m6 0h3m7 0h1m1 0h1m1 0h2m5 0h1m7 0h0.6M199.7 327.82h1m5 0h1m6 0h1m5 0h2m4 0h1m1 0h1m1 0h1m1 0h1m1 0h1m1 0h5m3 0h2m20 0h1m13 0h1m12 0h1m1 0h1m1 0h3m1 0h3m1 0h1m1 0h1m1 0h1m8 0h1M211.7 330.45h2m8 0h1m3 0h1m1 0h2m2 0h1m4 0h2m2 0h1m11 0h2m9 0h1m4 0h2m1 0h3m9 0h1m6 0h3m5 0h2m1 0h1m2 0h1m1 0h2m1 0h1m5 0h1M204.7 333.08h1m2 0h1m10 0h1m2 0h3m3 0h1m8 0h1m1 0h1m1 0h1m7 0h2m4 0h1m9 0h2m3 0h1m15 0h2m3 0h3m4 0h3m1 0h1m1 0h1m2 0h1m1 0h1M195.7 335.71h1m24 0h3m1 0h3m1 0h1m2 0h2m3 0h1m1 0h1m1 0h4m15 0h1m26 0h3m6 0h1m1 0h1m1 0h1m1 0h1m1 0h1m1 0h1m6 0h2M202.7 338.34h1m4 0h1m8 0h1m7 0h3m4 0h1m1 0h1m5 0h1m14 0h2m3 0h1m12 0h1m7 0h6m1 0h4m4 0h1m1 0h1m2 0h1m1 0h1m1 0h2M194.7 340.97h2m16 0h1m3 0h1m7 0h1m4 0h2m2 0h2m1 0h2m1 0h2m16 0h2m5 0h1m6 0h1m7 0h5m1 0h1m1 0h1m3 0h2m14 0h2M202.7 343.60h1m29 0h4m4 0h1m15 0h2m2 0h1m18 0h1m1 0h5m1 0h3m1 0h3m6 0h2m6 0h1m4 0h1M199.7 346.23h1m2 0h1m2 0h3m1 0h1m3 0h1m2 0h1m1 0h2m3 0h1m7 0h1m1 0h1m18 0h1m15 0h1m10 0h1m1 0h1m17 0h3m9 0h1m5 0h1M218.7 348.86h2m3 0h3m3 0h2m3 0h2m2 0h1m1 0h1m23 0h1m9 0h2m5 0h1m7 0h2m1 0h1m1 0h2m1 0h4m9 0h1M193.7 351.49h1m7 0h1m17 0h1m9 0h2m1 0h3m1 0h1m20 0h1m2 0h1m1 0h1m5 0h1m3 0h1m1 0h2m2 0h4m3 0h3m1 0h1m1 0h3m4 0h1M194.7 354.12h1m16 0h4m2 0h1m1 0h2m5 0h2m8 0h1m12 0h2m17 0h1m18 0h1m1 0h1m1 0h3m7 0h2M200.7 356.75h2m4 0h1m1 0h1m1 0h4m1 0h1m20 0h2m27 0h1m3 0h1m3 0h1m1 0h1m1 0h5m5 0h1m1 0h1m3 0h1m10 0h1m7 0h1m2 0h1M197.7 359.38h1m2 0h1m9 0h1m1 0h3m4 0h1m2 0h1m1 0h3m3 0h1m2 0h1m1 0h1m16 0h1m9 0h1m3 0h1m9 0h1m4 0h1m3 0h4m10 0h1M199.7 362.01h1m7 0h1m1 0h1m5 0h3m1 0h3m1 0h1m9 0h2m36 0h3m3 0h2m12 0h1m15 0h2m4 0h1m2 0h2.6M200.7 364.64h1m8 0h2m6 0h4m1 0h1m1 0h1m2 0h1m1 0h1m7 0h1m25 0h1m2 0h1m2 0h3m4 0h3m6 0h1m1 0h1m5 0h2m3 0h4m6 0h2M195.7 367.27h1m2 0h1m2 0h2m4 0h4m3 0h1m1 0h4m1 0h2m22 0h1m2 0h1m11 0h3m8 0h1m3 0h1m8 0h3m4 0h1m1 0h1M193.7 369.90h5m18 0h1m3 0h1m1 0h3m1 0h1m2 0h1m1 0h1m15 0h1m33 0h2m1 0h1m15 0h2m9 0h1m6 0h0.6M203.7 372.53h2m1 0h2m1 0h2m1 0h3m1 0h1m2 0h4m1 0h2m3 0h1m7 0h1m1 0h1m7 0h1m1 0h1m5 0h1m13 0h1m1 0h1m2 0h2m1 0h1m13 0h1m4 0h1m16 0h1M200.7 375.16h2m6 0h3m2 0h3m3 0h1m4 0h2m4 0h3m6 0h1m2 0h1m5 0h1m15 0h2m1 0h4m2 0h2m5 0h2m3 0h2m12 0h2M209.7 377.79h1m4 0h1m2 0h1m1 0h2m4 0h2m1 0h1m5 0h1m28 0h2m2 0h1m5 0h1m1 0h3m1 0h1m2 0h1m2 0h2m3 0h3m7 0h1m2 0h1m13 0h1" stroke="#000" stroke-width="2.3" fill="none"/>
<path d="M195.7 294.03h1m117 0h1M196.7 296.66h1m35 0h1m13 0h1m45 0h2m8 0h2m13 0h1M196.7 299.29h1m3 0h1m14 0h1m15 0h2m1 0h1m1 0h3m1 0h2m7 0h1m4 0h1m18 0h2m7 0h1m1 0h1m15 0h1m2 0h3m12 0h0.6M235.7 301.92h3m14 0h1m4 0h1m7 0h1m34 0h1m4 0h2m7 0h2m2 0h0.6M210.7 304.55h1m28 0h1m1 0h2m6 0h2m4 0h3m13 0h2m32 0h2M193.7 307.18h1m30 0h2m6 0h5m1 0h1m1 0h5m9 0h2m5 0h1m33 0h2m1 0h3m6 0h1M196.7 309.81h1m13 0h1m18 0h2m17 0h4m44 0h1m1 0h6m5 0h3M194.7 312.44h4m1 0h1m37 0h1m6 0h1m25 0h1m2 0h2m13 0h2m6 0h2m7 0h1m4 0h1m4 0h3.6M196.7 315.07h2m18 0h1m9 0h1m6 0h1m17 0h1m14 0h1m11 0h1m3 0h1m1 0h1m15 0h1m5 0h1m1 0h2m8 0h0.6M210.7 317.70h1m12 0h1m5 0h3m6 0h2m72 0h1M214.7 320.33h1m1 0h1m9 0h3m7 0h3m2 0h3m18 0h1m29 0h3M209.7 322.96h1m12 0h1m1 0h1m1 0h2m1 0h2m7 0h1m5 0h1m6 0h3m9 0h1m24 0h3m10 0h3M225.7 325.59h4m6 0h2m1 0h3m10 0h2m34 0h1m4 0h1m3 0h2m19 0h1M196.7 328.22h1m4 0h2m12 0h1m6 0h1m22 0h1m14 0h1m7 0h1m10 0h1m9 0h1M209.7 330.85h1m19 0h1m5 0h1m11 0h2m8 0h1m29 0h3m6 0h1M196.7 333.48h2m11 0h1m18 0h1m1 0h1m1 0h3m7 0h1m1 0h1m16 0h1m10 0h4m3 0h2m7 0h1m5 0h3M229.7 336.11h1m4 0h1m21 0h1m7 0h1m27 0h2M220.7 338.74h1m20 0h2m27 0h1m21 0h2M221.7 341.37h2m3 0h2m21 0h1m45 0h1m1 0h1m1 0h1m1 0h1M204.7 344.00h1m6 0h1m4 0h3m5 0h2m10 0h1m33 0h1m6 0h2m16 0h1m1 0h2m5 0h1M197.7 346.63h1m23 0h1m3 0h1m35 0h1m13 0h1m8 0h1m1 0h3m6 0h3M215.7 349.26h2m4 0h1m14 0h1m12 0h1m7 0h1m9 0h1m2 0h3m4 0h4M203.7 351.89h2m4 0h1m4 0h1m5 0h2m1 0h5m49 0h1m4 0h2M206.7 354.52h1m8 0h1m13 0h2m2 0h1m5 0h1m16 0h1m1 0h1m14 0h3m1 0h6m1 0h3m1 0h1m5 0h2m1 0h1M219.7 357.15h1m1 0h1m1 0h2m1 0h3m1 0h4m15 0h1m35 0h1m4 0h2m3 0h2m4 0h1M216.7 359.78h1m4 0h1m6 0h1m3 0h1m6 0h1m20 0h1m8 0h1m1 0h1m1 0h2m3 0h2m2 0h2m7 0h4m2 0h1M197.7 362.41h1m3 0h1m9 0h3m10 0h3m1 0h4m48 0h1m4 0h1m7 0h1M207.7 365.04h1m3 0h1m1 0h1m16 0h3m41 0h1m7 0h1m13 0h1M234.7 367.67h1m7 0h1m24 0h1m1 0h1m3 0h2m7 0h2m29 0h2M205.7 370.30h3m1 0h2m3 0h1m3 0h1m8 0h1m33 0h1m2 0h6m2 0h3m2 0h1m1 0h1m10 0h1m1 0h1M193.7 372.93h1m33 0h1m4 0h2m11 0h2m14 0h1m2 0h1m1 0h3m3 0h1m6 0h2m2 0h2m1 0h1M203.7 375.56h4m4 0h2m3 0h3m8 0h1m44 0h1m15 0h1m1 0h1m22 0h2M202.7 378.19h1m2 0h3m7 0h1m13 0h1m31 0h1m9 0h1m8 0h1m7 0h1m9 0h1m16 0h1" stroke="#1a1a1a" stroke-width="1.5" fill="none"/>
<path d="M237.7 294.38h1m18 0h2m1 0h1m5 0h1m10 0h1m17 0h1m19 0h1M194.7 297.01h1m17 0h1m35 0h3m7 0h4m51 0h1m1 0h1M223.7 299.64h1m21 0h1m15 0h1m26 0h2m2 0h1m20 0h2m1 0h1M195.7 302.27h1m11 0h1m38 0h3m13 0h2m5 0h1m18 0h2m3 0h3m14 0h3m4 0h1M214.7 304.90h1m16 0h2m60 0h1m9 0h1m9 0h1M221.7 307.53h1m24 0h1m20 0h1m7 0h2m14 0h4m23 0h0.6M200.7 310.16h2m43 0h2M220.7 312.79h2m6 0h1m16 0h2m21 0h1m6 0h1m6 0h1m2 0h1m12 0h3m3 0h1m3 0h2M228.7 315.42h1m15 0h1m4 0h1m42 0h2m8 0h1M194.7 318.05h1m5 0h1m92 0h2m8 0h4M193.7 320.68h1m27 0h1m1 0h1m5 0h2m1 0h3m14 0h1m18 0h1m4 0h1m9 0h1m12 0h2m2 0h1m7 0h1m2 0h2M214.7 323.31h2m15 0h1m14 0h1m19 0h1m29 0h2M214.7 325.94h1m14 0h2m11 0h1m41 0h2m8 0h1m11 0h1m1 0h1m2 0h2M240.7 328.57h1m8 0h2m19 0h1m4 0h2m6 0h2m1 0h2M204.7 331.20h2m1 0h1m15 0h2m8 0h1m5 0h1m1 0h2m1 0h2m39 0h1m7 0h2M200.7 333.83h1m12 0h1m10 0h3m56 0h1m32 0h1M206.7 336.46h1m38 0h1m27 0h1m7 0h4m5 0h1m24 0h1M193.7 339.09h1m6 0h2m19 0h2m5 0h2m5 0h3m7 0h1m22 0h1m6 0h1M203.7 341.72h1m1 0h1m12 0h2m68 0h2m13 0h1M197.7 344.35h1m21 0h1m1 0h2m4 0h1m1 0h2m7 0h1M194.7 346.98h1m32 0h3m5 0h2m39 0h1m1 0h1m3 0h1m8 0h1m1 0h1m24 0h0.6M200.7 349.61h1m25 0h2m4 0h1m50 0h5M211.7 352.24h1m4 0h2m21 0h1m15 0h1m39 0h2m5 0h1M201.7 354.87h1m20 0h3m9 0h2m8 0h1M217.7 357.50h2m20 0h1m42 0h3M207.7 360.13h1m19 0h1M265.7 362.76h1m9 0h1m6 0h2m3 0h1m1 0h1m4 0h1m1 0h2m1 0h1M215.7 365.39h1m9 0h1m30 0h2m14 0h1m7 0h1m8 0h2m13 0h2M211.7 368.02h2m10 0h1m1 0h1m3 0h1m1 0h1m12 0h1m5 0h1m14 0h2m10 0h4m7 0h2m19 0h2M212.7 370.65h1m57 0h1m15 0h4M199.7 373.28h1m26 0h1m7 0h1m24 0h1m28 0h2M221.7 375.91h2m34 0h1m2 0h1m15 0h1m1 0h2m3 0h1M195.7 378.54h1m8 0h1m6 0h2m9 0h2m11 0h1m33 0h2" stroke="#444" stroke-width="0.8" fill="none"/>
<text transform="translate(193.70,391.50) scale(1.0,0.93)" font-size="11.3" text-anchor="middle" font-weight="normal" fill="#000" stroke="#000" stroke-width="0.18"  >0</text>
<rect x="193.2" y="392.79999999999995" width="1" height="2" fill="#222"/>
<g transform="translate(225.10,391.50) scale(1.0,0.93)" fill="#000" stroke="#000" stroke-width="0.18"><text x="-6.28" y="0" font-size="11.3" font-weight="normal"  > 2</text><path d="M763 0 L583 0 L583 -1102 Q518 -1042 412 -983 Q306 -924 223 -894 L223 -1061 Q372 -1128 484 -1224 Q596 -1320 643 -1409 L763 -1409 Z" stroke-width="33" transform="translate(-6.28,0) scale(0.00552)"/></g>
<rect x="224.6" y="392.79999999999995" width="1" height="2" fill="#222"/>
<text transform="translate(256.50,391.50) scale(1.0,0.93)" font-size="11.3" text-anchor="middle" font-weight="normal" fill="#000" stroke="#000" stroke-width="0.18"  >0</text>
<rect x="256.0" y="392.79999999999995" width="1" height="2" fill="#222"/>
<g transform="translate(287.90,391.50) scale(1.0,0.93)" fill="#000" stroke="#000" stroke-width="0.18"><text x="-6.28" y="0" font-size="11.3" font-weight="normal"  > 2</text><path d="M763 0 L583 0 L583 -1102 Q518 -1042 412 -983 Q306 -924 223 -894 L223 -1061 Q372 -1128 484 -1224 Q596 -1320 643 -1409 L763 -1409 Z" stroke-width="33" transform="translate(-6.28,0) scale(0.00552)"/></g>
<rect x="287.4" y="392.79999999999995" width="1" height="2" fill="#222"/>
<text transform="translate(319.30,391.50) scale(1.0,0.93)" font-size="11.3" text-anchor="middle" font-weight="normal" fill="#000" stroke="#000" stroke-width="0.18"  >0</text>
<rect x="318.79999999999995" y="392.79999999999995" width="1" height="2" fill="#222"/>
<rect x="193.7" y="394.79999999999995" width="125.6" height="3.4" fill="#5a5a5a"/>
<g transform="translate(191.00,404.40) scale(1.0,1.07)" fill="#000" stroke="#000" stroke-width="0.18"><text x="-6.28" y="0" font-size="11.3" font-weight="normal"  > </text><path d="M763 0 L583 0 L583 -1102 Q518 -1042 412 -983 Q306 -924 223 -894 L223 -1061 Q372 -1128 484 -1224 Q596 -1320 643 -1409 L763 -1409 Z" stroke-width="33" transform="translate(-6.28,0) scale(0.00552)"/></g>
<rect x="191.5" y="399.8" width="1.6" height="0.8" fill="#444"/>
<text transform="translate(191.00,420.18) scale(1.0,1.07)" font-size="11.3" text-anchor="end" font-weight="normal" fill="#000" stroke="#000" stroke-width="0.18"  >7</text>
<rect x="191.5" y="415.58" width="1.6" height="0.8" fill="#444"/>
<g transform="translate(191.00,438.59) scale(1.0,1.07)" fill="#000" stroke="#000" stroke-width="0.18"><text x="-12.57" y="0" font-size="11.3" font-weight="normal"  > 4</text><path d="M763 0 L583 0 L583 -1102 Q518 -1042 412 -983 Q306 -924 223 -894 L223 -1061 Q372 -1128 484 -1224 Q596 -1320 643 -1409 L763 -1409 Z" stroke-width="33" transform="translate(-12.57,0) scale(0.00552)"/></g>
<rect x="191.5" y="433.99" width="1.6" height="0.8" fill="#444"/>
<g transform="translate(191.00,457.00) scale(1.0,1.07)" fill="#000" stroke="#000" stroke-width="0.18"><text x="-12.57" y="0" font-size="11.3" font-weight="normal"  >2 </text><path d="M763 0 L583 0 L583 -1102 Q518 -1042 412 -983 Q306 -924 223 -894 L223 -1061 Q372 -1128 484 -1224 Q596 -1320 643 -1409 L763 -1409 Z" stroke-width="33" transform="translate(-6.28,0) scale(0.00552)"/></g>
<rect x="191.5" y="452.4" width="1.6" height="0.8" fill="#444"/>
<text transform="translate(191.00,475.41) scale(1.0,1.07)" font-size="11.3" text-anchor="end" font-weight="normal" fill="#000" stroke="#000" stroke-width="0.18"  >28</text>
<rect x="191.5" y="470.81" width="1.6" height="0.8" fill="#444"/>
<line x1="199.6" y1="398.4" x2="207.7" y2="433.79999999999995" stroke="#e6000e" stroke-width="2.9"/>
<line x1="207.0" y1="442.5" x2="213.1" y2="483.9" stroke="#e6000e" stroke-width="2.9"/>
<path d="M201.7 399.73h2m1 0h1m11 0h1m2 0h2m5 0h2m1 0h2m3 0h3m4 0h2m18 0h1m1 0h1m5 0h2m3 0h1m10 0h3m1 0h1M196.7 402.36h1m4 0h1m12 0h1m8 0h1m2 0h2m14 0h1m4 0h2m6 0h2m5 0h1m1 0h7m12 0h5m3 0h1m3 0h1m3 0h1m1 0h1m7 0h1M193.7 404.99h1m5 0h1m7 0h3m1 0h3m7 0h1m1 0h5m24 0h1m2 0h1m7 0h3m4 0h4m3 0h3m20 0h2m1 0h2m4 0h1M197.7 407.62h1m2 0h2m4 0h2m1 0h3m13 0h5m4 0h1m2 0h1m4 0h1m5 0h3m12 0h1m1 0h4m1 0h2m3 0h4m2 0h1m15 0h1m2 0h1m2 0h1M195.7 410.25h1m2 0h1m3 0h6m2 0h4m2 0h1m5 0h5m2 0h1m1 0h3m6 0h1m17 0h1m1 0h1m5 0h4m6 0h5m4 0h3m1 0h1m1 0h2m3 0h3M214.7 412.88h3m5 0h1m3 0h5m6 0h2m1 0h1m1 0h2m5 0h1m16 0h1m1 0h3m6 0h3m11 0h3m2 0h6M205.7 415.51h1m1 0h2m19 0h2m1 0h1m4 0h3m3 0h1m2 0h1m17 0h1m1 0h1m2 0h3m2 0h2m1 0h3m7 0h2m4 0h1m6 0h2m3 0h1m10 0h2M193.7 418.14h1m2 0h1m7 0h1m3 0h5m4 0h1m5 0h2m4 0h1m1 0h2m2 0h1m1 0h2m1 0h2m7 0h1m16 0h3m3 0h3m1 0h3m1 0h1m5 0h4m1 0h6m4 0h1m1 0h1m8 0h1M204.7 420.77h4m20 0h5m2 0h1m3 0h2m13 0h2m12 0h6m5 0h1m1 0h3m12 0h1m1 0h3m8 0h2M200.7 423.40h2m22 0h1m1 0h2m13 0h2m4 0h1m23 0h3m4 0h2m12 0h3m7 0h1m2 0h1M204.7 426.03h6m2 0h7m3 0h1m1 0h2m1 0h1m1 0h1m1 0h1m2 0h1m9 0h1m25 0h1m1 0h2m3 0h2m9 0h4m1 0h1m3 0h1m2 0h1M198.7 428.66h1m1 0h2m3 0h5m1 0h1m13 0h1m1 0h4m5 0h2m3 0h2m3 0h1m28 0h5m5 0h1m2 0h1m1 0h1m3 0h2m1 0h2m1 0h5m6 0h1M197.7 431.29h2m5 0h1m2 0h7m2 0h5m4 0h1m3 0h1m1 0h2m40 0h6m10 0h3m1 0h1m1 0h2m3 0h4m3 0h1M207.7 433.92h3m1 0h3m2 0h3m7 0h3m10 0h1m2 0h1m1 0h2m6 0h1m3 0h1m13 0h4m18 0h3m4 0h4m1 0h1m1 0h4M206.7 436.55h3m5 0h3m1 0h2m7 0h5m3 0h1m21 0h1m15 0h3m13 0h1m1 0h1m4 0h1m1 0h1m1 0h2m3 0h1M201.7 439.18h1m3 0h1m2 0h4m2 0h4m1 0h2m9 0h5m4 0h3m9 0h1m4 0h1m3 0h2m19 0h1m1 0h2m1 0h1m2 0h2m11 0h1m1 0h1m4 0h1m2 0h2m1 0h1M219.7 441.81h2m5 0h1m7 0h2m8 0h1m23 0h1m4 0h3m13 0h1m1 0h1m10 0h1m3 0h1m7 0h1M206.7 444.44h2m1 0h3m5 0h1m1 0h1m3 0h1m1 0h1m1 0h2m1 0h1m6 0h2m1 0h3m1 0h2m24 0h2m1 0h1m1 0h2m1 0h4m5 0h1m5 0h2m1 0h5m4 0h1m1 0h1M206.7 447.07h3m1 0h2m2 0h1m1 0h2m6 0h1m2 0h2m31 0h1m8 0h2m3 0h6m10 0h2m1 0h1m1 0h3m10 0h2M207.7 449.70h1m1 0h5m2 0h1m1 0h3m10 0h2m4 0h3m4 0h1m9 0h1m4 0h1m9 0h3m3 0h2m1 0h6m6 0h8m8 0h1m1 0h1m7 0h1M197.7 452.33h3m7 0h3m2 0h1m7 0h1m3 0h1m5 0h2m3 0h1m2 0h2m1 0h3m9 0h2m5 0h1m12 0h5m12 0h5m1 0h3m1 0h3m2 0h1m7 0h1M201.7 454.96h1m2 0h1m2 0h5m4 0h1m1 0h1m3 0h1m7 0h1m8 0h2m4 0h1m26 0h4m1 0h2m3 0h3m3 0h1m2 0h1m1 0h1m3 0h2m1 0h2m2 0h1m1 0h1m1 0h1m2 0h1M220.7 457.59h3m5 0h2m3 0h2m8 0h1m1 0h1m4 0h1m11 0h1m5 0h2m2 0h3m1 0h7m1 0h2m4 0h2m1 0h1m1 0h2m1 0h3m1 0h1m1 0h1m3 0h2M199.7 460.22h2m6 0h3m7 0h2m2 0h1m7 0h4m3 0h1m2 0h1m2 0h1m2 0h1m3 0h1m11 0h1m12 0h2m3 0h6m10 0h3m3 0h1m1 0h1m1 0h1m1 0h3m5 0h3M195.7 462.85h2m17 0h3m12 0h1m10 0h3m1 0h1m26 0h1m1 0h10m8 0h1m2 0h3m1 0h3m1 0h1M196.7 465.48h1m14 0h2m3 0h3m4 0h1m1 0h1m10 0h4m3 0h3m5 0h1m9 0h1m10 0h5m1 0h3m2 0h1m1 0h2m1 0h2m4 0h1m6 0h6m1 0h1m1 0h1M212.7 468.11h6m4 0h1m1 0h1m6 0h2m3 0h1m1 0h1m4 0h2m34 0h2m2 0h1m5 0h1m2 0h3m2 0h2m3 0h2m1 0h4m1 0h1m4 0h1M209.7 470.74h1m4 0h3m13 0h2m6 0h3m2 0h2m1 0h1m32 0h1m1 0h1m1 0h5m6 0h1m1 0h3m2 0h1m1 0h2m3 0h2M194.7 473.37h1m8 0h1m4 0h2m1 0h2m2 0h1m1 0h3m3 0h2m8 0h1m1 0h1m2 0h2m34 0h5m1 0h3m1 0h4m5 0h1m1 0h2m1 0h2m4 0h1m1 0h2m3 0h2M216.7 476.00h1m2 0h3m1 0h1m1 0h1m2 0h1m1 0h2m3 0h1m2 0h4m5 0h1m30 0h4m14 0h1m2 0h4m4 0h1m1 0h1m2 0h1M199.7 478.63h2m14 0h4m15 0h2m6 0h3m30 0h2m4 0h2m5 0h1m9 0h1m2 0h1m1 0h1m5 0h1M193.7 481.26h1m1 0h1m17 0h2m9 0h2m11 0h5m1 0h1m1 0h1m23 0h1m5 0h1m6 0h1m10 0h1m1 0h1m13 0h1m4 0h2M210.7 483.89h1m1 0h1m1 0h2m15 0h2m1 0h4m27 0h1m6 0h1m6 0h1m3 0h1m2 0h2m2 0h2m7 0h2m1 0h1m2 0h1m5 0h2m5 0h0.6" stroke="#000" stroke-width="2.3" fill="none"/>
<path d="M206.7 400.13h4m1 0h1m10 0h1m1 0h1m28 0h1m10 0h1m1 0h3m22 0h1m1 0h1m1 0h1m1 0h1m6 0h1M202.7 402.76h3m3 0h2m1 0h2m7 0h2m7 0h2m1 0h2m1 0h1m40 0h2m10 0h3m2 0h2m1 0h3M205.7 405.39h1m23 0h4m6 0h2m6 0h1m36 0h2m1 0h1m1 0h3m1 0h3m1 0h2M212.7 408.02h2m17 0h3m2 0h1m9 0h1m25 0h2m15 0h1m9 0h1M214.7 410.65h2m19 0h1m3 0h1m32 0h3m19 0h1m5 0h3M203.7 413.28h1m1 0h3m2 0h3m11 0h1m9 0h2m35 0h3m6 0h1m4 0h3m6 0h2m7 0h3M203.7 415.91h2m6 0h2m27 0h1m30 0h2m6 0h2m1 0h1m6 0h2m3 0h1m1 0h2m4 0h1M214.7 418.54h3m9 0h3m40 0h2m8 0h1m18 0h1m6 0h2m3 0h1M208.7 421.17h5m11 0h3m7 0h1m7 0h1m16 0h2m5 0h1m23 0h3m1 0h1m7 0h1m1 0h1M209.7 423.80h3m1 0h5m11 0h7m28 0h1m1 0h2m1 0h1m18 0h3m4 0h1m2 0h1m1 0h1M199.7 426.43h1m36 0h2m3 0h1m26 0h2m4 0h3m18 0h1m2 0h1m7 0h1m8 0h1M213.7 429.06h4m14 0h2m1 0h1m3 0h3m22 0h2m5 0h1m9 0h3m23 0h1M214.7 431.69h2m18 0h1m1 0h1m5 0h3m25 0h3m9 0h3m20 0h1M219.7 434.32h1m14 0h1m1 0h2m36 0h2m1 0h3m9 0h3m5 0h1M193.7 436.95h1m18 0h1m19 0h2m3 0h1m1 0h1m7 0h1m4 0h1m8 0h1m2 0h2m4 0h3m3 0h1m3 0h1m12 0h3m6 0h2m3 0h1M226.7 439.58h1m9 0h2m5 0h2m2 0h1m22 0h3m1 0h6m11 0h2m1 0h1m1 0h3m15 0h1M205.7 442.21h1m1 0h2m6 0h3m19 0h1m4 0h1m18 0h1m9 0h1m4 0h2m2 0h4m3 0h1m7 0h5m8 0h1m1 0h3M232.7 444.84h5m11 0h1m4 0h1m7 0h1m23 0h2m3 0h1m13 0h1M231.7 447.47h1m3 0h4m3 0h1m1 0h2m26 0h1m8 0h1m1 0h2m14 0h4m3 0h1M197.7 450.10h1m35 0h2m14 0h1m16 0h1m21 0h1m10 0h3m1 0h1m1 0h1M210.7 452.73h2m2 0h3m2 0h1m13 0h1m11 0h2m10 0h1m9 0h1m13 0h4m22 0h2m1 0h1M199.7 455.36h1m13 0h3m11 0h2m3 0h1m4 0h1m9 0h1m32 0h2m13 0h1m6 0h1m14 0h1M195.7 457.99h1m4 0h1m15 0h4m11 0h1m3 0h1m1 0h2m2 0h1m4 0h1m7 0h1m20 0h1m30 0h1M210.7 460.62h7m2 0h2m3 0h1m18 0h1m21 0h1m6 0h1m4 0h1m14 0h3m16 0h2M201.7 463.25h2m1 0h1m7 0h1m5 0h4m9 0h2m1 0h2m1 0h2m7 0h2m35 0h1m1 0h1m6 0h1M203.7 465.88h1m5 0h2m8 0h4m3 0h1m2 0h1m4 0h2m5 0h1m5 0h1m11 0h1m7 0h1m9 0h1m3 0h1m10 0h1m3 0h2M219.7 468.51h2m19 0h3m29 0h1m1 0h5m16 0h1M202.7 471.14h1m8 0h3m7 0h3m4 0h1m4 0h2m1 0h1m27 0h1m26 0h2m6 0h2m5 0h2M220.7 473.77h2m7 0h3m11 0h1m1 0h2m32 0h1m11 0h1m9 0h2m6 0h1M212.7 476.40h3m18 0h2m1 0h1m5 0h4m2 0h1m10 0h2m12 0h2m1 0h2M212.7 479.03h2m16 0h1m1 0h1m4 0h1m1 0h3m9 0h2m17 0h1m21 0h1m2 0h1m4 0h1M207.7 481.66h1m13 0h3m7 0h4m13 0h2m16 0h2m9 0h4m20 0h2m3 0h2M193.7 484.29h1m5 0h1m17 0h3m1 0h3m4 0h1m4 0h1m11 0h1m47 0h5m5 0h1m3 0h3" stroke="#1a1a1a" stroke-width="1.5" fill="none"/>
<path d="M199.7 400.48h1m12 0h3m17 0h1m5 0h1m5 0h1m26 0h3m2 0h2m2 0h2m1 0h2m14 0h1m1 0h2M194.7 403.11h1m4 0h1m5 0h2m8 0h1m9 0h1m11 0h2m22 0h1m9 0h4M201.7 405.74h4m30 0h4m2 0h1m25 0h2m6 0h1m16 0h1M202.7 408.37h4m8 0h3m4 0h1m1 0h1m15 0h1m44 0h4m3 0h1m1 0h3m5 0h1M208.7 411.00h1m18 0h1m9 0h1m66 0h1M202.7 413.63h1m5 0h1m22 0h2m41 0h3m12 0h1M209.7 416.26h2m2 0h5m5 0h4m6 0h2m75 0h1M206.7 418.89h2m26 0h1M213.7 421.52h2m1 0h2m18 0h2m37 0h1m2 0h1m8 0h2M205.7 424.15h4m28 0h3m15 0h1m19 0h2m3 0h3m3 0h2m16 0h1M210.7 426.78h2m7 0h1m19 0h1m10 0h1m14 0h1m14 0h2m20 0h3M218.7 429.41h2m3 0h1m36 0h1m11 0h3m8 0h1m8 0h2M227.7 432.04h1m9 0h4m38 0h2m17 0h1M196.7 434.67h1m6 0h1m10 0h1m7 0h1m7 0h4m47 0h3m11 0h1m15 0h1M209.7 437.30h3m8 0h1m5 0h1m13 0h1m2 0h1m34 0h1m3 0h2M206.7 439.93h2m4 0h1m15 0h2m69 0h2m5 0h1M211.7 442.56h4m13 0h6m5 0h2m7 0h2m7 0h1m20 0h1m14 0h2m5 0h1m2 0h2M212.7 445.19h3m67 0h2m7 0h2m9 0h1M197.7 447.82h1m14 0h1m5 0h3m12 0h1m6 0h1m32 0h1m30 0h1M214.7 450.45h1m12 0h2m6 0h1m5 0h2m30 0h2m9 0h1M217.7 453.08h2m8 0h2m7 0h1m25 0h2m6 0h3m5 0h2m5 0h1m17 0h1M220.7 455.71h1m13 0h2m6 0h2M207.7 458.34h1m1 0h6m24 0h1M228.7 460.97h1m4 0h2m2 0h1m2 0h1m50 0h1m7 0h1M208.7 463.60h4m16 0h1m75 0h2m1 0h1m1 0h1M214.7 466.23h2m15 0h1m1 0h1m30 0h1m34 0h1M210.7 468.86h2m17 0h1m4 0h1m10 0h2m2 0h2m30 0h1m2 0h3m13 0h1M217.7 471.49h1m1 0h1m28 0h1m23 0h6M241.7 474.12h1m10 0h1M196.7 476.75h1m20 0h1m64 0h6m3 0h1m1 0h2m9 0h3M220.7 479.38h1m2 0h2m21 0h1m30 0h3m3 0h5m8 0h1m8 0h1m1 0h2M211.7 482.01h1m3 0h6m6 0h3m5 0h1m49 0h4m8 0h4m2 0h3M206.7 484.64h2m16 0h2m13 0h3m1 0h1m3 0h1m10 0h2m14 0h1m1 0h3m1 0h3" stroke="#444" stroke-width="0.8" fill="none"/>
<text transform="translate(337.60,264.90) scale(1.0,1.07)" font-size="12.6" text-anchor="start" font-weight="normal" fill="#000" stroke="#000" stroke-width="0.18"  >CT6</text>
<rect x="337.5" y="266.3" width="25.3" height="1.3" fill="#333"/>
<text transform="translate(403.20,274.40) scale(1.0,0.93)" font-size="11.5" text-anchor="middle" font-weight="normal" fill="#000" stroke="#000" stroke-width="0.18"  >Time (h)</text>
<text transform="translate(340.40,285.40) scale(1.0,0.93)" font-size="11.3" text-anchor="middle" font-weight="normal" fill="#000" stroke="#000" stroke-width="0.18"  >0</text>
<rect x="339.9" y="286.7" width="1" height="2" fill="#222"/>
<g transform="translate(371.80,285.40) scale(1.0,0.93)" fill="#000" stroke="#000" stroke-width="0.18"><text x="-6.28" y="0" font-size="11.3" font-weight="normal"  > 2</text><path d="M763 0 L583 0 L583 -1102 Q518 -1042 412 -983 Q306 -924 223 -894 L223 -1061 Q372 -1128 484 -1224 Q596 -1320 643 -1409 L763 -1409 Z" stroke-width="33" transform="translate(-6.28,0) scale(0.00552)"/></g>
<rect x="371.29999999999995" y="286.7" width="1" height="2" fill="#222"/>
<text transform="translate(403.20,285.40) scale(1.0,0.93)" font-size="11.3" text-anchor="middle" font-weight="normal" fill="#000" stroke="#000" stroke-width="0.18"  >0</text>
<rect x="402.7" y="286.7" width="1" height="2" fill="#222"/>
<g transform="translate(434.60,285.40) scale(1.0,0.93)" fill="#000" stroke="#000" stroke-width="0.18"><text x="-6.28" y="0" font-size="11.3" font-weight="normal"  > 2</text><path d="M763 0 L583 0 L583 -1102 Q518 -1042 412 -983 Q306 -924 223 -894 L223 -1061 Q372 -1128 484 -1224 Q596 -1320 643 -1409 L763 -1409 Z" stroke-width="33" transform="translate(-6.28,0) scale(0.00552)"/></g>
<rect x="434.09999999999997" y="286.7" width="1" height="2" fill="#222"/>
<text transform="translate(466.00,285.40) scale(1.0,0.93)" font-size="11.3" text-anchor="middle" font-weight="normal" fill="#000" stroke="#000" stroke-width="0.18"  >0</text>
<rect x="465.5" y="286.7" width="1" height="2" fill="#222"/>
<rect x="340.4" y="288.7" width="125.6" height="3.4" fill="#5a5a5a"/>
<g transform="translate(337.70,298.30) scale(1.0,1.07)" fill="#000" stroke="#000" stroke-width="0.18"><text x="-6.28" y="0" font-size="11.3" font-weight="normal"  > </text><path d="M763 0 L583 0 L583 -1102 Q518 -1042 412 -983 Q306 -924 223 -894 L223 -1061 Q372 -1128 484 -1224 Q596 -1320 643 -1409 L763 -1409 Z" stroke-width="33" transform="translate(-6.28,0) scale(0.00552)"/></g>
<rect x="338.2" y="293.70000000000005" width="1.6" height="0.8" fill="#444"/>
<text transform="translate(337.70,314.08) scale(1.0,1.07)" font-size="11.3" text-anchor="end" font-weight="normal" fill="#000" stroke="#000" stroke-width="0.18"  >7</text>
<rect x="338.2" y="309.48" width="1.6" height="0.8" fill="#444"/>
<g transform="translate(337.70,332.49) scale(1.0,1.07)" fill="#000" stroke="#000" stroke-width="0.18"><text x="-12.57" y="0" font-size="11.3" font-weight="normal"  > 4</text><path d="M763 0 L583 0 L583 -1102 Q518 -1042 412 -983 Q306 -924 223 -894 L223 -1061 Q372 -1128 484 -1224 Q596 -1320 643 -1409 L763 -1409 Z" stroke-width="33" transform="translate(-12.57,0) scale(0.00552)"/></g>
<rect x="338.2" y="327.89000000000004" width="1.6" height="0.8" fill="#444"/>
<g transform="translate(337.70,350.90) scale(1.0,1.07)" fill="#000" stroke="#000" stroke-width="0.18"><text x="-12.57" y="0" font-size="11.3" font-weight="normal"  >2 </text><path d="M763 0 L583 0 L583 -1102 Q518 -1042 412 -983 Q306 -924 223 -894 L223 -1061 Q372 -1128 484 -1224 Q596 -1320 643 -1409 L763 -1409 Z" stroke-width="33" transform="translate(-6.28,0) scale(0.00552)"/></g>
<rect x="338.2" y="346.30000000000007" width="1.6" height="0.8" fill="#444"/>
<text transform="translate(337.70,369.31) scale(1.0,1.07)" font-size="11.3" text-anchor="end" font-weight="normal" fill="#000" stroke="#000" stroke-width="0.18"  >28</text>
<rect x="338.2" y="364.71000000000004" width="1.6" height="0.8" fill="#444"/>
<line x1="378.9" y1="292.3" x2="368.2" y2="328.2" stroke="#e6000e" stroke-width="2.9"/>
<line x1="365.7" y1="336.7" x2="347.9" y2="378.20000000000005" stroke="#e6000e" stroke-width="2.9"/>
<path d="M341.4 293.63h1m1 0h1m6 0h1m26 0h1m1 0h3m1 0h4m2 0h2m4 0h2m1 0h2m2 0h2m4 0h1m1 0h3m12 0h1m5 0h2m7 0h2m1 0h2m2 0h2m1 0h2m3 0h1m1 0h2m6 0h0.6M340.4 296.26h1m5 0h1m4 0h2m1 0h1m23 0h6m2 0h2m1 0h1m7 0h3m2 0h1m2 0h2m1 0h1m16 0h1m14 0h1m2 0h3m4 0h2m3 0h1M340.4 298.89h1m30 0h1m7 0h2m3 0h2m3 0h2m17 0h2m29 0h3m1 0h4m1 0h3m1 0h1m2 0h2m4 0h1M342.4 301.52h1m2 0h1m1 0h1m22 0h1m7 0h6m4 0h1m2 0h2m28 0h1m14 0h3m3 0h2m2 0h1m1 0h1m7 0h2m1 0h2M340.4 304.15h1m3 0h1m11 0h1m22 0h2m1 0h1m3 0h1m4 0h5m1 0h1m1 0h2m11 0h2m28 0h4m3 0h1m3 0h1m1 0h3m1 0h1m1 0h1M340.4 306.78h1m3 0h1m1 0h1m30 0h8m1 0h1m3 0h2m1 0h2m3 0h1m5 0h1m26 0h1m6 0h3m1 0h6m5 0h2m3 0h3m1 0h1M348.4 309.41h1m8 0h1m6 0h1m8 0h2m7 0h2m6 0h1m5 0h2m11 0h1m13 0h1m10 0h2m2 0h1m1 0h1m4 0h4m9 0h1M341.4 312.04h1m5 0h1m10 0h1m24 0h1m1 0h1m3 0h2m1 0h2m5 0h1m9 0h2m23 0h5m4 0h1m5 0h1m6 0h1m1 0h1M347.4 314.67h1m29 0h3m9 0h1m1 0h1m47 0h1m5 0h3m6 0h1m1 0h1m1 0h1m1 0h1m4 0h0.6M356.4 317.30h1m20 0h2m5 0h1m4 0h1m1 0h3m1 0h1m5 0h2m18 0h1m12 0h1m8 0h2m1 0h2m3 0h2m12 0h0.6M358.4 319.93h1m7 0h1m4 0h2m1 0h3m3 0h1m1 0h3m14 0h1m2 0h1m22 0h1m10 0h4m1 0h1m1 0h3m3 0h2m11 0h1m1 0h1.6M341.4 322.56h2m27 0h7m7 0h1m3 0h1m2 0h1m1 0h2m2 0h3m1 0h1m20 0h2m5 0h1m2 0h1m1 0h6m5 0h1m4 0h1m11 0h1M348.4 325.19h1m5 0h2m12 0h1m4 0h1m4 0h1m1 0h4m4 0h1m5 0h1m5 0h2m18 0h2m15 0h1m1 0h2m2 0h2m1 0h1m2 0h4m7 0h1M356.4 327.82h1m5 0h1m8 0h1m4 0h3m1 0h1m1 0h1m1 0h2m1 0h2m8 0h3m14 0h1m23 0h6m2 0h1m4 0h3m1 0h1m5 0h1m3 0h0.6M351.4 330.45h1m5 0h2m9 0h4m1 0h1m1 0h2m2 0h1m1 0h1m13 0h1m32 0h1m7 0h1m4 0h3m9 0h1m1 0h1m1 0h1m2 0h1M342.4 333.08h1m6 0h1m14 0h2m2 0h1m3 0h1m3 0h2m1 0h2m8 0h1m3 0h1m28 0h1m8 0h3m3 0h4m7 0h2m3 0h1m5 0h1M344.4 335.71h1m21 0h1m1 0h2m3 0h2m10 0h1m1 0h1m2 0h2m4 0h1m9 0h1m19 0h2m5 0h3m1 0h1m7 0h1m7 0h1m2 0h1M374.4 338.34h3m6 0h2m6 0h3m10 0h3m4 0h1m6 0h1m10 0h1m1 0h3m1 0h3m1 0h1m7 0h2m5 0h2m1 0h1m5 0h1M341.4 340.97h1m11 0h1m5 0h1m17 0h2m21 0h1m29 0h5m3 0h1m4 0h1m1 0h3m3 0h2m3 0h1M363.4 343.60h1m7 0h5m11 0h1m11 0h2m21 0h1m4 0h3m6 0h2m2 0h1m3 0h2m8 0h1m1 0h1M365.4 346.23h3m2 0h5m5 0h2m37 0h1m6 0h4m3 0h3m16 0h2M353.4 348.86h1m8 0h5m2 0h1m1 0h1m5 0h1m2 0h2m10 0h1m5 0h1m1 0h2m15 0h2m7 0h1m1 0h1m1 0h2m3 0h2m8 0h3m4 0h4M348.4 351.49h1m6 0h1m3 0h2m6 0h2m1 0h2m4 0h3m6 0h4m24 0h1m2 0h1m3 0h5m11 0h1m5 0h4m3 0h1m4 0h1M340.4 354.12h2m8 0h1m7 0h3m1 0h2m1 0h1m6 0h1m3 0h1m2 0h1m2 0h2m1 0h1m3 0h1m1 0h1m30 0h2m1 0h1m1 0h1m1 0h1m1 0h1m6 0h1m6 0h1m1 0h1m1 0h3M347.4 356.75h3m13 0h1m3 0h1m1 0h1m5 0h2m1 0h2m7 0h1m31 0h1m7 0h2m8 0h1m6 0h2m1 0h1m1 0h1M340.4 359.38h1m12 0h1m3 0h3m1 0h3m1 0h3m2 0h3m9 0h5m1 0h3m12 0h1m18 0h1m2 0h1m1 0h2m3 0h2m2 0h3m11 0h1M340.4 362.01h1m10 0h1m3 0h1m1 0h1m1 0h3m5 0h1m1 0h2m38 0h2m13 0h1m1 0h4m6 0h1m5 0h2m6 0h1m13 0h1.6M351.4 364.64h1m3 0h3m5 0h3m2 0h2m5 0h1m7 0h2m3 0h1m23 0h1m3 0h3m5 0h2m9 0h1m2 0h1m3 0h3m6 0h2m1 0h1M341.4 367.27h1m6 0h1m3 0h3m6 0h3m3 0h3m7 0h1m1 0h1m4 0h1m9 0h1m18 0h2m1 0h3m4 0h3m1 0h1m1 0h2m7 0h1m1 0h2m8 0h2m4 0h1M342.4 369.90h1m4 0h1m4 0h1m2 0h4m1 0h2m2 0h1m10 0h4m5 0h3m1 0h3m13 0h1m12 0h4m4 0h1m2 0h2m2 0h1m11 0h1m1 0h1m2 0h2m5 0h1m4 0h1m2 0h1M353.4 372.53h1m3 0h2m8 0h1m6 0h7m8 0h1m3 0h2m9 0h1m6 0h1m2 0h7m3 0h2m1 0h1m6 0h1m1 0h1m1 0h1m1 0h4m2 0h1M343.4 375.16h1m7 0h4m1 0h1m1 0h3m4 0h3m3 0h1m2 0h2m1 0h1m1 0h2m1 0h1m9 0h1m10 0h2m6 0h2m1 0h1m10 0h1m1 0h3m3 0h1M341.4 377.79h1m6 0h3m5 0h1m1 0h1m1 0h1m1 0h4m11 0h1m1 0h3m6 0h1m18 0h1m2 0h1m3 0h2m5 0h4m1 0h1m1 0h2m4 0h2m1 0h1m2 0h2m1 0h2m1 0h3m2 0h1" stroke="#000" stroke-width="2.3" fill="none"/>
<path d="M344.4 294.03h3m1 0h2m4 0h1m8 0h2m23 0h1M362.4 296.66h1m22 0h1m7 0h3m27 0h1m23 0h2M346.4 299.29h1m8 0h1m2 0h1m23 0h2m3 0h1m6 0h2m3 0h2m2 0h2m32 0h1m16 0h1m3 0h1M340.4 301.92h1m15 0h1m19 0h2m7 0h2m7 0h1m1 0h1m5 0h2m20 0h1m14 0h1m5 0h1M342.4 304.55h2m6 0h1m24 0h2m29 0h2m12 0h1m10 0h1m4 0h5m5 0h2m15 0h2M342.4 307.18h1m31 0h2m37 0h1m4 0h1m1 0h1m15 0h1m19 0h1M344.4 309.81h2m1 0h1m30 0h4m2 0h1m13 0h1m1 0h1m6 0h1m34 0h2m12 0h2m2 0h2M344.4 312.44h2m28 0h3m1 0h1m18 0h1m7 0h1m19 0h1m14 0h2m4 0h2m4 0h2m9 0h1M342.4 315.07h1m1 0h1m49 0h1m4 0h1m2 0h3m4 0h1m23 0h4m4 0h4m5 0h3M372.4 317.70h2m23 0h1m1 0h1m8 0h1m28 0h5m12 0h1m1 0h1m1 0h1m3 0h2M342.4 320.33h1m11 0h1m23 0h2m8 0h4m2 0h2m9 0h1m11 0h1m15 0h3m15 0h2m6 0h2M361.4 322.96h1m4 0h1m10 0h2m16 0h1m8 0h1m14 0h2m20 0h4m7 0h1m3 0h6M364.4 325.59h2m9 0h2m9 0h1m3 0h4m2 0h2m7 0h1m11 0h1m13 0h2m1 0h2m18 0h2m1 0h1M366.4 328.22h1m3 0h1m1 0h4m15 0h1m27 0h1m10 0h3m15 0h2M343.4 330.85h1m22 0h1m11 0h1m9 0h4m5 0h1m17 0h1m4 0h1m24 0h1m1 0h1m1 0h1m1 0h1M360.4 333.48h1m6 0h1m2 0h1m3 0h1m9 0h1m2 0h1m3 0h1m4 0h1m31 0h2m20 0h2m3 0h1M340.4 336.11h1m29 0h3m2 0h1m1 0h1m6 0h1m3 0h2m3 0h2m17 0h2m14 0h1m2 0h1m11 0h1M363.4 338.74h3m1 0h2m1 0h1m1 0h2m7 0h1m7 0h1m36 0h2m17 0h1m4 0h1M355.4 341.37h1m27 0h4m1 0h2m27 0h1m10 0h2m6 0h1m12 0h1M345.4 344.00h1m19 0h1m12 0h2m2 0h1m5 0h1m13 0h1m7 0h2m12 0h2m6 0h4m6 0h1m4 0h1m3 0h1m1 0h1M386.4 346.63h1m1 0h2m4 0h1m15 0h1m20 0h1m4 0h2m7 0h2m1 0h3m5 0h1M373.4 349.26h1m9 0h4m35 0h3m14 0h1m2 0h2m5 0h2M362.4 351.89h4m7 0h1m6 0h4m5 0h1m4 0h2m4 0h3m6 0h1m16 0h3m1 0h2m15 0h1m3 0h1m5 0h2M368.4 354.52h1m6 0h1m11 0h1m21 0h1m11 0h1m11 0h4m4 0h1M340.4 357.15h1m15 0h1m8 0h1m15 0h2m32 0h2m8 0h1m4 0h2m1 0h3m6 0h2m7 0h1m2 0h1m7 0h2m1 0h0.6M355.4 359.78h2m20 0h1m1 0h2m39 0h1m13 0h2m4 0h2m3 0h1M349.4 362.41h1m13 0h1m21 0h1m1 0h1m27 0h1m1 0h2m11 0h2m6 0h3m4 0h1m12 0h1m1 0h1M361.4 365.04h2m14 0h1m8 0h1m13 0h1m13 0h1m6 0h2m3 0h1m2 0h3m8 0h1m5 0h1m1 0h2M344.4 367.67h1m10 0h2m1 0h2m4 0h3m14 0h2m4 0h1m1 0h1m31 0h1m21 0h2M362.4 370.30h2m18 0h1m12 0h1m16 0h5m4 0h1m9 0h1m10 0h1M342.4 372.93h3m6 0h1m7 0h5m1 0h1m2 0h2m15 0h1m43 0h3m16 0h1m1 0h1m13 0h1M347.4 375.56h1m1 0h2m22 0h1m10 0h2m29 0h1m1 0h4m18 0h1m1 0h6m1 0h1M352.4 378.19h3m18 0h3m8 0h3m25 0h1m4 0h4" stroke="#1a1a1a" stroke-width="1.5" fill="none"/>
<path d="M366.4 294.38h1m26 0h1m28 0h2m21 0h2m17 0h1M391.4 297.01h1m9 0h1m56 0h2m1 0h3M342.4 299.64h1m34 0h1m13 0h2m4 0h1m65 0h1M398.4 302.27h1m15 0h1m39 0h1M346.4 304.90h1m2 0h1m10 0h1m17 0h1m5 0h1m29 0h1m14 0h1M359.4 307.53h1m7 0h1m28 0h1m4 0h2M341.4 310.16h3m32 0h1m8 0h1m6 0h2m11 0h1m46 0h1m1 0h1M380.4 312.79h2m13 0h1m22 0h1m40 0h1m1 0h1M340.4 315.42h1m34 0h2m5 0h2m54 0h1m23 0h1M341.4 318.05h1m26 0h2m5 0h2m4 0h2M454.4 320.68h2M352.4 323.31h1m2 0h1m24 0h4m6 0h1m63 0h1M370.4 325.94h3M368.4 328.57h2m24 0h2m21 0h1m15 0h1m1 0h3M386.4 331.20h1m6 0h1m18 0h1m9 0h1m7 0h3m1 0h1m3 0h2M381.4 333.83h1m3 0h1m48 0h2m6 0h1m2 0h1M379.4 336.46h1m59 0h1m1 0h2m4 0h1m1 0h2M356.4 339.09h2m19 0h1m8 0h2m19 0h2m31 0h1m11 0h1M364.4 341.72h3m1 0h7m16 0h1m34 0h2m26 0h1M367.4 344.35h2m1 0h1m13 0h2m4 0h1m23 0h1m15 0h1m18 0h1M362.4 346.98h2m4 0h1m7 0h1m6 0h2m38 0h3m15 0h2M361.4 349.61h1m13 0h2m11 0h3m29 0h1m11 0h2m3 0h1M433.4 352.24h2M366.4 354.87h1m3 0h2m22 0h1m48 0h1m17 0h1m1 0h1M342.4 357.50h1m16 0h3m9 0h3m10 0h2m3 0h3m11 0h1m16 0h4m8 0h1m7 0h2M412.4 360.13h1m4 0h2m11 0h1m12 0h1m4 0h2m3 0h1M365.4 362.76h2m10 0h2m1 0h1m1 0h3m4 0h1m30 0h3m10 0h1m13 0h2M353.4 365.39h1m4 0h2m10 0h1m1 0h2m6 0h2m37 0h2m6 0h1M357.4 368.02h1m16 0h1m1 0h1m24 0h2m28 0h2m13 0h3M353.4 370.65h1m12 0h4m10 0h1m12 0h1m14 0h2m13 0h2m1 0h1m10 0h3m8 0h1M354.4 373.28h2m8 0h1m17 0h1m39 0h1m21 0h1M361.4 375.91h3m58 0h2m12 0h2M344.4 378.54h1m6 0h1m87 0h1" stroke="#444" stroke-width="0.8" fill="none"/>
<text transform="translate(340.40,391.50) scale(1.0,0.93)" font-size="11.3" text-anchor="middle" font-weight="normal" fill="#000" stroke="#000" stroke-width="0.18"  >0</text>
<rect x="339.9" y="392.79999999999995" width="1" height="2" fill="#222"/>
<g transform="translate(371.80,391.50) scale(1.0,0.93)" fill="#000" stroke="#000" stroke-width="0.18"><text x="-6.28" y="0" font-size="11.3" font-weight="normal"  > 2</text><path d="M763 0 L583 0 L583 -1102 Q518 -1042 412 -983 Q306 -924 223 -894 L223 -1061 Q372 -1128 484 -1224 Q596 -1320 643 -1409 L763 -1409 Z" stroke-width="33" transform="translate(-6.28,0) scale(0.00552)"/></g>
<rect x="371.29999999999995" y="392.79999999999995" width="1" height="2" fill="#222"/>
<text transform="translate(403.20,391.50) scale(1.0,0.93)" font-size="11.3" text-anchor="middle" font-weight="normal" fill="#000" stroke="#000" stroke-width="0.18"  >0</text>
<rect x="402.7" y="392.79999999999995" width="1" height="2" fill="#222"/>
<g transform="translate(434.60,391.50) scale(1.0,0.93)" fill="#000" stroke="#000" stroke-width="0.18"><text x="-6.28" y="0" font-size="11.3" font-weight="normal"  > 2</text><path d="M763 0 L583 0 L583 -1102 Q518 -1042 412 -983 Q306 -924 223 -894 L223 -1061 Q372 -1128 484 -1224 Q596 -1320 643 -1409 L763 -1409 Z" stroke-width="33" transform="translate(-6.28,0) scale(0.00552)"/></g>
<rect x="434.09999999999997" y="392.79999999999995" width="1" height="2" fill="#222"/>
<text transform="translate(466.00,391.50) scale(1.0,0.93)" font-size="11.3" text-anchor="middle" font-weight="normal" fill="#000" stroke="#000" stroke-width="0.18"  >0</text>
<rect x="465.5" y="392.79999999999995" width="1" height="2" fill="#222"/>
<rect x="340.4" y="394.79999999999995" width="125.6" height="3.4" fill="#5a5a5a"/>
<g transform="translate(337.70,404.40) scale(1.0,1.07)" fill="#000" stroke="#000" stroke-width="0.18"><text x="-6.28" y="0" font-size="11.3" font-weight="normal"  > </text><path d="M763 0 L583 0 L583 -1102 Q518 -1042 412 -983 Q306 -924 223 -894 L223 -1061 Q372 -1128 484 -1224 Q596 -1320 643 -1409 L763 -1409 Z" stroke-width="33" transform="translate(-6.28,0) scale(0.00552)"/></g>
<rect x="338.2" y="399.8" width="1.6" height="0.8" fill="#444"/>
<text transform="translate(337.70,420.18) scale(1.0,1.07)" font-size="11.3" text-anchor="end" font-weight="normal" fill="#000" stroke="#000" stroke-width="0.18"  >7</text>
<rect x="338.2" y="415.58" width="1.6" height="0.8" fill="#444"/>
<g transform="translate(337.70,438.59) scale(1.0,1.07)" fill="#000" stroke="#000" stroke-width="0.18"><text x="-12.57" y="0" font-size="11.3" font-weight="normal"  > 4</text><path d="M763 0 L583 0 L583 -1102 Q518 -1042 412 -983 Q306 -924 223 -894 L223 -1061 Q372 -1128 484 -1224 Q596 -1320 643 -1409 L763 -1409 Z" stroke-width="33" transform="translate(-12.57,0) scale(0.00552)"/></g>
<rect x="338.2" y="433.99" width="1.6" height="0.8" fill="#444"/>
<g transform="translate(337.70,457.00) scale(1.0,1.07)" fill="#000" stroke="#000" stroke-width="0.18"><text x="-12.57" y="0" font-size="11.3" font-weight="normal"  >2 </text><path d="M763 0 L583 0 L583 -1102 Q518 -1042 412 -983 Q306 -924 223 -894 L223 -1061 Q372 -1128 484 -1224 Q596 -1320 643 -1409 L763 -1409 Z" stroke-width="33" transform="translate(-6.28,0) scale(0.00552)"/></g>
<rect x="338.2" y="452.4" width="1.6" height="0.8" fill="#444"/>
<text transform="translate(337.70,475.41) scale(1.0,1.07)" font-size="11.3" text-anchor="end" font-weight="normal" fill="#000" stroke="#000" stroke-width="0.18"  >28</text>
<rect x="338.2" y="470.81" width="1.6" height="0.8" fill="#444"/>
<line x1="352.4" y1="398.4" x2="358.2" y2="433.79999999999995" stroke="#e6000e" stroke-width="2.9"/>
<line x1="360.09999999999997" y1="443.4" x2="368.79999999999995" y2="483.9" stroke="#e6000e" stroke-width="2.9"/>
<path d="M349.4 399.73h1m16 0h1m12 0h1m9 0h3m4 0h1m17 0h1m3 0h4m2 0h8m11 0h2m4 0h3m1 0h4m3 0h1M342.4 402.36h2m9 0h7m6 0h2m1 0h3m9 0h1m1 0h2m1 0h1m1 0h1m10 0h1m8 0h1m9 0h1m3 0h1m1 0h3m5 0h1m6 0h3m9 0h1m1 0h1m1 0h1M343.4 404.99h1m8 0h1m1 0h5m4 0h8m10 0h3m1 0h3m3 0h3m9 0h2m15 0h1m1 0h3m1 0h4m3 0h1m7 0h2m1 0h2m4 0h3m6 0h1M350.4 407.62h1m2 0h3m3 0h5m28 0h1m1 0h1m2 0h1m3 0h4m2 0h2m12 0h4m4 0h6m4 0h1m2 0h1m5 0h1m2 0h4m1 0h1m5 0h1M353.4 410.25h4m2 0h3m1 0h8m11 0h1m6 0h2m1 0h1m8 0h1m2 0h1m7 0h2m11 0h2m3 0h2m1 0h2m6 0h3m1 0h1m3 0h2m3 0h4M361.4 412.88h3m1 0h2m4 0h1m11 0h5m1 0h1m26 0h1m1 0h5m4 0h2m11 0h1m1 0h3m1 0h3m1 0h1M350.4 415.51h1m7 0h6m2 0h2m2 0h2m2 0h1m11 0h1m1 0h2m21 0h1m5 0h2m1 0h2m6 0h4m1 0h2m4 0h1m5 0h1m10 0h1m1 0h2M346.4 418.14h1m16 0h3m18 0h1m1 0h1m1 0h1m3 0h1m13 0h1m6 0h1m3 0h2m2 0h4m3 0h2m1 0h2m1 0h3m2 0h1m2 0h1m1 0h3m1 0h1m1 0h2m5 0h1M348.4 420.77h2m5 0h1m6 0h4m3 0h2m4 0h1m5 0h1m1 0h1m1 0h1m1 0h5m27 0h1m4 0h3m5 0h2m2 0h1m17 0h2M341.4 423.40h1m17 0h3m4 0h2m1 0h1m1 0h3m8 0h5m1 0h4m3 0h1m12 0h1m11 0h5m10 0h1m8 0h1m11 0h2m2 0h3M366.4 426.03h1m6 0h1m14 0h2m8 0h2m3 0h1m17 0h3m1 0h2m1 0h1m2 0h4m8 0h2m1 0h2m1 0h1m2 0h3m1 0h1M343.4 428.66h2m1 0h1m9 0h3m1 0h1m4 0h1m5 0h1m11 0h1m6 0h1m1 0h1m28 0h5m1 0h4m2 0h1m1 0h2m12 0h5m1 0h1m1 0h2M348.4 431.29h2m2 0h1m11 0h1m1 0h1m1 0h1m1 0h2m21 0h1m9 0h3m3 0h1m10 0h6m2 0h2m1 0h3m12 0h1m4 0h1m3 0h2m1 0h2M351.4 433.92h1m5 0h3m3 0h1m1 0h3m4 0h3m17 0h2m1 0h2m12 0h1m1 0h2m7 0h2m4 0h4m16 0h1m1 0h3m1 0h1m3 0h1m1 0h2M345.4 436.55h1m1 0h1m11 0h3m4 0h3m3 0h3m9 0h4m6 0h1m1 0h1m24 0h2m2 0h3m7 0h1m1 0h2m6 0h4m6 0h1M359.4 439.18h3m6 0h2m8 0h1m3 0h1m1 0h1m3 0h1m1 0h3m8 0h1m13 0h1m7 0h3m4 0h1m1 0h3m3 0h1m8 0h1M344.4 441.81h1m4 0h1m10 0h4m1 0h2m1 0h1m1 0h1m3 0h2m8 0h4m1 0h3m18 0h1m11 0h2m3 0h1m1 0h3m2 0h5m7 0h3m7 0h4M364.4 444.44h2m3 0h4m3 0h1m6 0h1m3 0h1m1 0h2m2 0h2m8 0h1m2 0h1m4 0h1m15 0h4m1 0h4m10 0h2m8 0h1m1 0h2m2 0h1M361.4 447.07h3m2 0h1m6 0h1m2 0h1m6 0h4m6 0h1m1 0h1m3 0h1m3 0h1m12 0h1m1 0h1m5 0h7m3 0h2m1 0h3m9 0h3m1 0h1m1 0h2M360.4 449.70h5m4 0h5m1 0h1m1 0h1m6 0h3m1 0h1m2 0h1m30 0h1m1 0h10m4 0h2m8 0h1m2 0h1m1 0h3m2 0h1m4 0h1M354.4 452.33h2m6 0h2m5 0h3m13 0h2m1 0h1m1 0h1m1 0h2m4 0h1m12 0h1m3 0h1m15 0h6m3 0h1m6 0h2m2 0h1m3 0h2M351.4 454.96h2m10 0h2m1 0h2m1 0h2m3 0h3m1 0h2m4 0h1m3 0h2m1 0h1m1 0h1m3 0h1m2 0h1m21 0h1m2 0h2m1 0h3m3 0h2m3 0h4m5 0h8M342.4 457.59h1m20 0h9m13 0h2m4 0h1m1 0h1m1 0h1m1 0h1m12 0h1m16 0h1m1 0h2m5 0h6m5 0h3m4 0h2m3 0h1m1 0h1m3 0h0.6M347.4 460.22h2m3 0h1m10 0h2m1 0h1m16 0h1m1 0h4m8 0h4m12 0h3m11 0h1m7 0h3m12 0h3m5 0h2M350.4 462.85h1m1 0h3m8 0h3m8 0h2m1 0h3m1 0h2m23 0h1m16 0h1m4 0h2m1 0h3m8 0h1m2 0h1m3 0h2m1 0h3m1 0h2m5 0h2M345.4 465.48h1m19 0h2m3 0h1m1 0h3m1 0h2m1 0h2m7 0h2m1 0h3m3 0h1m1 0h1m13 0h1m20 0h1m4 0h3m3 0h2m2 0h5m1 0h2M342.4 468.11h1m8 0h1m5 0h2m5 0h1m4 0h1m3 0h3m1 0h2m7 0h1m2 0h1m8 0h1m7 0h1m20 0h1m4 0h6m1 0h2m1 0h2m6 0h1m1 0h3m1 0h1m1 0h1m6 0h0.6M347.4 470.74h1m4 0h1m1 0h1m8 0h1m2 0h7m1 0h1m4 0h1m2 0h2m3 0h2m6 0h1m3 0h1m3 0h1m6 0h2m18 0h2m7 0h4m1 0h2m4 0h1m6 0h7M345.4 473.37h1m5 0h1m23 0h1m2 0h1m8 0h1m3 0h2m1 0h3m1 0h1m13 0h3m11 0h1m1 0h1m9 0h1m4 0h1m6 0h1m1 0h3m5 0h1m1 0h1M355.4 476.00h1m10 0h5m2 0h1m4 0h2m1 0h1m6 0h1m12 0h1m17 0h1m9 0h5m2 0h8m5 0h1m7 0h1m1 0h5M368.4 478.63h3m8 0h4m5 0h1m3 0h1m7 0h1m21 0h2m5 0h1m1 0h2m2 0h1m6 0h4m12 0h2m1 0h1m1 0h1M347.4 481.26h1m4 0h1m3 0h1m6 0h2m2 0h3m7 0h1m2 0h1m1 0h1m4 0h2m1 0h1m7 0h2m1 0h2m1 0h1m20 0h1m2 0h1m7 0h4m12 0h2m5 0h4M342.4 483.89h1m28 0h2m6 0h4m9 0h1m7 0h3m9 0h3m20 0h3m7 0h1m6 0h1m2 0h2m3 0h2m3 0h0.6" stroke="#000" stroke-width="2.3" fill="none"/>
<path d="M351.4 400.13h3m1 0h5m3 0h3m11 0h2m1 0h3m4 0h1m28 0h1m5 0h1m17 0h2M394.4 402.76h1m24 0h2m35 0h3M345.4 405.39h2m25 0h2m3 0h1m1 0h1m9 0h1m26 0h3m11 0h2m22 0h3M366.4 408.02h4m8 0h2m1 0h7m22 0h1m6 0h3m23 0h3m3 0h1M340.4 410.65h1m16 0h1m16 0h1m9 0h2m41 0h2m17 0h2M346.4 413.28h1m6 0h1m1 0h6m7 0h2m21 0h2m32 0h2m36 0h1M343.4 415.91h3m5 0h1m3 0h3m6 0h1m13 0h4m1 0h1m42 0h2m19 0h1m3 0h4M357.4 418.54h1m9 0h1m2 0h3m6 0h1m1 0h1m1 0h1m43 0h1M405.4 421.17h2m5 0h1m8 0h2m7 0h1m4 0h1m7 0h2m2 0h2m2 0h2M356.4 423.80h2m7 0h1m14 0h1m11 0h3m17 0h1m12 0h9m12 0h2m1 0h4m1 0h1M340.4 426.43h3m4 0h2m8 0h8m15 0h1m4 0h1m6 0h1m21 0h1m4 0h2m9 0h1m5 0h1m1 0h1m11 0h1m7 0h1M362.4 429.06h2m2 0h4m3 0h1m33 0h1m11 0h1m12 0h1m11 0h4M373.4 431.69h1m7 0h1m1 0h1m3 0h3m1 0h2m4 0h1m28 0h1m8 0h2m10 0h1m14 0h1M348.4 434.32h1m11 0h2m17 0h2m1 0h2m5 0h2m23 0h1m8 0h2m8 0h3m1 0h2m4 0h2m9 0h1M363.4 436.95h1m11 0h1m13 0h1m1 0h2m30 0h1m6 0h4m8 0h2m12 0h4M365.4 439.58h2m8 0h1m10 0h1m9 0h1m1 0h1m14 0h2m6 0h1m4 0h3m10 0h3m7 0h2m6 0h3M346.4 442.21h1m17 0h1m28 0h1m1 0h1m18 0h2m10 0h1m23 0h2m1 0h3M342.4 444.84h1m17 0h1m5 0h2m5 0h1m11 0h1m11 0h1m28 0h1m22 0h3M351.4 447.47h2m6 0h1m7 0h1m39 0h1m2 0h1m36 0h2m9 0h2m2 0h1M393.4 450.10h1m4 0h2m60 0h1M368.4 452.73h1m4 0h1m2 0h1m23 0h1m16 0h1m3 0h1m2 0h1m1 0h4m7 0h3m3 0h1m6 0h1m1 0h2m3 0h2m3 0h1M362.4 455.36h1m9 0h2m12 0h2m2 0h1m3 0h2m9 0h1m30 0h2m19 0h1m1 0h1M348.4 457.99h1m1 0h1m6 0h1m15 0h2m1 0h3m9 0h2m41 0h3m16 0h1m1 0h1m4 0h1M365.4 460.62h1m2 0h3m6 0h2m14 0h1m1 0h1m12 0h1m16 0h1m29 0h2M347.4 463.25h1m18 0h5m16 0h1m1 0h3m1 0h1m1 0h3m1 0h2m3 0h1m16 0h1m13 0h6m18 0h1m1 0h1M367.4 465.88h2m2 0h1m39 0h1m5 0h1m1 0h1m23 0h2m12 0h3m1 0h1M379.4 468.51h2m7 0h1m8 0h1m23 0h1m16 0h1m23 0h1M350.4 471.14h1m34 0h1m11 0h1m17 0h1m11 0h2m3 0h3M350.4 473.77h1m15 0h3m1 0h1m1 0h2m6 0h1m1 0h1m6 0h1m42 0h6m1 0h4m21 0h1M375.4 476.40h2m13 0h1m7 0h2m10 0h1m2 0h3m1 0h1m33 0h5M357.4 479.03h1m13 0h1m1 0h2m15 0h1m4 0h1m6 0h1m12 0h1m4 0h1m4 0h1m7 0h2m21 0h1M349.4 481.66h1m24 0h3m38 0h2m14 0h1m9 0h1m5 0h1m7 0h3m5 0h1M367.4 484.29h4m18 0h2m7 0h1m27 0h1m4 0h1m6 0h3m22 0h1" stroke="#1a1a1a" stroke-width="1.5" fill="none"/>
<path d="M361.4 400.48h1m6 0h2m15 0h1m19 0h1m26 0h1m13 0h3M361.4 403.11h5m8 0h1m2 0h4m9 0h3m21 0h4m9 0h4m12 0h7M359.4 405.74h2m1 0h1m84 0h2M356.4 408.37h3m5 0h1m5 0h1m17 0h1m1 0h1m24 0h1m11 0h2M371.4 411.00h1m6 0h1m1 0h1m6 0h1m3 0h1m26 0h6m27 0h2m7 0h1m3 0h1M378.4 413.63h2m1 0h1m31 0h1m9 0h1m6 0h3m1 0h2m16 0h2m1 0h2M368.4 416.26h2m20 0h1m1 0h2m29 0h1m1 0h1m16 0h2m5 0h1M358.4 418.89h3m1 0h1m27 0h1m28 0h1m6 0h1m26 0h2M357.4 421.52h3m6 0h2m4 0h1m6 0h1m13 0h3m32 0h2m19 0h1m7 0h3M344.4 424.15h1m17 0h2m79 0h1M368.4 426.78h1m1 0h2m10 0h2m3 0h1m2 0h1m3 0h2m10 0h1M380.4 429.41h2m3 0h1m1 0h2m5 0h1m45 0h1M357.4 432.04h7m21 0h1m8 0h1m39 0h1m9 0h1m3 0h1m4 0h2M370.4 434.67h2m13 0h1m1 0h1m42 0h3M365.4 437.30h1m4 0h1m11 0h1m67 0h1m2 0h2m7 0h2M362.4 439.93h2m7 0h4m19 0h1m41 0h1m8 0h1m7 0h1m1 0h2M355.4 442.56h1m15 0h3m8 0h1m16 0h1m25 0h1m6 0h1m6 0h1M354.4 445.19h1m1 0h2m4 0h2m10 0h1m16 0h1m30 0h1m1 0h1m12 0h1m1 0h1m13 0h2M364.4 447.82h2m3 0h3m2 0h2m13 0h3m39 0h3M348.4 450.45h2m16 0h2m22 0h1m3 0h3m14 0h2m22 0h3M365.4 453.08h2m10 0h2m4 0h1m11 0h2m63 0h1M357.4 455.71h1m74 0h2m9 0h1m2 0h1m16 0h1M420.4 458.34h1M356.4 460.97h2m13 0h3m1 0h1m14 0h2m25 0h1m11 0h2m1 0h3m3 0h4m6 0h1m5 0h1m6 0h1M371.4 463.60h2m13 0h1m21 0h1m7 0h2m8 0h1M363.4 466.23h1m22 0h1m7 0h2m19 0h1m11 0h6m3 0h2M340.4 468.86h1m7 0h1m17 0h2m3 0h2m18 0h3m1 0h1m33 0h3m28 0h1M376.4 471.49h3m10 0h5m27 0h1m14 0h1m1 0h1m8 0h1m4 0h3m1 0h1M343.4 474.12h1m19 0h1m19 0h2m15 0h2m2 0h1m25 0h2m23 0h4M345.4 476.75h1m26 0h1m19 0h3m32 0h1M351.4 479.38h1m23 0h4m18 0h1m38 0h3m1 0h1m10 0h3M370.4 482.01h4m4 0h1m13 0h2m1 0h3m35 0h3m7 0h2M345.4 484.64h3m16 0h1m8 0h3m1 0h2m15 0h3m22 0h2m11 0h3m6 0h4m13 0h1" stroke="#444" stroke-width="0.8" fill="none"/>
<text transform="translate(31.50,328.30) rotate(-90) scale(1,1.07)" font-size="11.3" text-anchor="middle" stroke="#000" stroke-width="0.22">Days</text>
<text transform="translate(31.50,432.80) rotate(-90) scale(1,1.07)" font-size="11.3" text-anchor="middle" stroke="#000" stroke-width="0.22">Days</text>
<text transform="translate(0.30,332.60) scale(1.0,1.0)" font-size="12.3" text-anchor="start" font-weight="normal" fill="#000" stroke="#000" stroke-width="0.18"  >+/+</text>
<text transform="translate(0.60,437.40) scale(1.0,0.92)" font-size="13" text-anchor="start" font-weight="normal" fill="#dc0a1e"   stroke="#e0001a" stroke-width="0.55"><tspan font-style="italic">–/–</tspan></text>
<text transform="translate(468.60,264.70) scale(1.0,0.95)" font-size="11.6" text-anchor="end" font-weight="normal" fill="#000" stroke="#000" stroke-width="0.18"  >20 lux</text>
<rect x="438.3" y="267.1" width="30.3" height="1.0" fill="#444"/>
<rect x="438.3" y="269.0" width="30.3" height="1.0" fill="#444"/>
<text transform="translate(489.00,15.30) scale(1.0,1.0)" font-size="16.5" text-anchor="start" font-weight="bold" fill="#000" stroke="#000" stroke-width="0.18"  >C</text>
<g transform="translate(556.30,20.60) scale(1.0,1.07)" fill="#000" stroke="#000" stroke-width="0.05"><text x="-15.65" y="0" font-size="12.8" font-weight="normal"  >CT 4</text><path d="M763 0 L583 0 L583 -1102 Q518 -1042 412 -983 Q306 -924 223 -894 L223 -1061 Q372 -1128 484 -1224 Q596 -1320 643 -1409 L763 -1409 Z" stroke-width="8" transform="translate(1.41,0) scale(0.00625)"/></g>
<text transform="translate(607.50,20.60) scale(1.0,1.07)" font-size="12.8" text-anchor="middle" font-weight="normal" fill="#000" stroke="#000" stroke-width="0.05"  >CT22</text>
<text transform="translate(659.80,20.60) scale(1.0,1.07)" font-size="12.8" text-anchor="middle" font-weight="normal" fill="#000" stroke="#000" stroke-width="0.05"  >CT6</text>
<line x1="526.8" y1="27.300000000000004" x2="526.8" y2="182.05" stroke="#333" stroke-width="1"/>
<line x1="520.8" y1="27.300000000000004" x2="526.8" y2="27.300000000000004" stroke="#333" stroke-width="1"/>
<text transform="translate(518.80,31.20) scale(1.0,1.0)" font-size="11.3" text-anchor="end" font-weight="normal" fill="#000" stroke="#000" stroke-width="0.08"  >2</text>
<line x1="520.8" y1="58.25" x2="526.8" y2="58.25" stroke="#333" stroke-width="1"/>
<g transform="translate(518.80,62.15) scale(1.0,1.0)" fill="#000" stroke="#000" stroke-width="0.08"><text x="-6.28" y="0" font-size="11.3" font-weight="normal"  > </text><path d="M763 0 L583 0 L583 -1102 Q518 -1042 412 -983 Q306 -924 223 -894 L223 -1061 Q372 -1128 484 -1224 Q596 -1320 643 -1409 L763 -1409 Z" stroke-width="14" transform="translate(-6.28,0) scale(0.00552)"/></g>
<line x1="520.8" y1="89.2" x2="526.8" y2="89.2" stroke="#333" stroke-width="1"/>
<text transform="translate(518.80,93.10) scale(1.0,1.0)" font-size="11.3" text-anchor="end" font-weight="normal" fill="#000" stroke="#000" stroke-width="0.08"  >0</text>
<line x1="520.8" y1="120.15" x2="526.8" y2="120.15" stroke="#333" stroke-width="1"/>
<g transform="translate(518.80,124.05) scale(1.0,1.0)" fill="#000" stroke="#000" stroke-width="0.08"><text x="-12.88" y="0" font-size="11.3" font-weight="normal"  >− </text><path d="M763 0 L583 0 L583 -1102 Q518 -1042 412 -983 Q306 -924 223 -894 L223 -1061 Q372 -1128 484 -1224 Q596 -1320 643 -1409 L763 -1409 Z" stroke-width="14" transform="translate(-6.28,0) scale(0.00552)"/></g>
<line x1="520.8" y1="151.1" x2="526.8" y2="151.1" stroke="#333" stroke-width="1"/>
<text transform="translate(518.80,155.00) scale(1.0,1.0)" font-size="11.3" text-anchor="end" font-weight="normal" fill="#000" stroke="#000" stroke-width="0.08"  >−2</text>
<line x1="520.8" y1="182.05" x2="526.8" y2="182.05" stroke="#333" stroke-width="1"/>
<text transform="translate(518.80,185.95) scale(1.0,1.0)" font-size="11.3" text-anchor="end" font-weight="normal" fill="#000" stroke="#000" stroke-width="0.08"  >−3</text>
<text transform="translate(501.50,104.00) rotate(-90) scale(1,1.07)" font-size="11.4" text-anchor="middle" stroke="#000" stroke-width="0.22">Phase shift (h)</text>
<rect x="538.1" y="89.2" width="17.0" height="62.828500000000005" fill="#555" stroke="#222" stroke-width="0.8"/>
<rect x="555.6" y="89.2" width="16.6" height="35.40679999999999" fill="#dc0a1e" stroke="#222" stroke-width="0.8"/>
<rect x="589.9" y="67.2874" width="16.8" height="21.912599999999998" fill="#555" stroke="#222" stroke-width="0.8"/>
<rect x="606.9" y="71.09425" width="16.8" height="18.10575" fill="#dc0a1e" stroke="#222" stroke-width="0.8"/>
<rect x="641.3" y="84.40275" width="17.1" height="4.797250000000005" fill="#555" stroke="#222" stroke-width="0.8"/>
<rect x="658.4" y="85.88835" width="16.7" height="3.31165" fill="#dc0a1e" stroke="#222" stroke-width="0.8"/>
<line x1="526.8" y1="89.2" x2="685" y2="89.2" stroke="#222" stroke-width="1.1"/>
<line x1="546.6" y1="152.0285" x2="546.6" y2="156.51625" stroke="#333" stroke-width="0.9"/>
<line x1="542.6" y1="156.51625" x2="550.6" y2="156.51625" stroke="#333" stroke-width="0.9"/>
<circle cx="539.7" cy="141.7" r="1.65" fill="#fff" stroke="#1a1a1a" stroke-width="0.9"/>
<circle cx="544.4" cy="141.1" r="1.65" fill="#fff" stroke="#1a1a1a" stroke-width="0.9"/>
<circle cx="549.1" cy="142.7" r="1.65" fill="#fff" stroke="#1a1a1a" stroke-width="0.9"/>
<circle cx="553.7" cy="143.7" r="1.65" fill="#fff" stroke="#1a1a1a" stroke-width="0.9"/>
<circle cx="544.4" cy="147.5" r="1.65" fill="#fff" stroke="#1a1a1a" stroke-width="0.9"/>
<circle cx="549.1" cy="146.4" r="1.65" fill="#fff" stroke="#1a1a1a" stroke-width="0.9"/>
<circle cx="553.7" cy="147.1" r="1.65" fill="#fff" stroke="#1a1a1a" stroke-width="0.9"/>
<circle cx="549.1" cy="149.8" r="1.65" fill="#fff" stroke="#1a1a1a" stroke-width="0.9"/>
<circle cx="543.7" cy="169.8" r="1.65" fill="#fff" stroke="#1a1a1a" stroke-width="0.9"/>
<circle cx="548.7" cy="170.2" r="1.65" fill="#fff" stroke="#1a1a1a" stroke-width="0.9"/>
<circle cx="546.8" cy="175.2" r="1.65" fill="#fff" stroke="#1a1a1a" stroke-width="0.9"/>
<line x1="563.9" y1="124.60679999999999" x2="563.9" y2="129.9921" stroke="#333" stroke-width="0.9"/>
<line x1="559.9" y1="129.9921" x2="567.9" y2="129.9921" stroke="#333" stroke-width="0.9"/>
<circle cx="563.8" cy="91.7" r="1.65" fill="#fff" stroke="#1a1a1a" stroke-width="0.9"/>
<circle cx="563.8" cy="100.7" r="1.65" fill="#fff" stroke="#1a1a1a" stroke-width="0.9"/>
<circle cx="563.8" cy="108.9" r="1.65" fill="#fff" stroke="#1a1a1a" stroke-width="0.9"/>
<circle cx="561.5" cy="115.4" r="1.65" fill="#fff" stroke="#1a1a1a" stroke-width="0.9"/>
<circle cx="566.1" cy="115.4" r="1.65" fill="#fff" stroke="#1a1a1a" stroke-width="0.9"/>
<circle cx="556.8" cy="118" r="1.65" fill="#fff" stroke="#1a1a1a" stroke-width="0.9"/>
<circle cx="570.8" cy="117.7" r="1.65" fill="#fff" stroke="#1a1a1a" stroke-width="0.9"/>
<circle cx="563.8" cy="128.8" r="1.65" fill="#fff" stroke="#1a1a1a" stroke-width="0.9"/>
<circle cx="563.8" cy="136" r="1.65" fill="#fff" stroke="#1a1a1a" stroke-width="0.9"/>
<circle cx="561.8" cy="139.7" r="1.65" fill="#fff" stroke="#1a1a1a" stroke-width="0.9"/>
<circle cx="566.1" cy="141.7" r="1.65" fill="#fff" stroke="#1a1a1a" stroke-width="0.9"/>
<circle cx="561.8" cy="144.8" r="1.65" fill="#fff" stroke="#1a1a1a" stroke-width="0.9"/>
<circle cx="566.1" cy="146.2" r="1.65" fill="#fff" stroke="#1a1a1a" stroke-width="0.9"/>
<circle cx="561.8" cy="149.1" r="1.65" fill="#fff" stroke="#1a1a1a" stroke-width="0.9"/>
<line x1="598.3" y1="67.2874" x2="598.3" y2="62.49015" stroke="#333" stroke-width="0.9"/>
<line x1="594.3" y1="62.49015" x2="602.3" y2="62.49015" stroke="#333" stroke-width="0.9"/>
<circle cx="598.2" cy="35.7" r="1.65" fill="#fff" stroke="#1a1a1a" stroke-width="0.9"/>
<circle cx="598.2" cy="47.2" r="1.65" fill="#fff" stroke="#1a1a1a" stroke-width="0.9"/>
<circle cx="598.2" cy="59.6" r="1.65" fill="#fff" stroke="#1a1a1a" stroke-width="0.9"/>
<circle cx="598.2" cy="67" r="1.65" fill="#fff" stroke="#1a1a1a" stroke-width="0.9"/>
<circle cx="595.2" cy="70.3" r="1.65" fill="#fff" stroke="#1a1a1a" stroke-width="0.9"/>
<circle cx="601.5" cy="70.3" r="1.65" fill="#fff" stroke="#1a1a1a" stroke-width="0.9"/>
<circle cx="595.2" cy="79" r="1.65" fill="#fff" stroke="#1a1a1a" stroke-width="0.9"/>
<circle cx="601.5" cy="76.4" r="1.65" fill="#fff" stroke="#1a1a1a" stroke-width="0.9"/>
<circle cx="601.5" cy="81.8" r="1.65" fill="#fff" stroke="#1a1a1a" stroke-width="0.9"/>
<circle cx="598.2" cy="88.9" r="1.65" fill="#fff" stroke="#1a1a1a" stroke-width="0.9"/>
<line x1="615.3" y1="71.09425" x2="615.3" y2="65.3066" stroke="#333" stroke-width="0.9"/>
<line x1="611.3" y1="65.3066" x2="619.3" y2="65.3066" stroke="#333" stroke-width="0.9"/>
<circle cx="615.1" cy="34" r="1.65" fill="#fff" stroke="#1a1a1a" stroke-width="0.9"/>
<circle cx="615.1" cy="51.7" r="1.65" fill="#fff" stroke="#1a1a1a" stroke-width="0.9"/>
<circle cx="611.7" cy="57.9" r="1.65" fill="#fff" stroke="#1a1a1a" stroke-width="0.9"/>
<circle cx="618.7" cy="57.9" r="1.65" fill="#fff" stroke="#1a1a1a" stroke-width="0.9"/>
<circle cx="615.1" cy="68.1" r="1.65" fill="#fff" stroke="#1a1a1a" stroke-width="0.9"/>
<circle cx="615.1" cy="75.2" r="1.65" fill="#fff" stroke="#1a1a1a" stroke-width="0.9"/>
<circle cx="615.1" cy="78.5" r="1.65" fill="#fff" stroke="#1a1a1a" stroke-width="0.9"/>
<circle cx="608.4" cy="77.7" r="1.65" fill="#fff" stroke="#1a1a1a" stroke-width="0.9"/>
<circle cx="608.4" cy="81.3" r="1.65" fill="#fff" stroke="#1a1a1a" stroke-width="0.9"/>
<circle cx="622.5" cy="81.8" r="1.65" fill="#fff" stroke="#1a1a1a" stroke-width="0.9"/>
<circle cx="615.1" cy="88.9" r="1.65" fill="#fff" stroke="#1a1a1a" stroke-width="0.9"/>
<circle cx="615.1" cy="96.1" r="1.65" fill="#fff" stroke="#1a1a1a" stroke-width="0.9"/>
<line x1="649.8499999999999" y1="84.40275" x2="649.8499999999999" y2="82.23625" stroke="#333" stroke-width="0.9"/>
<line x1="645.8499999999999" y1="82.23625" x2="653.8499999999999" y2="82.23625" stroke="#333" stroke-width="0.9"/>
<circle cx="647.4" cy="73.3" r="1.65" fill="#fff" stroke="#1a1a1a" stroke-width="0.9"/>
<circle cx="652.1" cy="75.1" r="1.65" fill="#fff" stroke="#1a1a1a" stroke-width="0.9"/>
<circle cx="642.8" cy="82.6" r="1.65" fill="#fff" stroke="#1a1a1a" stroke-width="0.9"/>
<circle cx="652.1" cy="82.6" r="1.65" fill="#fff" stroke="#1a1a1a" stroke-width="0.9"/>
<circle cx="647.4" cy="85.9" r="1.65" fill="#fff" stroke="#1a1a1a" stroke-width="0.9"/>
<circle cx="652.1" cy="85.9" r="1.65" fill="#fff" stroke="#1a1a1a" stroke-width="0.9"/>
<circle cx="647.4" cy="89.1" r="1.65" fill="#fff" stroke="#1a1a1a" stroke-width="0.9"/>
<circle cx="652.1" cy="91.6" r="1.65" fill="#fff" stroke="#1a1a1a" stroke-width="0.9"/>
<circle cx="647.4" cy="93.8" r="1.65" fill="#fff" stroke="#1a1a1a" stroke-width="0.9"/>
<line x1="666.75" y1="85.88835" x2="666.75" y2="83.28855" stroke="#333" stroke-width="0.9"/>
<line x1="662.75" y1="83.28855" x2="670.75" y2="83.28855" stroke="#333" stroke-width="0.9"/>
<circle cx="659.8" cy="79.4" r="1.65" fill="#fff" stroke="#1a1a1a" stroke-width="0.9"/>
<circle cx="659.8" cy="82.8" r="1.65" fill="#fff" stroke="#1a1a1a" stroke-width="0.9"/>
<circle cx="666.7" cy="85.1" r="1.65" fill="#fff" stroke="#1a1a1a" stroke-width="0.9"/>
<circle cx="666.7" cy="88" r="1.65" fill="#fff" stroke="#1a1a1a" stroke-width="0.9"/>
<circle cx="663.2" cy="92" r="1.65" fill="#fff" stroke="#1a1a1a" stroke-width="0.9"/>
<circle cx="670.3" cy="91.6" r="1.65" fill="#fff" stroke="#1a1a1a" stroke-width="0.9"/>
<circle cx="673.8" cy="80.5" r="1.65" fill="#fff" stroke="#1a1a1a" stroke-width="0.9"/>
<circle cx="673.8" cy="83.8" r="1.65" fill="#fff" stroke="#1a1a1a" stroke-width="0.9"/>
<rect x="613.5" y="120" width="10.5" height="9.6" fill="#555"/>
<rect x="613.5" y="136.7" width="10.5" height="9.6" fill="#dc0a1e"/>
<g transform="translate(633.00,129.30)" fill="#000" stroke="#000" stroke-width="0.2"><text x="0" y="0" font-size="11"><tspan font-style="italic">Gpr 9</tspan> +/+</text><path d="M663 0 L483 0 L717 -1102 Q640 -1042 521 -983 Q402 -924 313 -894 L349 -1061 Q512 -1128 644 -1224 Q777 -1320 843 -1409 L963 -1409 Z" stroke-width="37" transform="translate(18.34,0) scale(0.00537)"/></g>
<g transform="translate(633.00,145.90)" fill="#dc0a1e" stroke="#dc0a1e" stroke-width="0.2"><text x="0" y="0" font-size="11"><tspan font-style="italic">Gpr 9 –/–</tspan></text><path d="M663 0 L483 0 L717 -1102 Q640 -1042 521 -983 Q402 -924 313 -894 L349 -1061 Q512 -1128 644 -1224 Q777 -1320 843 -1409 L963 -1409 Z" stroke-width="37" transform="translate(18.34,0) scale(0.00537)"/></g>
<line x1="544.6" y1="178.5" x2="566.1" y2="178.5" stroke="#222" stroke-width="1"/>
<polygon points="547.40,180.65 548.03,182.33 549.83,182.41 548.42,183.53 548.90,185.26 547.40,184.27 545.90,185.26 546.38,183.53 544.97,182.41 546.77,182.33" fill="#111"/><polygon points="552.70,180.65 553.33,182.33 555.13,182.41 553.72,183.53 554.20,185.26 552.70,184.27 551.20,185.26 551.68,183.53 550.27,182.41 552.07,182.33" fill="#111"/><polygon points="558.00,180.65 558.63,182.33 560.43,182.41 559.02,183.53 559.50,185.26 558.00,184.27 556.50,185.26 556.98,183.53 555.57,182.41 557.37,182.33" fill="#111"/><polygon points="563.30,180.65 563.93,182.33 565.73,182.41 564.32,183.53 564.80,185.26 563.30,184.27 561.80,185.26 562.28,183.53 560.87,182.41 562.67,182.33" fill="#111"/>
<text transform="translate(630.20,176.90) scale(1.0,1.0)" font-size="11.6" text-anchor="start" font-weight="normal" fill="#000" stroke="#000" stroke-width="0.18"  >200 lux</text>
<rect x="630.2" y="178.8" width="37.4" height="1" fill="#222"/>
<text transform="translate(489.00,267.20) scale(1.0,1.0)" font-size="16.5" text-anchor="start" font-weight="bold" fill="#000" stroke="#000" stroke-width="0.18"  >D</text>
<g transform="translate(556.30,272.50) scale(1.0,1.07)" fill="#000" stroke="#000" stroke-width="0.05"><text x="-15.65" y="0" font-size="12.8" font-weight="normal"  >CT 4</text><path d="M763 0 L583 0 L583 -1102 Q518 -1042 412 -983 Q306 -924 223 -894 L223 -1061 Q372 -1128 484 -1224 Q596 -1320 643 -1409 L763 -1409 Z" stroke-width="8" transform="translate(1.41,0) scale(0.00625)"/></g>
<text transform="translate(607.50,272.50) scale(1.0,1.07)" font-size="12.8" text-anchor="middle" font-weight="normal" fill="#000" stroke="#000" stroke-width="0.05"  >CT22</text>
<text transform="translate(659.80,272.50) scale(1.0,1.07)" font-size="12.8" text-anchor="middle" font-weight="normal" fill="#000" stroke="#000" stroke-width="0.05"  >CT6</text>
<line x1="526.8" y1="279.86" x2="526.8" y2="432.96000000000004" stroke="#333" stroke-width="1"/>
<line x1="520.8" y1="279.86" x2="526.8" y2="279.86" stroke="#333" stroke-width="1"/>
<text transform="translate(518.80,283.76) scale(1.0,1.0)" font-size="11.3" text-anchor="end" font-weight="normal" fill="#000" stroke="#000" stroke-width="0.08"  >2</text>
<line x1="520.8" y1="310.48" x2="526.8" y2="310.48" stroke="#333" stroke-width="1"/>
<g transform="translate(518.80,314.38) scale(1.0,1.0)" fill="#000" stroke="#000" stroke-width="0.08"><text x="-6.28" y="0" font-size="11.3" font-weight="normal"  > </text><path d="M763 0 L583 0 L583 -1102 Q518 -1042 412 -983 Q306 -924 223 -894 L223 -1061 Q372 -1128 484 -1224 Q596 -1320 643 -1409 L763 -1409 Z" stroke-width="14" transform="translate(-6.28,0) scale(0.00552)"/></g>
<line x1="520.8" y1="341.1" x2="526.8" y2="341.1" stroke="#333" stroke-width="1"/>
<text transform="translate(518.80,345.00) scale(1.0,1.0)" font-size="11.3" text-anchor="end" font-weight="normal" fill="#000" stroke="#000" stroke-width="0.08"  >0</text>
<line x1="520.8" y1="371.72" x2="526.8" y2="371.72" stroke="#333" stroke-width="1"/>
<g transform="translate(518.80,375.62) scale(1.0,1.0)" fill="#000" stroke="#000" stroke-width="0.08"><text x="-12.88" y="0" font-size="11.3" font-weight="normal"  >− </text><path d="M763 0 L583 0 L583 -1102 Q518 -1042 412 -983 Q306 -924 223 -894 L223 -1061 Q372 -1128 484 -1224 Q596 -1320 643 -1409 L763 -1409 Z" stroke-width="14" transform="translate(-6.28,0) scale(0.00552)"/></g>
<line x1="520.8" y1="402.34000000000003" x2="526.8" y2="402.34000000000003" stroke="#333" stroke-width="1"/>
<text transform="translate(518.80,406.24) scale(1.0,1.0)" font-size="11.3" text-anchor="end" font-weight="normal" fill="#000" stroke="#000" stroke-width="0.08"  >−2</text>
<line x1="520.8" y1="432.96000000000004" x2="526.8" y2="432.96000000000004" stroke="#333" stroke-width="1"/>
<text transform="translate(518.80,436.86) scale(1.0,1.0)" font-size="11.3" text-anchor="end" font-weight="normal" fill="#000" stroke="#000" stroke-width="0.08"  >−3</text>
<text transform="translate(501.50,355.90) rotate(-90) scale(1,1.07)" font-size="11.4" text-anchor="middle" stroke="#000" stroke-width="0.22">Phase shift (h)</text>
<rect x="538.9" y="341.1" width="16.8" height="58.39233999999999" fill="#555" stroke="#222" stroke-width="0.8"/>
<rect x="555.8" y="341.1" width="16.7" height="21.709580000000017" fill="#dc0a1e" stroke="#222" stroke-width="0.8"/>
<rect x="590.4" y="330.81168" width="16.3" height="10.288319999999999" fill="#555" stroke="#222" stroke-width="0.8"/>
<rect x="607.1" y="332.58764" width="16.7" height="8.512360000000001" fill="#dc0a1e" stroke="#222" stroke-width="0.8"/>
<rect x="641.2" y="338.1911" width="16.8" height="2.908900000000017" fill="#555" stroke="#222" stroke-width="0.8"/>
<rect x="658.4" y="336.99692000000005" width="16.6" height="4.103079999999977" fill="#dc0a1e" stroke="#222" stroke-width="0.8"/>
<line x1="526.8" y1="341.1" x2="685" y2="341.1" stroke="#222" stroke-width="1.1"/>
<line x1="547.3" y1="399.49234" x2="547.3" y2="403.1055" stroke="#333" stroke-width="0.9"/>
<line x1="543.3" y1="403.1055" x2="551.3" y2="403.1055" stroke="#333" stroke-width="0.9"/>
<circle cx="540.1" cy="391.7" r="1.65" fill="#fff" stroke="#1a1a1a" stroke-width="0.9"/>
<circle cx="547" cy="389.7" r="1.65" fill="#fff" stroke="#1a1a1a" stroke-width="0.9"/>
<circle cx="554" cy="392.4" r="1.65" fill="#fff" stroke="#1a1a1a" stroke-width="0.9"/>
<circle cx="547" cy="399.8" r="1.65" fill="#fff" stroke="#1a1a1a" stroke-width="0.9"/>
<circle cx="547" cy="406.1" r="1.65" fill="#fff" stroke="#1a1a1a" stroke-width="0.9"/>
<circle cx="554" cy="404.2" r="1.65" fill="#fff" stroke="#1a1a1a" stroke-width="0.9"/>
<circle cx="547" cy="413.8" r="1.65" fill="#fff" stroke="#1a1a1a" stroke-width="0.9"/>
<line x1="564.15" y1="362.80958000000004" x2="564.15" y2="365.87158" stroke="#333" stroke-width="0.9"/>
<line x1="560.15" y1="365.87158" x2="568.15" y2="365.87158" stroke="#333" stroke-width="0.9"/>
<circle cx="564.2" cy="343.6" r="1.65" fill="#fff" stroke="#1a1a1a" stroke-width="0.9"/>
<circle cx="564.2" cy="346.9" r="1.65" fill="#fff" stroke="#1a1a1a" stroke-width="0.9"/>
<circle cx="564.2" cy="351.2" r="1.65" fill="#fff" stroke="#1a1a1a" stroke-width="0.9"/>
<circle cx="564.2" cy="355.8" r="1.65" fill="#fff" stroke="#1a1a1a" stroke-width="0.9"/>
<circle cx="563.9" cy="365.1" r="1.65" fill="#fff" stroke="#1a1a1a" stroke-width="0.9"/>
<circle cx="561.9" cy="368.8" r="1.65" fill="#fff" stroke="#1a1a1a" stroke-width="0.9"/>
<circle cx="566.5" cy="370.0" r="1.65" fill="#fff" stroke="#1a1a1a" stroke-width="0.9"/>
<circle cx="571.1" cy="369.7" r="1.65" fill="#fff" stroke="#1a1a1a" stroke-width="0.9"/>
<circle cx="557" cy="370.0" r="1.65" fill="#fff" stroke="#1a1a1a" stroke-width="0.9"/>
<circle cx="563.9" cy="375.3" r="1.65" fill="#fff" stroke="#1a1a1a" stroke-width="0.9"/>
<circle cx="563.9" cy="378.5" r="1.65" fill="#fff" stroke="#1a1a1a" stroke-width="0.9"/>
<line x1="598.55" y1="330.81168" x2="598.55" y2="326.12682" stroke="#333" stroke-width="0.9"/>
<line x1="594.55" y1="326.12682" x2="602.55" y2="326.12682" stroke="#333" stroke-width="0.9"/>
<circle cx="598.1" cy="298.7" r="1.65" fill="#fff" stroke="#1a1a1a" stroke-width="0.9"/>
<circle cx="598.1" cy="317.8" r="1.65" fill="#fff" stroke="#1a1a1a" stroke-width="0.9"/>
<circle cx="601.3" cy="322.8" r="1.65" fill="#fff" stroke="#1a1a1a" stroke-width="0.9"/>
<circle cx="595" cy="325.1" r="1.65" fill="#fff" stroke="#1a1a1a" stroke-width="0.9"/>
<circle cx="598.1" cy="328.2" r="1.65" fill="#fff" stroke="#1a1a1a" stroke-width="0.9"/>
<circle cx="601.3" cy="330.8" r="1.65" fill="#fff" stroke="#1a1a1a" stroke-width="0.9"/>
<circle cx="595" cy="333.5" r="1.65" fill="#fff" stroke="#1a1a1a" stroke-width="0.9"/>
<circle cx="601.3" cy="340.9" r="1.65" fill="#fff" stroke="#1a1a1a" stroke-width="0.9"/>
<circle cx="595" cy="343.5" r="1.65" fill="#fff" stroke="#1a1a1a" stroke-width="0.9"/>
<circle cx="601.3" cy="345.6" r="1.65" fill="#fff" stroke="#1a1a1a" stroke-width="0.9"/>
<circle cx="595" cy="347.6" r="1.65" fill="#fff" stroke="#1a1a1a" stroke-width="0.9"/>
<line x1="615.45" y1="332.58764" x2="615.45" y2="329.52564" stroke="#333" stroke-width="0.9"/>
<line x1="611.45" y1="329.52564" x2="619.45" y2="329.52564" stroke="#333" stroke-width="0.9"/>
<circle cx="615.5" cy="312.8" r="1.65" fill="#fff" stroke="#1a1a1a" stroke-width="0.9"/>
<circle cx="615.5" cy="321.9" r="1.65" fill="#fff" stroke="#1a1a1a" stroke-width="0.9"/>
<circle cx="608.4" cy="328.6" r="1.65" fill="#fff" stroke="#1a1a1a" stroke-width="0.9"/>
<circle cx="617.8" cy="329.9" r="1.65" fill="#fff" stroke="#1a1a1a" stroke-width="0.9"/>
<circle cx="622.5" cy="329.9" r="1.65" fill="#fff" stroke="#1a1a1a" stroke-width="0.9"/>
<circle cx="613.1" cy="332.8" r="1.65" fill="#fff" stroke="#1a1a1a" stroke-width="0.9"/>
<circle cx="617.8" cy="334.8" r="1.65" fill="#fff" stroke="#1a1a1a" stroke-width="0.9"/>
<circle cx="622.5" cy="333.1" r="1.65" fill="#fff" stroke="#1a1a1a" stroke-width="0.9"/>
<circle cx="615.5" cy="339.3" r="1.65" fill="#fff" stroke="#1a1a1a" stroke-width="0.9"/>
<circle cx="612.8" cy="346.0" r="1.65" fill="#fff" stroke="#1a1a1a" stroke-width="0.9"/>
<circle cx="617.8" cy="345.2" r="1.65" fill="#fff" stroke="#1a1a1a" stroke-width="0.9"/>
<line x1="649.6" y1="338.1911" x2="649.6" y2="334.5167" stroke="#333" stroke-width="0.9"/>
<line x1="645.6" y1="334.5167" x2="653.6" y2="334.5167" stroke="#333" stroke-width="0.9"/>
<circle cx="649.4" cy="324.5" r="1.65" fill="#fff" stroke="#1a1a1a" stroke-width="0.9"/>
<circle cx="649.4" cy="331.0" r="1.65" fill="#fff" stroke="#1a1a1a" stroke-width="0.9"/>
<circle cx="656.5" cy="329.8" r="1.65" fill="#fff" stroke="#1a1a1a" stroke-width="0.9"/>
<circle cx="649.4" cy="338.7" r="1.65" fill="#fff" stroke="#1a1a1a" stroke-width="0.9"/>
<circle cx="649.4" cy="345.6" r="1.65" fill="#fff" stroke="#1a1a1a" stroke-width="0.9"/>
<circle cx="642.6" cy="348.6" r="1.65" fill="#fff" stroke="#1a1a1a" stroke-width="0.9"/>
<circle cx="656.5" cy="348.1" r="1.65" fill="#fff" stroke="#1a1a1a" stroke-width="0.9"/>
<line x1="666.6999999999999" y1="336.99692000000005" x2="666.6999999999999" y2="332.49578" stroke="#333" stroke-width="0.9"/>
<line x1="662.6999999999999" y1="332.49578" x2="670.6999999999999" y2="332.49578" stroke="#333" stroke-width="0.9"/>
<circle cx="663.4" cy="326.3" r="1.65" fill="#fff" stroke="#1a1a1a" stroke-width="0.9"/>
<circle cx="669.7" cy="325.3" r="1.65" fill="#fff" stroke="#1a1a1a" stroke-width="0.9"/>
<circle cx="666.4" cy="335.1" r="1.65" fill="#fff" stroke="#1a1a1a" stroke-width="0.9"/>
<circle cx="663.4" cy="340.1" r="1.65" fill="#fff" stroke="#1a1a1a" stroke-width="0.9"/>
<circle cx="669.7" cy="342.5" r="1.65" fill="#fff" stroke="#1a1a1a" stroke-width="0.9"/>
<circle cx="666.4" cy="350.4" r="1.65" fill="#fff" stroke="#1a1a1a" stroke-width="0.9"/>
<rect x="613.5" y="371.9" width="10.5" height="9.6" fill="#555"/>
<rect x="613.5" y="388.6" width="10.5" height="9.6" fill="#dc0a1e"/>
<g transform="translate(633.00,381.20)" fill="#000" stroke="#000" stroke-width="0.2"><text x="0" y="0" font-size="11"><tspan font-style="italic">Gpr 9</tspan> +/+</text><path d="M663 0 L483 0 L717 -1102 Q640 -1042 521 -983 Q402 -924 313 -894 L349 -1061 Q512 -1128 644 -1224 Q777 -1320 843 -1409 L963 -1409 Z" stroke-width="37" transform="translate(18.34,0) scale(0.00537)"/></g>
<g transform="translate(633.00,397.80)" fill="#dc0a1e" stroke="#dc0a1e" stroke-width="0.2"><text x="0" y="0" font-size="11"><tspan font-style="italic">Gpr 9 –/–</tspan></text><path d="M663 0 L483 0 L717 -1102 Q640 -1042 521 -983 Q402 -924 313 -894 L349 -1061 Q512 -1128 644 -1224 Q777 -1320 843 -1409 L963 -1409 Z" stroke-width="37" transform="translate(18.34,0) scale(0.00537)"/></g>
<line x1="545" y1="425.9" x2="566.5" y2="425.9" stroke="#999" stroke-width="1.5"/>
<polygon points="547.60,428.45 548.23,430.13 550.03,430.21 548.62,431.33 549.10,433.06 547.60,432.07 546.10,433.06 546.58,431.33 545.17,430.21 546.97,430.13" fill="#111"/><polygon points="552.90,428.45 553.53,430.13 555.33,430.21 553.92,431.33 554.40,433.06 552.90,432.07 551.40,433.06 551.88,431.33 550.47,430.21 552.27,430.13" fill="#111"/><polygon points="558.20,428.45 558.83,430.13 560.63,430.21 559.22,431.33 559.70,433.06 558.20,432.07 556.70,433.06 557.18,431.33 555.77,430.21 557.57,430.13" fill="#111"/><polygon points="563.50,428.45 564.13,430.13 565.93,430.21 564.52,431.33 565.00,433.06 563.50,432.07 562.00,433.06 562.48,431.33 561.07,430.21 562.87,430.13" fill="#111"/>
<text transform="translate(633.70,429.80) scale(1.0,1.0)" font-size="11.4" text-anchor="start" font-weight="normal" fill="#000" stroke="#000" stroke-width="0.18"  >20 lux</text>
<rect x="633.7" y="431.5" width="30.3" height="1" fill="#222"/>
</svg></body></html>
